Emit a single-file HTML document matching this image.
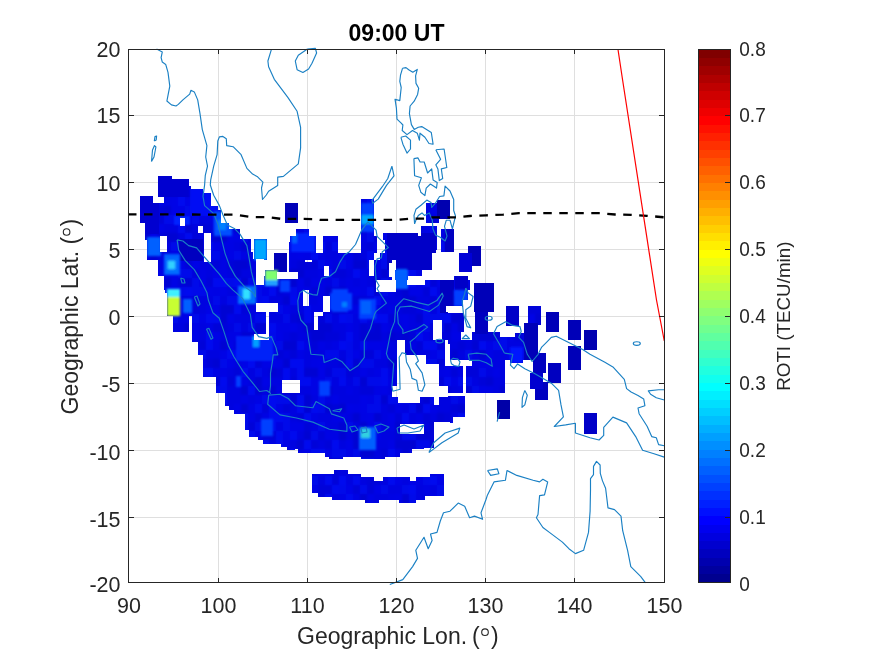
<!DOCTYPE html>
<html><head><meta charset="utf-8">
<style>
html,body{margin:0;padding:0;background:#fff;}
body{width:875px;height:656px;overflow:hidden;position:relative;}
svg{position:absolute;left:0;top:0;}
text{font-family:"Liberation Sans",sans-serif;fill:#262626;}
svg{will-change:transform;}
</style></head><body>
<svg width="875" height="656" viewBox="0 0 875 656">
<rect x="0" y="0" width="875" height="656" fill="#fff"/>

<g stroke="#dfdfdf" stroke-width="1" fill="none"><path d="M218.5 50V582M307.5 50V582M396.5 50V582M485.5 50V582M574.5 50V582M129 115.5H664M129 182.5H664M129 249.5H664M129 316.5H664M129 383.5H664M129 450.5H664M129 517.5H664"/></g>
<defs><mask id="dm" maskUnits="userSpaceOnUse" x="0" y="0" width="875" height="656"><g shape-rendering="crispEdges">
<rect x="158" y="176" width="14" height="4" fill="#fff"/>
<rect x="158" y="179" width="31" height="8" fill="#fff"/>
<rect x="158" y="186" width="33" height="4" fill="#fff"/>
<rect x="158" y="189" width="45" height="4" fill="#fff"/>
<rect x="158" y="193" width="53" height="4" fill="#fff"/>
<rect x="140" y="196" width="13" height="7" fill="#fff"/>
<rect x="164" y="196" width="47" height="7" fill="#fff"/>
<rect x="140" y="203" width="71" height="4" fill="#fff"/>
<rect x="140" y="206" width="78" height="5" fill="#fff"/>
<rect x="140" y="210" width="81" height="13" fill="#fff"/>
<rect x="145" y="223" width="84" height="7" fill="#fff"/>
<rect x="145" y="229" width="95" height="11" fill="#fff"/>
<rect x="147" y="239" width="104" height="13" fill="#fff"/>
<rect x="147" y="252" width="106" height="8" fill="#fff"/>
<rect x="158" y="259" width="98" height="17" fill="#fff"/>
<rect x="164" y="276" width="92" height="14" fill="#fff"/>
<rect x="264" y="276" width="31" height="14" fill="#fff"/>
<rect x="254" y="239" width="13" height="21" fill="#fff"/>
<rect x="274" y="253" width="13" height="19" fill="#fff"/>
<rect x="289" y="242" width="6" height="30" fill="#fff"/>
<rect x="285" y="203" width="10" height="20" fill="#fff"/>
<rect x="265" y="270" width="13" height="10" fill="#fff"/>
<rect x="290" y="203" width="8" height="20" fill="#fff"/>
<rect x="361" y="199" width="13" height="61" fill="#fff"/>
<rect x="421" y="226" width="16" height="24" fill="#fff"/>
<rect x="383" y="233" width="35" height="7" fill="#fff"/>
<rect x="426" y="203" width="13" height="20" fill="#fff"/>
<rect x="437" y="200" width="13" height="19" fill="#fff"/>
<rect x="296" y="229" width="13" height="7" fill="#fff"/>
<rect x="290" y="236" width="26" height="17" fill="#fff"/>
<rect x="323" y="236" width="15" height="17" fill="#fff"/>
<rect x="361" y="236" width="16" height="17" fill="#fff"/>
<rect x="385" y="236" width="51" height="17" fill="#fff"/>
<rect x="441" y="229" width="13" height="23" fill="#fff"/>
<rect x="290" y="253" width="84" height="7" fill="#fff"/>
<rect x="380" y="253" width="52" height="7" fill="#fff"/>
<rect x="290" y="260" width="79" height="16" fill="#fff"/>
<rect x="374" y="260" width="18" height="20" fill="#fff"/>
<rect x="396" y="260" width="36" height="10" fill="#fff"/>
<rect x="395" y="270" width="27" height="10" fill="#fff"/>
<rect x="290" y="276" width="86" height="14" fill="#fff"/>
<rect x="394" y="280" width="13" height="10" fill="#fff"/>
<rect x="425" y="280" width="25" height="10" fill="#fff"/>
<rect x="468" y="246" width="13" height="20" fill="#fff"/>
<rect x="459" y="253" width="13" height="19" fill="#fff"/>
<rect x="455" y="276" width="13" height="14" fill="#fff"/>
<rect x="445" y="280" width="25" height="10" fill="#fff"/>
<rect x="474" y="283" width="20" height="7" fill="#fff"/>
<rect x="165" y="285" width="130" height="8" fill="#fff"/>
<rect x="167" y="293" width="128" height="23" fill="#fff"/>
<rect x="173" y="316" width="16" height="16" fill="#fff"/>
<rect x="192" y="316" width="103" height="26" fill="#fff"/>
<rect x="198" y="342" width="97" height="13" fill="#fff"/>
<rect x="203" y="355" width="92" height="22" fill="#fff"/>
<rect x="216" y="377" width="79" height="16" fill="#fff"/>
<rect x="225" y="393" width="70" height="12" fill="#fff"/>
<rect x="290" y="285" width="155" height="120" fill="#fff"/>
<rect x="440" y="280" width="8" height="33" fill="#fff"/>
<rect x="448" y="287" width="6" height="20" fill="#fff"/>
<rect x="454" y="276" width="14" height="31" fill="#fff"/>
<rect x="468" y="280" width="2" height="7" fill="#fff"/>
<rect x="474" y="283" width="20" height="29" fill="#fff"/>
<rect x="475" y="312" width="13" height="22" fill="#fff"/>
<rect x="442" y="313" width="22" height="19" fill="#fff"/>
<rect x="440" y="332" width="21" height="13" fill="#fff"/>
<rect x="472" y="332" width="28" height="13" fill="#fff"/>
<rect x="448" y="340" width="90" height="20" fill="#fff"/>
<rect x="498" y="337" width="40" height="3" fill="#fff"/>
<rect x="515" y="333" width="9" height="4" fill="#fff"/>
<rect x="524" y="323" width="14" height="14" fill="#fff"/>
<rect x="510" y="347" width="13" height="16" fill="#fff"/>
<rect x="533" y="353" width="13" height="20" fill="#fff"/>
<rect x="530" y="373" width="13" height="16" fill="#fff"/>
<rect x="535" y="382" width="13" height="18" fill="#fff"/>
<rect x="548" y="363" width="13" height="20" fill="#fff"/>
<rect x="506" y="306" width="13" height="20" fill="#fff"/>
<rect x="528" y="306" width="13" height="19" fill="#fff"/>
<rect x="546" y="312" width="13" height="20" fill="#fff"/>
<rect x="568" y="320" width="13" height="20" fill="#fff"/>
<rect x="584" y="330" width="13" height="20" fill="#fff"/>
<rect x="568" y="346" width="13" height="24" fill="#fff"/>
<rect x="445" y="366" width="18" height="27" fill="#fff"/>
<rect x="466" y="360" width="39" height="33" fill="#fff"/>
<rect x="440" y="380" width="8" height="6" fill="#fff"/>
<rect x="448" y="396" width="15" height="9" fill="#fff"/>
<rect x="439" y="366" width="9" height="21" fill="#fff"/>
<rect x="439" y="397" width="9" height="8" fill="#fff"/>
<rect x="497" y="400" width="13" height="5" fill="#fff"/>
<rect x="225" y="400" width="70" height="6" fill="#fff"/>
<rect x="229" y="406" width="66" height="4" fill="#fff"/>
<rect x="234" y="410" width="61" height="4" fill="#fff"/>
<rect x="245" y="414" width="50" height="16" fill="#fff"/>
<rect x="249" y="430" width="46" height="7" fill="#fff"/>
<rect x="258" y="437" width="37" height="3" fill="#fff"/>
<rect x="263" y="440" width="32" height="4" fill="#fff"/>
<rect x="281" y="444" width="14" height="3" fill="#fff"/>
<rect x="287" y="447" width="8" height="3" fill="#fff"/>
<rect x="497" y="400" width="13" height="19" fill="#fff"/>
<rect x="420" y="396" width="14" height="52" fill="#fff"/>
<rect x="438" y="396" width="27" height="21" fill="#fff"/>
<rect x="434" y="403" width="19" height="20" fill="#fff"/>
<rect x="584" y="413" width="13" height="21" fill="#fff"/>
<rect x="290" y="400" width="8" height="49" fill="#fff"/>
<rect x="298" y="400" width="27" height="53" fill="#fff"/>
<rect x="325" y="400" width="4" height="57" fill="#fff"/>
<rect x="329" y="400" width="14" height="59" fill="#fff"/>
<rect x="343" y="400" width="18" height="57" fill="#fff"/>
<rect x="361" y="400" width="24" height="59" fill="#fff"/>
<rect x="385" y="400" width="15" height="57" fill="#fff"/>
<rect x="400" y="400" width="12" height="53" fill="#fff"/>
<rect x="412" y="400" width="12" height="49" fill="#fff"/>
<rect x="424" y="400" width="9" height="47" fill="#fff"/>
<rect x="433" y="400" width="17" height="22" fill="#fff"/>
<rect x="180" y="218" width="5" height="8" fill="#000"/>
<rect x="198" y="226" width="5" height="7" fill="#000"/>
<rect x="204" y="233" width="7" height="29" fill="#000"/>
<rect x="160" y="236" width="7" height="16" fill="#000"/>
<rect x="256" y="259" width="8" height="21" fill="#000"/>
<rect x="305" y="260" width="7" height="2" fill="#000"/>
<rect x="324" y="266" width="5" height="10" fill="#000"/>
<rect x="256" y="303" width="22" height="9" fill="#000"/>
<rect x="266" y="312" width="3" height="28" fill="#000"/>
<rect x="254" y="334" width="12" height="6" fill="#000"/>
<rect x="282" y="380" width="18" height="13" fill="#000"/>
<rect x="376" y="280" width="20" height="12" fill="#000"/>
<rect x="303" y="290" width="6" height="16" fill="#000"/>
<rect x="323" y="296" width="7" height="16" fill="#000"/>
<rect x="314" y="312" width="9" height="4" fill="#000"/>
<rect x="314" y="312" width="4" height="18" fill="#000"/>
<rect x="433" y="320" width="9" height="20" fill="#000"/>
<rect x="445" y="344" width="5" height="22" fill="#000"/>
<rect x="397" y="340" width="8" height="15" fill="#000"/>
<rect x="397" y="355" width="29" height="9" fill="#000"/>
<rect x="397" y="364" width="42" height="22" fill="#000"/>
<rect x="392" y="386" width="56" height="11" fill="#000"/>
<rect x="398" y="397" width="22" height="6" fill="#000"/>
<rect x="434" y="397" width="5" height="8" fill="#000"/>
<rect x="446" y="343" width="2" height="23" fill="#000"/>
<rect x="446" y="306" width="16" height="6" fill="#000"/>
<rect x="463" y="300" width="11" height="13" fill="#000"/>
<rect x="464" y="313" width="10" height="16" fill="#000"/>
<rect x="461" y="332" width="11" height="8" fill="#000"/>
<rect x="445" y="340" width="3" height="26" fill="#000"/>
<rect x="445" y="360" width="27" height="6" fill="#000"/>
<rect x="400" y="424" width="24" height="10" fill="#000"/>
<rect x="434" y="422" width="16" height="28" fill="#000"/>
<rect x="277" y="272" width="21" height="7" fill="#000"/>
<rect x="389" y="263" width="6" height="14" fill="#000"/>
<rect x="408" y="276" width="16" height="5" fill="#000"/>
<path d="M311.9,474 H333.9 V470.4 H347.6 V474 H361.3 V476.8 H374.1 V480.5 H383.3 V476.8 H409.8 V480.5 H416.2 V476.8 H429.9 V474 H443.6 V496 H425.3 V499.7 H416.2 V503.3 H398.8 V499.7 H378.7 V503.3 H365 V499.7 H332 V497 H318.3 V493.3 H311.9 Z" fill="#fff"/>
</g></mask><filter id="bl" x="-50%" y="-50%" width="200%" height="200%"><feGaussianBlur stdDeviation="1.3"/></filter></defs>
<g mask="url(#dm)">
<rect x="128" y="49" width="537" height="534" fill="#0008e0"/>
<g opacity="0.5" filter="url(#bl)">
<rect x="136" y="170" width="7" height="9" fill="#0010ff"/>
<rect x="143" y="170" width="7" height="9" fill="#0000e0"/>
<rect x="150" y="170" width="7" height="9" fill="#0000e0"/>
<rect x="157" y="170" width="7" height="9" fill="#0000c8"/>
<rect x="164" y="170" width="7" height="9" fill="#0000d4"/>
<rect x="171" y="170" width="7" height="9" fill="#0000d4"/>
<rect x="178" y="170" width="7" height="9" fill="#0010ff"/>
<rect x="185" y="170" width="7" height="9" fill="#0000c8"/>
<rect x="192" y="170" width="7" height="9" fill="#0000ec"/>
<rect x="199" y="170" width="7" height="9" fill="#0000c8"/>
<rect x="206" y="170" width="7" height="9" fill="#0000d4"/>
<rect x="213" y="170" width="7" height="9" fill="#0000e0"/>
<rect x="220" y="170" width="7" height="9" fill="#0000e0"/>
<rect x="227" y="170" width="7" height="9" fill="#0000d4"/>
<rect x="234" y="170" width="7" height="9" fill="#0000ec"/>
<rect x="241" y="170" width="7" height="9" fill="#0000d4"/>
<rect x="248" y="170" width="7" height="9" fill="#0000e0"/>
<rect x="255" y="170" width="7" height="9" fill="#0000c8"/>
<rect x="262" y="170" width="7" height="9" fill="#0000d4"/>
<rect x="269" y="170" width="7" height="9" fill="#0000ec"/>
<rect x="276" y="170" width="7" height="9" fill="#0000c8"/>
<rect x="283" y="170" width="7" height="9" fill="#0000e0"/>
<rect x="290" y="170" width="7" height="9" fill="#0000c8"/>
<rect x="297" y="170" width="7" height="9" fill="#0000ec"/>
<rect x="304" y="170" width="7" height="9" fill="#0000c8"/>
<rect x="311" y="170" width="7" height="9" fill="#0000e0"/>
<rect x="318" y="170" width="7" height="9" fill="#0008f4"/>
<rect x="325" y="170" width="7" height="9" fill="#0000e0"/>
<rect x="332" y="170" width="7" height="9" fill="#0000e0"/>
<rect x="339" y="170" width="7" height="9" fill="#0000d4"/>
<rect x="346" y="170" width="7" height="9" fill="#0008f4"/>
<rect x="353" y="170" width="7" height="9" fill="#0000e0"/>
<rect x="360" y="170" width="7" height="9" fill="#0000d4"/>
<rect x="367" y="170" width="7" height="9" fill="#0000ec"/>
<rect x="374" y="170" width="7" height="9" fill="#0010ff"/>
<rect x="381" y="170" width="7" height="9" fill="#0000d4"/>
<rect x="388" y="170" width="7" height="9" fill="#0000d4"/>
<rect x="395" y="170" width="7" height="9" fill="#0000c8"/>
<rect x="402" y="170" width="7" height="9" fill="#0000ec"/>
<rect x="409" y="170" width="7" height="9" fill="#0004e8"/>
<rect x="416" y="170" width="7" height="9" fill="#0000e0"/>
<rect x="423" y="170" width="7" height="9" fill="#0010ff"/>
<rect x="430" y="170" width="7" height="9" fill="#0004e8"/>
<rect x="437" y="170" width="7" height="9" fill="#0004e8"/>
<rect x="444" y="170" width="7" height="9" fill="#0010ff"/>
<rect x="451" y="170" width="7" height="9" fill="#0008f4"/>
<rect x="458" y="170" width="7" height="9" fill="#0000ec"/>
<rect x="465" y="170" width="7" height="9" fill="#0000e0"/>
<rect x="472" y="170" width="7" height="9" fill="#0000ec"/>
<rect x="479" y="170" width="7" height="9" fill="#0000d4"/>
<rect x="486" y="170" width="7" height="9" fill="#0008f4"/>
<rect x="493" y="170" width="7" height="9" fill="#0004e8"/>
<rect x="500" y="170" width="7" height="9" fill="#0010ff"/>
<rect x="507" y="170" width="7" height="9" fill="#0004e8"/>
<rect x="514" y="170" width="7" height="9" fill="#0008f4"/>
<rect x="521" y="170" width="7" height="9" fill="#0000d4"/>
<rect x="528" y="170" width="7" height="9" fill="#0000d4"/>
<rect x="535" y="170" width="7" height="9" fill="#0000e0"/>
<rect x="542" y="170" width="7" height="9" fill="#0000e0"/>
<rect x="549" y="170" width="7" height="9" fill="#0010ff"/>
<rect x="556" y="170" width="7" height="9" fill="#0000e0"/>
<rect x="563" y="170" width="7" height="9" fill="#0004e8"/>
<rect x="570" y="170" width="7" height="9" fill="#0000e0"/>
<rect x="577" y="170" width="7" height="9" fill="#0000c8"/>
<rect x="584" y="170" width="7" height="9" fill="#0000d4"/>
<rect x="591" y="170" width="7" height="9" fill="#0010ff"/>
<rect x="598" y="170" width="7" height="9" fill="#0010ff"/>
<rect x="136" y="179" width="7" height="9" fill="#0010ff"/>
<rect x="143" y="179" width="7" height="9" fill="#0004e8"/>
<rect x="150" y="179" width="7" height="9" fill="#0004e8"/>
<rect x="157" y="179" width="7" height="9" fill="#0000d4"/>
<rect x="164" y="179" width="7" height="9" fill="#0000d4"/>
<rect x="171" y="179" width="7" height="9" fill="#0008f4"/>
<rect x="178" y="179" width="7" height="9" fill="#0004e8"/>
<rect x="185" y="179" width="7" height="9" fill="#0000d4"/>
<rect x="192" y="179" width="7" height="9" fill="#0000c8"/>
<rect x="199" y="179" width="7" height="9" fill="#0008f4"/>
<rect x="206" y="179" width="7" height="9" fill="#0004e8"/>
<rect x="213" y="179" width="7" height="9" fill="#0008f4"/>
<rect x="220" y="179" width="7" height="9" fill="#0000e0"/>
<rect x="227" y="179" width="7" height="9" fill="#0010ff"/>
<rect x="234" y="179" width="7" height="9" fill="#0000c8"/>
<rect x="241" y="179" width="7" height="9" fill="#0004e8"/>
<rect x="248" y="179" width="7" height="9" fill="#0010ff"/>
<rect x="255" y="179" width="7" height="9" fill="#0000e0"/>
<rect x="262" y="179" width="7" height="9" fill="#0000d4"/>
<rect x="269" y="179" width="7" height="9" fill="#0004e8"/>
<rect x="276" y="179" width="7" height="9" fill="#0000c8"/>
<rect x="283" y="179" width="7" height="9" fill="#0000ec"/>
<rect x="290" y="179" width="7" height="9" fill="#0008f4"/>
<rect x="297" y="179" width="7" height="9" fill="#0000e0"/>
<rect x="304" y="179" width="7" height="9" fill="#0000ec"/>
<rect x="311" y="179" width="7" height="9" fill="#0000e0"/>
<rect x="318" y="179" width="7" height="9" fill="#0000e0"/>
<rect x="325" y="179" width="7" height="9" fill="#0004e8"/>
<rect x="332" y="179" width="7" height="9" fill="#0000d4"/>
<rect x="339" y="179" width="7" height="9" fill="#0000e0"/>
<rect x="346" y="179" width="7" height="9" fill="#0004e8"/>
<rect x="353" y="179" width="7" height="9" fill="#0000e0"/>
<rect x="360" y="179" width="7" height="9" fill="#0008f4"/>
<rect x="367" y="179" width="7" height="9" fill="#0000e0"/>
<rect x="374" y="179" width="7" height="9" fill="#0000e0"/>
<rect x="381" y="179" width="7" height="9" fill="#0008f4"/>
<rect x="388" y="179" width="7" height="9" fill="#0000e0"/>
<rect x="395" y="179" width="7" height="9" fill="#0010ff"/>
<rect x="402" y="179" width="7" height="9" fill="#0000e0"/>
<rect x="409" y="179" width="7" height="9" fill="#0000ec"/>
<rect x="416" y="179" width="7" height="9" fill="#0000e0"/>
<rect x="423" y="179" width="7" height="9" fill="#0000d4"/>
<rect x="430" y="179" width="7" height="9" fill="#0000e0"/>
<rect x="437" y="179" width="7" height="9" fill="#0000e0"/>
<rect x="444" y="179" width="7" height="9" fill="#0000ec"/>
<rect x="451" y="179" width="7" height="9" fill="#0000ec"/>
<rect x="458" y="179" width="7" height="9" fill="#0000c8"/>
<rect x="465" y="179" width="7" height="9" fill="#0004e8"/>
<rect x="472" y="179" width="7" height="9" fill="#0000e0"/>
<rect x="479" y="179" width="7" height="9" fill="#0008f4"/>
<rect x="486" y="179" width="7" height="9" fill="#0008f4"/>
<rect x="493" y="179" width="7" height="9" fill="#0000c8"/>
<rect x="500" y="179" width="7" height="9" fill="#0000e0"/>
<rect x="507" y="179" width="7" height="9" fill="#0000e0"/>
<rect x="514" y="179" width="7" height="9" fill="#0010ff"/>
<rect x="521" y="179" width="7" height="9" fill="#0010ff"/>
<rect x="528" y="179" width="7" height="9" fill="#0000e0"/>
<rect x="535" y="179" width="7" height="9" fill="#0000c8"/>
<rect x="542" y="179" width="7" height="9" fill="#0004e8"/>
<rect x="549" y="179" width="7" height="9" fill="#0000e0"/>
<rect x="556" y="179" width="7" height="9" fill="#0000e0"/>
<rect x="563" y="179" width="7" height="9" fill="#0000e0"/>
<rect x="570" y="179" width="7" height="9" fill="#0000e0"/>
<rect x="577" y="179" width="7" height="9" fill="#0000d4"/>
<rect x="584" y="179" width="7" height="9" fill="#0004e8"/>
<rect x="591" y="179" width="7" height="9" fill="#0000e0"/>
<rect x="598" y="179" width="7" height="9" fill="#0000c8"/>
<rect x="136" y="188" width="7" height="9" fill="#0000ec"/>
<rect x="143" y="188" width="7" height="9" fill="#0000d4"/>
<rect x="150" y="188" width="7" height="9" fill="#0000ec"/>
<rect x="157" y="188" width="7" height="9" fill="#0004e8"/>
<rect x="164" y="188" width="7" height="9" fill="#0000e0"/>
<rect x="171" y="188" width="7" height="9" fill="#0000d4"/>
<rect x="178" y="188" width="7" height="9" fill="#0010ff"/>
<rect x="185" y="188" width="7" height="9" fill="#0000c8"/>
<rect x="192" y="188" width="7" height="9" fill="#0000d4"/>
<rect x="199" y="188" width="7" height="9" fill="#0000c8"/>
<rect x="206" y="188" width="7" height="9" fill="#0000e0"/>
<rect x="213" y="188" width="7" height="9" fill="#0000d4"/>
<rect x="220" y="188" width="7" height="9" fill="#0010ff"/>
<rect x="227" y="188" width="7" height="9" fill="#0000c8"/>
<rect x="234" y="188" width="7" height="9" fill="#0000d4"/>
<rect x="241" y="188" width="7" height="9" fill="#0000ec"/>
<rect x="248" y="188" width="7" height="9" fill="#0000e0"/>
<rect x="255" y="188" width="7" height="9" fill="#0000e0"/>
<rect x="262" y="188" width="7" height="9" fill="#0008f4"/>
<rect x="269" y="188" width="7" height="9" fill="#0010ff"/>
<rect x="276" y="188" width="7" height="9" fill="#0010ff"/>
<rect x="283" y="188" width="7" height="9" fill="#0004e8"/>
<rect x="290" y="188" width="7" height="9" fill="#0000d4"/>
<rect x="297" y="188" width="7" height="9" fill="#0000d4"/>
<rect x="304" y="188" width="7" height="9" fill="#0004e8"/>
<rect x="311" y="188" width="7" height="9" fill="#0004e8"/>
<rect x="318" y="188" width="7" height="9" fill="#0004e8"/>
<rect x="325" y="188" width="7" height="9" fill="#0004e8"/>
<rect x="332" y="188" width="7" height="9" fill="#0008f4"/>
<rect x="339" y="188" width="7" height="9" fill="#0000d4"/>
<rect x="346" y="188" width="7" height="9" fill="#0000e0"/>
<rect x="353" y="188" width="7" height="9" fill="#0000d4"/>
<rect x="360" y="188" width="7" height="9" fill="#0010ff"/>
<rect x="367" y="188" width="7" height="9" fill="#0008f4"/>
<rect x="374" y="188" width="7" height="9" fill="#0004e8"/>
<rect x="381" y="188" width="7" height="9" fill="#0000e0"/>
<rect x="388" y="188" width="7" height="9" fill="#0000c8"/>
<rect x="395" y="188" width="7" height="9" fill="#0000ec"/>
<rect x="402" y="188" width="7" height="9" fill="#0010ff"/>
<rect x="409" y="188" width="7" height="9" fill="#0000e0"/>
<rect x="416" y="188" width="7" height="9" fill="#0000c8"/>
<rect x="423" y="188" width="7" height="9" fill="#0008f4"/>
<rect x="430" y="188" width="7" height="9" fill="#0000d4"/>
<rect x="437" y="188" width="7" height="9" fill="#0008f4"/>
<rect x="444" y="188" width="7" height="9" fill="#0010ff"/>
<rect x="451" y="188" width="7" height="9" fill="#0000e0"/>
<rect x="458" y="188" width="7" height="9" fill="#0010ff"/>
<rect x="465" y="188" width="7" height="9" fill="#0000ec"/>
<rect x="472" y="188" width="7" height="9" fill="#0010ff"/>
<rect x="479" y="188" width="7" height="9" fill="#0000ec"/>
<rect x="486" y="188" width="7" height="9" fill="#0000ec"/>
<rect x="493" y="188" width="7" height="9" fill="#0000ec"/>
<rect x="500" y="188" width="7" height="9" fill="#0000e0"/>
<rect x="507" y="188" width="7" height="9" fill="#0000ec"/>
<rect x="514" y="188" width="7" height="9" fill="#0000ec"/>
<rect x="521" y="188" width="7" height="9" fill="#0004e8"/>
<rect x="528" y="188" width="7" height="9" fill="#0010ff"/>
<rect x="535" y="188" width="7" height="9" fill="#0000c8"/>
<rect x="542" y="188" width="7" height="9" fill="#0000c8"/>
<rect x="549" y="188" width="7" height="9" fill="#0008f4"/>
<rect x="556" y="188" width="7" height="9" fill="#0004e8"/>
<rect x="563" y="188" width="7" height="9" fill="#0008f4"/>
<rect x="570" y="188" width="7" height="9" fill="#0000ec"/>
<rect x="577" y="188" width="7" height="9" fill="#0010ff"/>
<rect x="584" y="188" width="7" height="9" fill="#0004e8"/>
<rect x="591" y="188" width="7" height="9" fill="#0010ff"/>
<rect x="598" y="188" width="7" height="9" fill="#0010ff"/>
<rect x="136" y="197" width="7" height="9" fill="#0000d4"/>
<rect x="143" y="197" width="7" height="9" fill="#0000ec"/>
<rect x="150" y="197" width="7" height="9" fill="#0000d4"/>
<rect x="157" y="197" width="7" height="9" fill="#0000ec"/>
<rect x="164" y="197" width="7" height="9" fill="#0004e8"/>
<rect x="171" y="197" width="7" height="9" fill="#0000ec"/>
<rect x="178" y="197" width="7" height="9" fill="#0010ff"/>
<rect x="185" y="197" width="7" height="9" fill="#0000ec"/>
<rect x="192" y="197" width="7" height="9" fill="#0004e8"/>
<rect x="199" y="197" width="7" height="9" fill="#0000c8"/>
<rect x="206" y="197" width="7" height="9" fill="#0004e8"/>
<rect x="213" y="197" width="7" height="9" fill="#0010ff"/>
<rect x="220" y="197" width="7" height="9" fill="#0000d4"/>
<rect x="227" y="197" width="7" height="9" fill="#0000d4"/>
<rect x="234" y="197" width="7" height="9" fill="#0000e0"/>
<rect x="241" y="197" width="7" height="9" fill="#0000ec"/>
<rect x="248" y="197" width="7" height="9" fill="#0004e8"/>
<rect x="255" y="197" width="7" height="9" fill="#0000e0"/>
<rect x="262" y="197" width="7" height="9" fill="#0000e0"/>
<rect x="269" y="197" width="7" height="9" fill="#0010ff"/>
<rect x="276" y="197" width="7" height="9" fill="#0000d4"/>
<rect x="283" y="197" width="7" height="9" fill="#0000e0"/>
<rect x="290" y="197" width="7" height="9" fill="#0004e8"/>
<rect x="297" y="197" width="7" height="9" fill="#0000e0"/>
<rect x="304" y="197" width="7" height="9" fill="#0000d4"/>
<rect x="311" y="197" width="7" height="9" fill="#0000e0"/>
<rect x="318" y="197" width="7" height="9" fill="#0000e0"/>
<rect x="325" y="197" width="7" height="9" fill="#0000e0"/>
<rect x="332" y="197" width="7" height="9" fill="#0000c8"/>
<rect x="339" y="197" width="7" height="9" fill="#0000e0"/>
<rect x="346" y="197" width="7" height="9" fill="#0004e8"/>
<rect x="353" y="197" width="7" height="9" fill="#0000e0"/>
<rect x="360" y="197" width="7" height="9" fill="#0004e8"/>
<rect x="367" y="197" width="7" height="9" fill="#0010ff"/>
<rect x="374" y="197" width="7" height="9" fill="#0000e0"/>
<rect x="381" y="197" width="7" height="9" fill="#0000e0"/>
<rect x="388" y="197" width="7" height="9" fill="#0000c8"/>
<rect x="395" y="197" width="7" height="9" fill="#0000c8"/>
<rect x="402" y="197" width="7" height="9" fill="#0000d4"/>
<rect x="409" y="197" width="7" height="9" fill="#0000e0"/>
<rect x="416" y="197" width="7" height="9" fill="#0000e0"/>
<rect x="423" y="197" width="7" height="9" fill="#0000ec"/>
<rect x="430" y="197" width="7" height="9" fill="#0000ec"/>
<rect x="437" y="197" width="7" height="9" fill="#0000c8"/>
<rect x="444" y="197" width="7" height="9" fill="#0008f4"/>
<rect x="451" y="197" width="7" height="9" fill="#0000ec"/>
<rect x="458" y="197" width="7" height="9" fill="#0008f4"/>
<rect x="465" y="197" width="7" height="9" fill="#0000ec"/>
<rect x="472" y="197" width="7" height="9" fill="#0010ff"/>
<rect x="479" y="197" width="7" height="9" fill="#0008f4"/>
<rect x="486" y="197" width="7" height="9" fill="#0000e0"/>
<rect x="493" y="197" width="7" height="9" fill="#0000e0"/>
<rect x="500" y="197" width="7" height="9" fill="#0000c8"/>
<rect x="507" y="197" width="7" height="9" fill="#0010ff"/>
<rect x="514" y="197" width="7" height="9" fill="#0004e8"/>
<rect x="521" y="197" width="7" height="9" fill="#0000e0"/>
<rect x="528" y="197" width="7" height="9" fill="#0000e0"/>
<rect x="535" y="197" width="7" height="9" fill="#0000e0"/>
<rect x="542" y="197" width="7" height="9" fill="#0000c8"/>
<rect x="549" y="197" width="7" height="9" fill="#0004e8"/>
<rect x="556" y="197" width="7" height="9" fill="#0000e0"/>
<rect x="563" y="197" width="7" height="9" fill="#0000c8"/>
<rect x="570" y="197" width="7" height="9" fill="#0000e0"/>
<rect x="577" y="197" width="7" height="9" fill="#0000e0"/>
<rect x="584" y="197" width="7" height="9" fill="#0000e0"/>
<rect x="591" y="197" width="7" height="9" fill="#0004e8"/>
<rect x="598" y="197" width="7" height="9" fill="#0000d4"/>
<rect x="136" y="206" width="7" height="9" fill="#0000c8"/>
<rect x="143" y="206" width="7" height="9" fill="#0010ff"/>
<rect x="150" y="206" width="7" height="9" fill="#0004e8"/>
<rect x="157" y="206" width="7" height="9" fill="#0000d4"/>
<rect x="164" y="206" width="7" height="9" fill="#0000c8"/>
<rect x="171" y="206" width="7" height="9" fill="#0000ec"/>
<rect x="178" y="206" width="7" height="9" fill="#0000ec"/>
<rect x="185" y="206" width="7" height="9" fill="#0008f4"/>
<rect x="192" y="206" width="7" height="9" fill="#0000c8"/>
<rect x="199" y="206" width="7" height="9" fill="#0000d4"/>
<rect x="206" y="206" width="7" height="9" fill="#0004e8"/>
<rect x="213" y="206" width="7" height="9" fill="#0000c8"/>
<rect x="220" y="206" width="7" height="9" fill="#0000d4"/>
<rect x="227" y="206" width="7" height="9" fill="#0004e8"/>
<rect x="234" y="206" width="7" height="9" fill="#0010ff"/>
<rect x="241" y="206" width="7" height="9" fill="#0000ec"/>
<rect x="248" y="206" width="7" height="9" fill="#0008f4"/>
<rect x="255" y="206" width="7" height="9" fill="#0004e8"/>
<rect x="262" y="206" width="7" height="9" fill="#0004e8"/>
<rect x="269" y="206" width="7" height="9" fill="#0000ec"/>
<rect x="276" y="206" width="7" height="9" fill="#0008f4"/>
<rect x="283" y="206" width="7" height="9" fill="#0000ec"/>
<rect x="290" y="206" width="7" height="9" fill="#0004e8"/>
<rect x="297" y="206" width="7" height="9" fill="#0000e0"/>
<rect x="304" y="206" width="7" height="9" fill="#0000e0"/>
<rect x="311" y="206" width="7" height="9" fill="#0000d4"/>
<rect x="318" y="206" width="7" height="9" fill="#0000e0"/>
<rect x="325" y="206" width="7" height="9" fill="#0004e8"/>
<rect x="332" y="206" width="7" height="9" fill="#0010ff"/>
<rect x="339" y="206" width="7" height="9" fill="#0000d4"/>
<rect x="346" y="206" width="7" height="9" fill="#0000ec"/>
<rect x="353" y="206" width="7" height="9" fill="#0000e0"/>
<rect x="360" y="206" width="7" height="9" fill="#0000d4"/>
<rect x="367" y="206" width="7" height="9" fill="#0000ec"/>
<rect x="374" y="206" width="7" height="9" fill="#0008f4"/>
<rect x="381" y="206" width="7" height="9" fill="#0000d4"/>
<rect x="388" y="206" width="7" height="9" fill="#0000e0"/>
<rect x="395" y="206" width="7" height="9" fill="#0010ff"/>
<rect x="402" y="206" width="7" height="9" fill="#0000e0"/>
<rect x="409" y="206" width="7" height="9" fill="#0008f4"/>
<rect x="416" y="206" width="7" height="9" fill="#0000e0"/>
<rect x="423" y="206" width="7" height="9" fill="#0004e8"/>
<rect x="430" y="206" width="7" height="9" fill="#0000ec"/>
<rect x="437" y="206" width="7" height="9" fill="#0000d4"/>
<rect x="444" y="206" width="7" height="9" fill="#0000e0"/>
<rect x="451" y="206" width="7" height="9" fill="#0004e8"/>
<rect x="458" y="206" width="7" height="9" fill="#0000e0"/>
<rect x="465" y="206" width="7" height="9" fill="#0000ec"/>
<rect x="472" y="206" width="7" height="9" fill="#0000e0"/>
<rect x="479" y="206" width="7" height="9" fill="#0000e0"/>
<rect x="486" y="206" width="7" height="9" fill="#0000e0"/>
<rect x="493" y="206" width="7" height="9" fill="#0010ff"/>
<rect x="500" y="206" width="7" height="9" fill="#0000e0"/>
<rect x="507" y="206" width="7" height="9" fill="#0000ec"/>
<rect x="514" y="206" width="7" height="9" fill="#0010ff"/>
<rect x="521" y="206" width="7" height="9" fill="#0010ff"/>
<rect x="528" y="206" width="7" height="9" fill="#0000d4"/>
<rect x="535" y="206" width="7" height="9" fill="#0010ff"/>
<rect x="542" y="206" width="7" height="9" fill="#0000c8"/>
<rect x="549" y="206" width="7" height="9" fill="#0010ff"/>
<rect x="556" y="206" width="7" height="9" fill="#0004e8"/>
<rect x="563" y="206" width="7" height="9" fill="#0004e8"/>
<rect x="570" y="206" width="7" height="9" fill="#0000c8"/>
<rect x="577" y="206" width="7" height="9" fill="#0000e0"/>
<rect x="584" y="206" width="7" height="9" fill="#0010ff"/>
<rect x="591" y="206" width="7" height="9" fill="#0008f4"/>
<rect x="598" y="206" width="7" height="9" fill="#0000d4"/>
<rect x="136" y="215" width="7" height="9" fill="#0000d4"/>
<rect x="143" y="215" width="7" height="9" fill="#0000ec"/>
<rect x="150" y="215" width="7" height="9" fill="#0000d4"/>
<rect x="157" y="215" width="7" height="9" fill="#0000d4"/>
<rect x="164" y="215" width="7" height="9" fill="#0008f4"/>
<rect x="171" y="215" width="7" height="9" fill="#0008f4"/>
<rect x="178" y="215" width="7" height="9" fill="#0000c8"/>
<rect x="185" y="215" width="7" height="9" fill="#0000e0"/>
<rect x="192" y="215" width="7" height="9" fill="#0008f4"/>
<rect x="199" y="215" width="7" height="9" fill="#0000e0"/>
<rect x="206" y="215" width="7" height="9" fill="#0000e0"/>
<rect x="213" y="215" width="7" height="9" fill="#0008f4"/>
<rect x="220" y="215" width="7" height="9" fill="#0000e0"/>
<rect x="227" y="215" width="7" height="9" fill="#0000e0"/>
<rect x="234" y="215" width="7" height="9" fill="#0004e8"/>
<rect x="241" y="215" width="7" height="9" fill="#0010ff"/>
<rect x="248" y="215" width="7" height="9" fill="#0000d4"/>
<rect x="255" y="215" width="7" height="9" fill="#0008f4"/>
<rect x="262" y="215" width="7" height="9" fill="#0000c8"/>
<rect x="269" y="215" width="7" height="9" fill="#0000e0"/>
<rect x="276" y="215" width="7" height="9" fill="#0000e0"/>
<rect x="283" y="215" width="7" height="9" fill="#0000d4"/>
<rect x="290" y="215" width="7" height="9" fill="#0008f4"/>
<rect x="297" y="215" width="7" height="9" fill="#0000c8"/>
<rect x="304" y="215" width="7" height="9" fill="#0000d4"/>
<rect x="311" y="215" width="7" height="9" fill="#0008f4"/>
<rect x="318" y="215" width="7" height="9" fill="#0000d4"/>
<rect x="325" y="215" width="7" height="9" fill="#0000ec"/>
<rect x="332" y="215" width="7" height="9" fill="#0000d4"/>
<rect x="339" y="215" width="7" height="9" fill="#0008f4"/>
<rect x="346" y="215" width="7" height="9" fill="#0000d4"/>
<rect x="353" y="215" width="7" height="9" fill="#0004e8"/>
<rect x="360" y="215" width="7" height="9" fill="#0000c8"/>
<rect x="367" y="215" width="7" height="9" fill="#0010ff"/>
<rect x="374" y="215" width="7" height="9" fill="#0000e0"/>
<rect x="381" y="215" width="7" height="9" fill="#0008f4"/>
<rect x="388" y="215" width="7" height="9" fill="#0000e0"/>
<rect x="395" y="215" width="7" height="9" fill="#0000c8"/>
<rect x="402" y="215" width="7" height="9" fill="#0000ec"/>
<rect x="409" y="215" width="7" height="9" fill="#0000d4"/>
<rect x="416" y="215" width="7" height="9" fill="#0000e0"/>
<rect x="423" y="215" width="7" height="9" fill="#0008f4"/>
<rect x="430" y="215" width="7" height="9" fill="#0000c8"/>
<rect x="437" y="215" width="7" height="9" fill="#0000e0"/>
<rect x="444" y="215" width="7" height="9" fill="#0000ec"/>
<rect x="451" y="215" width="7" height="9" fill="#0008f4"/>
<rect x="458" y="215" width="7" height="9" fill="#0008f4"/>
<rect x="465" y="215" width="7" height="9" fill="#0000ec"/>
<rect x="472" y="215" width="7" height="9" fill="#0008f4"/>
<rect x="479" y="215" width="7" height="9" fill="#0004e8"/>
<rect x="486" y="215" width="7" height="9" fill="#0000e0"/>
<rect x="493" y="215" width="7" height="9" fill="#0008f4"/>
<rect x="500" y="215" width="7" height="9" fill="#0010ff"/>
<rect x="507" y="215" width="7" height="9" fill="#0000c8"/>
<rect x="514" y="215" width="7" height="9" fill="#0008f4"/>
<rect x="521" y="215" width="7" height="9" fill="#0000c8"/>
<rect x="528" y="215" width="7" height="9" fill="#0000c8"/>
<rect x="535" y="215" width="7" height="9" fill="#0000c8"/>
<rect x="542" y="215" width="7" height="9" fill="#0000ec"/>
<rect x="549" y="215" width="7" height="9" fill="#0004e8"/>
<rect x="556" y="215" width="7" height="9" fill="#0000ec"/>
<rect x="563" y="215" width="7" height="9" fill="#0004e8"/>
<rect x="570" y="215" width="7" height="9" fill="#0000d4"/>
<rect x="577" y="215" width="7" height="9" fill="#0000e0"/>
<rect x="584" y="215" width="7" height="9" fill="#0004e8"/>
<rect x="591" y="215" width="7" height="9" fill="#0000e0"/>
<rect x="598" y="215" width="7" height="9" fill="#0008f4"/>
<rect x="136" y="224" width="7" height="9" fill="#0000ec"/>
<rect x="143" y="224" width="7" height="9" fill="#0000ec"/>
<rect x="150" y="224" width="7" height="9" fill="#0010ff"/>
<rect x="157" y="224" width="7" height="9" fill="#0000ec"/>
<rect x="164" y="224" width="7" height="9" fill="#0000e0"/>
<rect x="171" y="224" width="7" height="9" fill="#0000e0"/>
<rect x="178" y="224" width="7" height="9" fill="#0010ff"/>
<rect x="185" y="224" width="7" height="9" fill="#0000c8"/>
<rect x="192" y="224" width="7" height="9" fill="#0000e0"/>
<rect x="199" y="224" width="7" height="9" fill="#0000c8"/>
<rect x="206" y="224" width="7" height="9" fill="#0000d4"/>
<rect x="213" y="224" width="7" height="9" fill="#0008f4"/>
<rect x="220" y="224" width="7" height="9" fill="#0000e0"/>
<rect x="227" y="224" width="7" height="9" fill="#0000e0"/>
<rect x="234" y="224" width="7" height="9" fill="#0000c8"/>
<rect x="241" y="224" width="7" height="9" fill="#0000d4"/>
<rect x="248" y="224" width="7" height="9" fill="#0000e0"/>
<rect x="255" y="224" width="7" height="9" fill="#0008f4"/>
<rect x="262" y="224" width="7" height="9" fill="#0000ec"/>
<rect x="269" y="224" width="7" height="9" fill="#0008f4"/>
<rect x="276" y="224" width="7" height="9" fill="#0000c8"/>
<rect x="283" y="224" width="7" height="9" fill="#0004e8"/>
<rect x="290" y="224" width="7" height="9" fill="#0000e0"/>
<rect x="297" y="224" width="7" height="9" fill="#0000e0"/>
<rect x="304" y="224" width="7" height="9" fill="#0008f4"/>
<rect x="311" y="224" width="7" height="9" fill="#0004e8"/>
<rect x="318" y="224" width="7" height="9" fill="#0000c8"/>
<rect x="325" y="224" width="7" height="9" fill="#0008f4"/>
<rect x="332" y="224" width="7" height="9" fill="#0010ff"/>
<rect x="339" y="224" width="7" height="9" fill="#0010ff"/>
<rect x="346" y="224" width="7" height="9" fill="#0010ff"/>
<rect x="353" y="224" width="7" height="9" fill="#0000ec"/>
<rect x="360" y="224" width="7" height="9" fill="#0000c8"/>
<rect x="367" y="224" width="7" height="9" fill="#0008f4"/>
<rect x="374" y="224" width="7" height="9" fill="#0000ec"/>
<rect x="381" y="224" width="7" height="9" fill="#0010ff"/>
<rect x="388" y="224" width="7" height="9" fill="#0000e0"/>
<rect x="395" y="224" width="7" height="9" fill="#0000c8"/>
<rect x="402" y="224" width="7" height="9" fill="#0010ff"/>
<rect x="409" y="224" width="7" height="9" fill="#0000e0"/>
<rect x="416" y="224" width="7" height="9" fill="#0000d4"/>
<rect x="423" y="224" width="7" height="9" fill="#0004e8"/>
<rect x="430" y="224" width="7" height="9" fill="#0008f4"/>
<rect x="437" y="224" width="7" height="9" fill="#0000ec"/>
<rect x="444" y="224" width="7" height="9" fill="#0000ec"/>
<rect x="451" y="224" width="7" height="9" fill="#0000c8"/>
<rect x="458" y="224" width="7" height="9" fill="#0000d4"/>
<rect x="465" y="224" width="7" height="9" fill="#0008f4"/>
<rect x="472" y="224" width="7" height="9" fill="#0000d4"/>
<rect x="479" y="224" width="7" height="9" fill="#0000e0"/>
<rect x="486" y="224" width="7" height="9" fill="#0000e0"/>
<rect x="493" y="224" width="7" height="9" fill="#0000c8"/>
<rect x="500" y="224" width="7" height="9" fill="#0000e0"/>
<rect x="507" y="224" width="7" height="9" fill="#0000c8"/>
<rect x="514" y="224" width="7" height="9" fill="#0008f4"/>
<rect x="521" y="224" width="7" height="9" fill="#0008f4"/>
<rect x="528" y="224" width="7" height="9" fill="#0000ec"/>
<rect x="535" y="224" width="7" height="9" fill="#0000d4"/>
<rect x="542" y="224" width="7" height="9" fill="#0000e0"/>
<rect x="549" y="224" width="7" height="9" fill="#0000e0"/>
<rect x="556" y="224" width="7" height="9" fill="#0010ff"/>
<rect x="563" y="224" width="7" height="9" fill="#0004e8"/>
<rect x="570" y="224" width="7" height="9" fill="#0000e0"/>
<rect x="577" y="224" width="7" height="9" fill="#0008f4"/>
<rect x="584" y="224" width="7" height="9" fill="#0000e0"/>
<rect x="591" y="224" width="7" height="9" fill="#0000c8"/>
<rect x="598" y="224" width="7" height="9" fill="#0000e0"/>
<rect x="136" y="233" width="7" height="9" fill="#0000e0"/>
<rect x="143" y="233" width="7" height="9" fill="#0000c8"/>
<rect x="150" y="233" width="7" height="9" fill="#0000ec"/>
<rect x="157" y="233" width="7" height="9" fill="#0000d4"/>
<rect x="164" y="233" width="7" height="9" fill="#0000c8"/>
<rect x="171" y="233" width="7" height="9" fill="#0000c8"/>
<rect x="178" y="233" width="7" height="9" fill="#0000e0"/>
<rect x="185" y="233" width="7" height="9" fill="#0010ff"/>
<rect x="192" y="233" width="7" height="9" fill="#0000d4"/>
<rect x="199" y="233" width="7" height="9" fill="#0000e0"/>
<rect x="206" y="233" width="7" height="9" fill="#0004e8"/>
<rect x="213" y="233" width="7" height="9" fill="#0000c8"/>
<rect x="220" y="233" width="7" height="9" fill="#0000c8"/>
<rect x="227" y="233" width="7" height="9" fill="#0000ec"/>
<rect x="234" y="233" width="7" height="9" fill="#0004e8"/>
<rect x="241" y="233" width="7" height="9" fill="#0008f4"/>
<rect x="248" y="233" width="7" height="9" fill="#0000c8"/>
<rect x="255" y="233" width="7" height="9" fill="#0004e8"/>
<rect x="262" y="233" width="7" height="9" fill="#0000d4"/>
<rect x="269" y="233" width="7" height="9" fill="#0000d4"/>
<rect x="276" y="233" width="7" height="9" fill="#0000d4"/>
<rect x="283" y="233" width="7" height="9" fill="#0004e8"/>
<rect x="290" y="233" width="7" height="9" fill="#0008f4"/>
<rect x="297" y="233" width="7" height="9" fill="#0000d4"/>
<rect x="304" y="233" width="7" height="9" fill="#0008f4"/>
<rect x="311" y="233" width="7" height="9" fill="#0000ec"/>
<rect x="318" y="233" width="7" height="9" fill="#0000ec"/>
<rect x="325" y="233" width="7" height="9" fill="#0000ec"/>
<rect x="332" y="233" width="7" height="9" fill="#0004e8"/>
<rect x="339" y="233" width="7" height="9" fill="#0004e8"/>
<rect x="346" y="233" width="7" height="9" fill="#0000e0"/>
<rect x="353" y="233" width="7" height="9" fill="#0000d4"/>
<rect x="360" y="233" width="7" height="9" fill="#0004e8"/>
<rect x="367" y="233" width="7" height="9" fill="#0008f4"/>
<rect x="374" y="233" width="7" height="9" fill="#0000c8"/>
<rect x="381" y="233" width="7" height="9" fill="#0000ec"/>
<rect x="388" y="233" width="7" height="9" fill="#0000d4"/>
<rect x="395" y="233" width="7" height="9" fill="#0000e0"/>
<rect x="402" y="233" width="7" height="9" fill="#0010ff"/>
<rect x="409" y="233" width="7" height="9" fill="#0008f4"/>
<rect x="416" y="233" width="7" height="9" fill="#0008f4"/>
<rect x="423" y="233" width="7" height="9" fill="#0000e0"/>
<rect x="430" y="233" width="7" height="9" fill="#0000c8"/>
<rect x="437" y="233" width="7" height="9" fill="#0004e8"/>
<rect x="444" y="233" width="7" height="9" fill="#0000c8"/>
<rect x="451" y="233" width="7" height="9" fill="#0004e8"/>
<rect x="458" y="233" width="7" height="9" fill="#0008f4"/>
<rect x="465" y="233" width="7" height="9" fill="#0000d4"/>
<rect x="472" y="233" width="7" height="9" fill="#0000ec"/>
<rect x="479" y="233" width="7" height="9" fill="#0004e8"/>
<rect x="486" y="233" width="7" height="9" fill="#0008f4"/>
<rect x="493" y="233" width="7" height="9" fill="#0008f4"/>
<rect x="500" y="233" width="7" height="9" fill="#0004e8"/>
<rect x="507" y="233" width="7" height="9" fill="#0004e8"/>
<rect x="514" y="233" width="7" height="9" fill="#0004e8"/>
<rect x="521" y="233" width="7" height="9" fill="#0000d4"/>
<rect x="528" y="233" width="7" height="9" fill="#0000ec"/>
<rect x="535" y="233" width="7" height="9" fill="#0008f4"/>
<rect x="542" y="233" width="7" height="9" fill="#0000d4"/>
<rect x="549" y="233" width="7" height="9" fill="#0004e8"/>
<rect x="556" y="233" width="7" height="9" fill="#0000c8"/>
<rect x="563" y="233" width="7" height="9" fill="#0008f4"/>
<rect x="570" y="233" width="7" height="9" fill="#0004e8"/>
<rect x="577" y="233" width="7" height="9" fill="#0000d4"/>
<rect x="584" y="233" width="7" height="9" fill="#0004e8"/>
<rect x="591" y="233" width="7" height="9" fill="#0008f4"/>
<rect x="598" y="233" width="7" height="9" fill="#0000e0"/>
<rect x="136" y="242" width="7" height="9" fill="#0000ec"/>
<rect x="143" y="242" width="7" height="9" fill="#0000ec"/>
<rect x="150" y="242" width="7" height="9" fill="#0000d4"/>
<rect x="157" y="242" width="7" height="9" fill="#0000d4"/>
<rect x="164" y="242" width="7" height="9" fill="#0000e0"/>
<rect x="171" y="242" width="7" height="9" fill="#0008f4"/>
<rect x="178" y="242" width="7" height="9" fill="#0010ff"/>
<rect x="185" y="242" width="7" height="9" fill="#0000e0"/>
<rect x="192" y="242" width="7" height="9" fill="#0008f4"/>
<rect x="199" y="242" width="7" height="9" fill="#0000d4"/>
<rect x="206" y="242" width="7" height="9" fill="#0010ff"/>
<rect x="213" y="242" width="7" height="9" fill="#0000ec"/>
<rect x="220" y="242" width="7" height="9" fill="#0004e8"/>
<rect x="227" y="242" width="7" height="9" fill="#0004e8"/>
<rect x="234" y="242" width="7" height="9" fill="#0000e0"/>
<rect x="241" y="242" width="7" height="9" fill="#0000c8"/>
<rect x="248" y="242" width="7" height="9" fill="#0000e0"/>
<rect x="255" y="242" width="7" height="9" fill="#0000c8"/>
<rect x="262" y="242" width="7" height="9" fill="#0004e8"/>
<rect x="269" y="242" width="7" height="9" fill="#0004e8"/>
<rect x="276" y="242" width="7" height="9" fill="#0000e0"/>
<rect x="283" y="242" width="7" height="9" fill="#0008f4"/>
<rect x="290" y="242" width="7" height="9" fill="#0000e0"/>
<rect x="297" y="242" width="7" height="9" fill="#0000e0"/>
<rect x="304" y="242" width="7" height="9" fill="#0010ff"/>
<rect x="311" y="242" width="7" height="9" fill="#0000e0"/>
<rect x="318" y="242" width="7" height="9" fill="#0010ff"/>
<rect x="325" y="242" width="7" height="9" fill="#0000d4"/>
<rect x="332" y="242" width="7" height="9" fill="#0010ff"/>
<rect x="339" y="242" width="7" height="9" fill="#0000c8"/>
<rect x="346" y="242" width="7" height="9" fill="#0010ff"/>
<rect x="353" y="242" width="7" height="9" fill="#0010ff"/>
<rect x="360" y="242" width="7" height="9" fill="#0000e0"/>
<rect x="367" y="242" width="7" height="9" fill="#0000d4"/>
<rect x="374" y="242" width="7" height="9" fill="#0000ec"/>
<rect x="381" y="242" width="7" height="9" fill="#0000c8"/>
<rect x="388" y="242" width="7" height="9" fill="#0008f4"/>
<rect x="395" y="242" width="7" height="9" fill="#0008f4"/>
<rect x="402" y="242" width="7" height="9" fill="#0010ff"/>
<rect x="409" y="242" width="7" height="9" fill="#0000d4"/>
<rect x="416" y="242" width="7" height="9" fill="#0000e0"/>
<rect x="423" y="242" width="7" height="9" fill="#0000e0"/>
<rect x="430" y="242" width="7" height="9" fill="#0000d4"/>
<rect x="437" y="242" width="7" height="9" fill="#0010ff"/>
<rect x="444" y="242" width="7" height="9" fill="#0000e0"/>
<rect x="451" y="242" width="7" height="9" fill="#0008f4"/>
<rect x="458" y="242" width="7" height="9" fill="#0000c8"/>
<rect x="465" y="242" width="7" height="9" fill="#0008f4"/>
<rect x="472" y="242" width="7" height="9" fill="#0000d4"/>
<rect x="479" y="242" width="7" height="9" fill="#0000c8"/>
<rect x="486" y="242" width="7" height="9" fill="#0008f4"/>
<rect x="493" y="242" width="7" height="9" fill="#0000e0"/>
<rect x="500" y="242" width="7" height="9" fill="#0000ec"/>
<rect x="507" y="242" width="7" height="9" fill="#0008f4"/>
<rect x="514" y="242" width="7" height="9" fill="#0000e0"/>
<rect x="521" y="242" width="7" height="9" fill="#0010ff"/>
<rect x="528" y="242" width="7" height="9" fill="#0000ec"/>
<rect x="535" y="242" width="7" height="9" fill="#0010ff"/>
<rect x="542" y="242" width="7" height="9" fill="#0000e0"/>
<rect x="549" y="242" width="7" height="9" fill="#0000c8"/>
<rect x="556" y="242" width="7" height="9" fill="#0000e0"/>
<rect x="563" y="242" width="7" height="9" fill="#0000ec"/>
<rect x="570" y="242" width="7" height="9" fill="#0000d4"/>
<rect x="577" y="242" width="7" height="9" fill="#0000c8"/>
<rect x="584" y="242" width="7" height="9" fill="#0000e0"/>
<rect x="591" y="242" width="7" height="9" fill="#0004e8"/>
<rect x="598" y="242" width="7" height="9" fill="#0000e0"/>
<rect x="136" y="251" width="7" height="9" fill="#0008f4"/>
<rect x="143" y="251" width="7" height="9" fill="#0004e8"/>
<rect x="150" y="251" width="7" height="9" fill="#0000c8"/>
<rect x="157" y="251" width="7" height="9" fill="#0000e0"/>
<rect x="164" y="251" width="7" height="9" fill="#0000e0"/>
<rect x="171" y="251" width="7" height="9" fill="#0004e8"/>
<rect x="178" y="251" width="7" height="9" fill="#0000e0"/>
<rect x="185" y="251" width="7" height="9" fill="#0010ff"/>
<rect x="192" y="251" width="7" height="9" fill="#0008f4"/>
<rect x="199" y="251" width="7" height="9" fill="#0008f4"/>
<rect x="206" y="251" width="7" height="9" fill="#0008f4"/>
<rect x="213" y="251" width="7" height="9" fill="#0008f4"/>
<rect x="220" y="251" width="7" height="9" fill="#0000e0"/>
<rect x="227" y="251" width="7" height="9" fill="#0000ec"/>
<rect x="234" y="251" width="7" height="9" fill="#0008f4"/>
<rect x="241" y="251" width="7" height="9" fill="#0004e8"/>
<rect x="248" y="251" width="7" height="9" fill="#0000e0"/>
<rect x="255" y="251" width="7" height="9" fill="#0000d4"/>
<rect x="262" y="251" width="7" height="9" fill="#0000e0"/>
<rect x="269" y="251" width="7" height="9" fill="#0000e0"/>
<rect x="276" y="251" width="7" height="9" fill="#0000d4"/>
<rect x="283" y="251" width="7" height="9" fill="#0000ec"/>
<rect x="290" y="251" width="7" height="9" fill="#0004e8"/>
<rect x="297" y="251" width="7" height="9" fill="#0000ec"/>
<rect x="304" y="251" width="7" height="9" fill="#0004e8"/>
<rect x="311" y="251" width="7" height="9" fill="#0010ff"/>
<rect x="318" y="251" width="7" height="9" fill="#0004e8"/>
<rect x="325" y="251" width="7" height="9" fill="#0000e0"/>
<rect x="332" y="251" width="7" height="9" fill="#0000e0"/>
<rect x="339" y="251" width="7" height="9" fill="#0000ec"/>
<rect x="346" y="251" width="7" height="9" fill="#0000ec"/>
<rect x="353" y="251" width="7" height="9" fill="#0000d4"/>
<rect x="360" y="251" width="7" height="9" fill="#0000e0"/>
<rect x="367" y="251" width="7" height="9" fill="#0010ff"/>
<rect x="374" y="251" width="7" height="9" fill="#0000d4"/>
<rect x="381" y="251" width="7" height="9" fill="#0010ff"/>
<rect x="388" y="251" width="7" height="9" fill="#0000ec"/>
<rect x="395" y="251" width="7" height="9" fill="#0010ff"/>
<rect x="402" y="251" width="7" height="9" fill="#0008f4"/>
<rect x="409" y="251" width="7" height="9" fill="#0000ec"/>
<rect x="416" y="251" width="7" height="9" fill="#0000c8"/>
<rect x="423" y="251" width="7" height="9" fill="#0000e0"/>
<rect x="430" y="251" width="7" height="9" fill="#0000e0"/>
<rect x="437" y="251" width="7" height="9" fill="#0000e0"/>
<rect x="444" y="251" width="7" height="9" fill="#0000ec"/>
<rect x="451" y="251" width="7" height="9" fill="#0000e0"/>
<rect x="458" y="251" width="7" height="9" fill="#0008f4"/>
<rect x="465" y="251" width="7" height="9" fill="#0010ff"/>
<rect x="472" y="251" width="7" height="9" fill="#0000c8"/>
<rect x="479" y="251" width="7" height="9" fill="#0004e8"/>
<rect x="486" y="251" width="7" height="9" fill="#0008f4"/>
<rect x="493" y="251" width="7" height="9" fill="#0010ff"/>
<rect x="500" y="251" width="7" height="9" fill="#0000e0"/>
<rect x="507" y="251" width="7" height="9" fill="#0000ec"/>
<rect x="514" y="251" width="7" height="9" fill="#0000d4"/>
<rect x="521" y="251" width="7" height="9" fill="#0008f4"/>
<rect x="528" y="251" width="7" height="9" fill="#0000ec"/>
<rect x="535" y="251" width="7" height="9" fill="#0000e0"/>
<rect x="542" y="251" width="7" height="9" fill="#0000e0"/>
<rect x="549" y="251" width="7" height="9" fill="#0004e8"/>
<rect x="556" y="251" width="7" height="9" fill="#0000e0"/>
<rect x="563" y="251" width="7" height="9" fill="#0008f4"/>
<rect x="570" y="251" width="7" height="9" fill="#0000c8"/>
<rect x="577" y="251" width="7" height="9" fill="#0000e0"/>
<rect x="584" y="251" width="7" height="9" fill="#0000c8"/>
<rect x="591" y="251" width="7" height="9" fill="#0000e0"/>
<rect x="598" y="251" width="7" height="9" fill="#0004e8"/>
<rect x="136" y="260" width="7" height="9" fill="#0004e8"/>
<rect x="143" y="260" width="7" height="9" fill="#0000c8"/>
<rect x="150" y="260" width="7" height="9" fill="#0000d4"/>
<rect x="157" y="260" width="7" height="9" fill="#0000e0"/>
<rect x="164" y="260" width="7" height="9" fill="#0004e8"/>
<rect x="171" y="260" width="7" height="9" fill="#0004e8"/>
<rect x="178" y="260" width="7" height="9" fill="#0000ec"/>
<rect x="185" y="260" width="7" height="9" fill="#0000d4"/>
<rect x="192" y="260" width="7" height="9" fill="#0000ec"/>
<rect x="199" y="260" width="7" height="9" fill="#0000e0"/>
<rect x="206" y="260" width="7" height="9" fill="#0000e0"/>
<rect x="213" y="260" width="7" height="9" fill="#0000d4"/>
<rect x="220" y="260" width="7" height="9" fill="#0004e8"/>
<rect x="227" y="260" width="7" height="9" fill="#0000d4"/>
<rect x="234" y="260" width="7" height="9" fill="#0000c8"/>
<rect x="241" y="260" width="7" height="9" fill="#0000c8"/>
<rect x="248" y="260" width="7" height="9" fill="#0000e0"/>
<rect x="255" y="260" width="7" height="9" fill="#0000ec"/>
<rect x="262" y="260" width="7" height="9" fill="#0000c8"/>
<rect x="269" y="260" width="7" height="9" fill="#0008f4"/>
<rect x="276" y="260" width="7" height="9" fill="#0000e0"/>
<rect x="283" y="260" width="7" height="9" fill="#0008f4"/>
<rect x="290" y="260" width="7" height="9" fill="#0000e0"/>
<rect x="297" y="260" width="7" height="9" fill="#0000d4"/>
<rect x="304" y="260" width="7" height="9" fill="#0000d4"/>
<rect x="311" y="260" width="7" height="9" fill="#0000d4"/>
<rect x="318" y="260" width="7" height="9" fill="#0008f4"/>
<rect x="325" y="260" width="7" height="9" fill="#0000ec"/>
<rect x="332" y="260" width="7" height="9" fill="#0000e0"/>
<rect x="339" y="260" width="7" height="9" fill="#0008f4"/>
<rect x="346" y="260" width="7" height="9" fill="#0000ec"/>
<rect x="353" y="260" width="7" height="9" fill="#0000c8"/>
<rect x="360" y="260" width="7" height="9" fill="#0000c8"/>
<rect x="367" y="260" width="7" height="9" fill="#0008f4"/>
<rect x="374" y="260" width="7" height="9" fill="#0004e8"/>
<rect x="381" y="260" width="7" height="9" fill="#0008f4"/>
<rect x="388" y="260" width="7" height="9" fill="#0010ff"/>
<rect x="395" y="260" width="7" height="9" fill="#0000ec"/>
<rect x="402" y="260" width="7" height="9" fill="#0004e8"/>
<rect x="409" y="260" width="7" height="9" fill="#0000ec"/>
<rect x="416" y="260" width="7" height="9" fill="#0000ec"/>
<rect x="423" y="260" width="7" height="9" fill="#0000c8"/>
<rect x="430" y="260" width="7" height="9" fill="#0000e0"/>
<rect x="437" y="260" width="7" height="9" fill="#0008f4"/>
<rect x="444" y="260" width="7" height="9" fill="#0000c8"/>
<rect x="451" y="260" width="7" height="9" fill="#0000c8"/>
<rect x="458" y="260" width="7" height="9" fill="#0000ec"/>
<rect x="465" y="260" width="7" height="9" fill="#0004e8"/>
<rect x="472" y="260" width="7" height="9" fill="#0000e0"/>
<rect x="479" y="260" width="7" height="9" fill="#0000d4"/>
<rect x="486" y="260" width="7" height="9" fill="#0008f4"/>
<rect x="493" y="260" width="7" height="9" fill="#0000ec"/>
<rect x="500" y="260" width="7" height="9" fill="#0000e0"/>
<rect x="507" y="260" width="7" height="9" fill="#0010ff"/>
<rect x="514" y="260" width="7" height="9" fill="#0000ec"/>
<rect x="521" y="260" width="7" height="9" fill="#0004e8"/>
<rect x="528" y="260" width="7" height="9" fill="#0000c8"/>
<rect x="535" y="260" width="7" height="9" fill="#0010ff"/>
<rect x="542" y="260" width="7" height="9" fill="#0000e0"/>
<rect x="549" y="260" width="7" height="9" fill="#0010ff"/>
<rect x="556" y="260" width="7" height="9" fill="#0000e0"/>
<rect x="563" y="260" width="7" height="9" fill="#0000ec"/>
<rect x="570" y="260" width="7" height="9" fill="#0000c8"/>
<rect x="577" y="260" width="7" height="9" fill="#0008f4"/>
<rect x="584" y="260" width="7" height="9" fill="#0000d4"/>
<rect x="591" y="260" width="7" height="9" fill="#0000ec"/>
<rect x="598" y="260" width="7" height="9" fill="#0004e8"/>
<rect x="136" y="269" width="7" height="9" fill="#0000ec"/>
<rect x="143" y="269" width="7" height="9" fill="#0008f4"/>
<rect x="150" y="269" width="7" height="9" fill="#0000ec"/>
<rect x="157" y="269" width="7" height="9" fill="#0000ec"/>
<rect x="164" y="269" width="7" height="9" fill="#0004e8"/>
<rect x="171" y="269" width="7" height="9" fill="#0000ec"/>
<rect x="178" y="269" width="7" height="9" fill="#0008f4"/>
<rect x="185" y="269" width="7" height="9" fill="#0008f4"/>
<rect x="192" y="269" width="7" height="9" fill="#0000d4"/>
<rect x="199" y="269" width="7" height="9" fill="#0004e8"/>
<rect x="206" y="269" width="7" height="9" fill="#0000e0"/>
<rect x="213" y="269" width="7" height="9" fill="#0000ec"/>
<rect x="220" y="269" width="7" height="9" fill="#0004e8"/>
<rect x="227" y="269" width="7" height="9" fill="#0000e0"/>
<rect x="234" y="269" width="7" height="9" fill="#0000c8"/>
<rect x="241" y="269" width="7" height="9" fill="#0000e0"/>
<rect x="248" y="269" width="7" height="9" fill="#0000e0"/>
<rect x="255" y="269" width="7" height="9" fill="#0000c8"/>
<rect x="262" y="269" width="7" height="9" fill="#0000ec"/>
<rect x="269" y="269" width="7" height="9" fill="#0000c8"/>
<rect x="276" y="269" width="7" height="9" fill="#0000e0"/>
<rect x="283" y="269" width="7" height="9" fill="#0000e0"/>
<rect x="290" y="269" width="7" height="9" fill="#0000c8"/>
<rect x="297" y="269" width="7" height="9" fill="#0000c8"/>
<rect x="304" y="269" width="7" height="9" fill="#0000e0"/>
<rect x="311" y="269" width="7" height="9" fill="#0000e0"/>
<rect x="318" y="269" width="7" height="9" fill="#0004e8"/>
<rect x="325" y="269" width="7" height="9" fill="#0010ff"/>
<rect x="332" y="269" width="7" height="9" fill="#0000d4"/>
<rect x="339" y="269" width="7" height="9" fill="#0000d4"/>
<rect x="346" y="269" width="7" height="9" fill="#0000e0"/>
<rect x="353" y="269" width="7" height="9" fill="#0010ff"/>
<rect x="360" y="269" width="7" height="9" fill="#0000ec"/>
<rect x="367" y="269" width="7" height="9" fill="#0000e0"/>
<rect x="374" y="269" width="7" height="9" fill="#0004e8"/>
<rect x="381" y="269" width="7" height="9" fill="#0000c8"/>
<rect x="388" y="269" width="7" height="9" fill="#0008f4"/>
<rect x="395" y="269" width="7" height="9" fill="#0000e0"/>
<rect x="402" y="269" width="7" height="9" fill="#0010ff"/>
<rect x="409" y="269" width="7" height="9" fill="#0010ff"/>
<rect x="416" y="269" width="7" height="9" fill="#0004e8"/>
<rect x="423" y="269" width="7" height="9" fill="#0000e0"/>
<rect x="430" y="269" width="7" height="9" fill="#0000d4"/>
<rect x="437" y="269" width="7" height="9" fill="#0000c8"/>
<rect x="444" y="269" width="7" height="9" fill="#0000d4"/>
<rect x="451" y="269" width="7" height="9" fill="#0008f4"/>
<rect x="458" y="269" width="7" height="9" fill="#0000d4"/>
<rect x="465" y="269" width="7" height="9" fill="#0010ff"/>
<rect x="472" y="269" width="7" height="9" fill="#0000e0"/>
<rect x="479" y="269" width="7" height="9" fill="#0000d4"/>
<rect x="486" y="269" width="7" height="9" fill="#0000ec"/>
<rect x="493" y="269" width="7" height="9" fill="#0000e0"/>
<rect x="500" y="269" width="7" height="9" fill="#0010ff"/>
<rect x="507" y="269" width="7" height="9" fill="#0008f4"/>
<rect x="514" y="269" width="7" height="9" fill="#0000e0"/>
<rect x="521" y="269" width="7" height="9" fill="#0000d4"/>
<rect x="528" y="269" width="7" height="9" fill="#0000c8"/>
<rect x="535" y="269" width="7" height="9" fill="#0004e8"/>
<rect x="542" y="269" width="7" height="9" fill="#0000ec"/>
<rect x="549" y="269" width="7" height="9" fill="#0010ff"/>
<rect x="556" y="269" width="7" height="9" fill="#0004e8"/>
<rect x="563" y="269" width="7" height="9" fill="#0000ec"/>
<rect x="570" y="269" width="7" height="9" fill="#0010ff"/>
<rect x="577" y="269" width="7" height="9" fill="#0010ff"/>
<rect x="584" y="269" width="7" height="9" fill="#0004e8"/>
<rect x="591" y="269" width="7" height="9" fill="#0000c8"/>
<rect x="598" y="269" width="7" height="9" fill="#0000e0"/>
<rect x="136" y="278" width="7" height="9" fill="#0000ec"/>
<rect x="143" y="278" width="7" height="9" fill="#0000e0"/>
<rect x="150" y="278" width="7" height="9" fill="#0000c8"/>
<rect x="157" y="278" width="7" height="9" fill="#0000e0"/>
<rect x="164" y="278" width="7" height="9" fill="#0000c8"/>
<rect x="171" y="278" width="7" height="9" fill="#0004e8"/>
<rect x="178" y="278" width="7" height="9" fill="#0000d4"/>
<rect x="185" y="278" width="7" height="9" fill="#0000c8"/>
<rect x="192" y="278" width="7" height="9" fill="#0008f4"/>
<rect x="199" y="278" width="7" height="9" fill="#0000ec"/>
<rect x="206" y="278" width="7" height="9" fill="#0000d4"/>
<rect x="213" y="278" width="7" height="9" fill="#0010ff"/>
<rect x="220" y="278" width="7" height="9" fill="#0010ff"/>
<rect x="227" y="278" width="7" height="9" fill="#0008f4"/>
<rect x="234" y="278" width="7" height="9" fill="#0010ff"/>
<rect x="241" y="278" width="7" height="9" fill="#0000c8"/>
<rect x="248" y="278" width="7" height="9" fill="#0008f4"/>
<rect x="255" y="278" width="7" height="9" fill="#0010ff"/>
<rect x="262" y="278" width="7" height="9" fill="#0008f4"/>
<rect x="269" y="278" width="7" height="9" fill="#0008f4"/>
<rect x="276" y="278" width="7" height="9" fill="#0000c8"/>
<rect x="283" y="278" width="7" height="9" fill="#0000d4"/>
<rect x="290" y="278" width="7" height="9" fill="#0000c8"/>
<rect x="297" y="278" width="7" height="9" fill="#0000ec"/>
<rect x="304" y="278" width="7" height="9" fill="#0000d4"/>
<rect x="311" y="278" width="7" height="9" fill="#0004e8"/>
<rect x="318" y="278" width="7" height="9" fill="#0004e8"/>
<rect x="325" y="278" width="7" height="9" fill="#0000e0"/>
<rect x="332" y="278" width="7" height="9" fill="#0008f4"/>
<rect x="339" y="278" width="7" height="9" fill="#0000e0"/>
<rect x="346" y="278" width="7" height="9" fill="#0004e8"/>
<rect x="353" y="278" width="7" height="9" fill="#0000e0"/>
<rect x="360" y="278" width="7" height="9" fill="#0004e8"/>
<rect x="367" y="278" width="7" height="9" fill="#0000e0"/>
<rect x="374" y="278" width="7" height="9" fill="#0000c8"/>
<rect x="381" y="278" width="7" height="9" fill="#0008f4"/>
<rect x="388" y="278" width="7" height="9" fill="#0000e0"/>
<rect x="395" y="278" width="7" height="9" fill="#0000ec"/>
<rect x="402" y="278" width="7" height="9" fill="#0010ff"/>
<rect x="409" y="278" width="7" height="9" fill="#0010ff"/>
<rect x="416" y="278" width="7" height="9" fill="#0004e8"/>
<rect x="423" y="278" width="7" height="9" fill="#0010ff"/>
<rect x="430" y="278" width="7" height="9" fill="#0000d4"/>
<rect x="437" y="278" width="7" height="9" fill="#0000ec"/>
<rect x="444" y="278" width="7" height="9" fill="#0000e0"/>
<rect x="451" y="278" width="7" height="9" fill="#0000e0"/>
<rect x="458" y="278" width="7" height="9" fill="#0000ec"/>
<rect x="465" y="278" width="7" height="9" fill="#0000e0"/>
<rect x="472" y="278" width="7" height="9" fill="#0000d4"/>
<rect x="479" y="278" width="7" height="9" fill="#0000c8"/>
<rect x="486" y="278" width="7" height="9" fill="#0004e8"/>
<rect x="493" y="278" width="7" height="9" fill="#0010ff"/>
<rect x="500" y="278" width="7" height="9" fill="#0000e0"/>
<rect x="507" y="278" width="7" height="9" fill="#0000e0"/>
<rect x="514" y="278" width="7" height="9" fill="#0000d4"/>
<rect x="521" y="278" width="7" height="9" fill="#0000d4"/>
<rect x="528" y="278" width="7" height="9" fill="#0008f4"/>
<rect x="535" y="278" width="7" height="9" fill="#0000d4"/>
<rect x="542" y="278" width="7" height="9" fill="#0000ec"/>
<rect x="549" y="278" width="7" height="9" fill="#0000d4"/>
<rect x="556" y="278" width="7" height="9" fill="#0000e0"/>
<rect x="563" y="278" width="7" height="9" fill="#0004e8"/>
<rect x="570" y="278" width="7" height="9" fill="#0004e8"/>
<rect x="577" y="278" width="7" height="9" fill="#0000e0"/>
<rect x="584" y="278" width="7" height="9" fill="#0000ec"/>
<rect x="591" y="278" width="7" height="9" fill="#0000e0"/>
<rect x="598" y="278" width="7" height="9" fill="#0000e0"/>
<rect x="136" y="287" width="7" height="9" fill="#0004e8"/>
<rect x="143" y="287" width="7" height="9" fill="#0000ec"/>
<rect x="150" y="287" width="7" height="9" fill="#0000d4"/>
<rect x="157" y="287" width="7" height="9" fill="#0008f4"/>
<rect x="164" y="287" width="7" height="9" fill="#0008f4"/>
<rect x="171" y="287" width="7" height="9" fill="#0008f4"/>
<rect x="178" y="287" width="7" height="9" fill="#0008f4"/>
<rect x="185" y="287" width="7" height="9" fill="#0010ff"/>
<rect x="192" y="287" width="7" height="9" fill="#0008f4"/>
<rect x="199" y="287" width="7" height="9" fill="#0008f4"/>
<rect x="206" y="287" width="7" height="9" fill="#0000ec"/>
<rect x="213" y="287" width="7" height="9" fill="#0004e8"/>
<rect x="220" y="287" width="7" height="9" fill="#0000ec"/>
<rect x="227" y="287" width="7" height="9" fill="#0000e0"/>
<rect x="234" y="287" width="7" height="9" fill="#0000ec"/>
<rect x="241" y="287" width="7" height="9" fill="#0000ec"/>
<rect x="248" y="287" width="7" height="9" fill="#0000e0"/>
<rect x="255" y="287" width="7" height="9" fill="#0008f4"/>
<rect x="262" y="287" width="7" height="9" fill="#0000ec"/>
<rect x="269" y="287" width="7" height="9" fill="#0010ff"/>
<rect x="276" y="287" width="7" height="9" fill="#0000d4"/>
<rect x="283" y="287" width="7" height="9" fill="#0000e0"/>
<rect x="290" y="287" width="7" height="9" fill="#0008f4"/>
<rect x="297" y="287" width="7" height="9" fill="#0000ec"/>
<rect x="304" y="287" width="7" height="9" fill="#0000ec"/>
<rect x="311" y="287" width="7" height="9" fill="#0000d4"/>
<rect x="318" y="287" width="7" height="9" fill="#0004e8"/>
<rect x="325" y="287" width="7" height="9" fill="#0000c8"/>
<rect x="332" y="287" width="7" height="9" fill="#0000d4"/>
<rect x="339" y="287" width="7" height="9" fill="#0000c8"/>
<rect x="346" y="287" width="7" height="9" fill="#0004e8"/>
<rect x="353" y="287" width="7" height="9" fill="#0000ec"/>
<rect x="360" y="287" width="7" height="9" fill="#0004e8"/>
<rect x="367" y="287" width="7" height="9" fill="#0010ff"/>
<rect x="374" y="287" width="7" height="9" fill="#0000c8"/>
<rect x="381" y="287" width="7" height="9" fill="#0008f4"/>
<rect x="388" y="287" width="7" height="9" fill="#0000ec"/>
<rect x="395" y="287" width="7" height="9" fill="#0000d4"/>
<rect x="402" y="287" width="7" height="9" fill="#0000c8"/>
<rect x="409" y="287" width="7" height="9" fill="#0000ec"/>
<rect x="416" y="287" width="7" height="9" fill="#0000ec"/>
<rect x="423" y="287" width="7" height="9" fill="#0000d4"/>
<rect x="430" y="287" width="7" height="9" fill="#0010ff"/>
<rect x="437" y="287" width="7" height="9" fill="#0000e0"/>
<rect x="444" y="287" width="7" height="9" fill="#0004e8"/>
<rect x="451" y="287" width="7" height="9" fill="#0008f4"/>
<rect x="458" y="287" width="7" height="9" fill="#0000c8"/>
<rect x="465" y="287" width="7" height="9" fill="#0000d4"/>
<rect x="472" y="287" width="7" height="9" fill="#0010ff"/>
<rect x="479" y="287" width="7" height="9" fill="#0000ec"/>
<rect x="486" y="287" width="7" height="9" fill="#0000c8"/>
<rect x="493" y="287" width="7" height="9" fill="#0010ff"/>
<rect x="500" y="287" width="7" height="9" fill="#0010ff"/>
<rect x="507" y="287" width="7" height="9" fill="#0000e0"/>
<rect x="514" y="287" width="7" height="9" fill="#0000c8"/>
<rect x="521" y="287" width="7" height="9" fill="#0000ec"/>
<rect x="528" y="287" width="7" height="9" fill="#0008f4"/>
<rect x="535" y="287" width="7" height="9" fill="#0000c8"/>
<rect x="542" y="287" width="7" height="9" fill="#0000ec"/>
<rect x="549" y="287" width="7" height="9" fill="#0000c8"/>
<rect x="556" y="287" width="7" height="9" fill="#0010ff"/>
<rect x="563" y="287" width="7" height="9" fill="#0000e0"/>
<rect x="570" y="287" width="7" height="9" fill="#0010ff"/>
<rect x="577" y="287" width="7" height="9" fill="#0000e0"/>
<rect x="584" y="287" width="7" height="9" fill="#0008f4"/>
<rect x="591" y="287" width="7" height="9" fill="#0000d4"/>
<rect x="598" y="287" width="7" height="9" fill="#0000ec"/>
<rect x="136" y="296" width="7" height="9" fill="#0000c8"/>
<rect x="143" y="296" width="7" height="9" fill="#0004e8"/>
<rect x="150" y="296" width="7" height="9" fill="#0004e8"/>
<rect x="157" y="296" width="7" height="9" fill="#0000d4"/>
<rect x="164" y="296" width="7" height="9" fill="#0000e0"/>
<rect x="171" y="296" width="7" height="9" fill="#0000d4"/>
<rect x="178" y="296" width="7" height="9" fill="#0000e0"/>
<rect x="185" y="296" width="7" height="9" fill="#0000e0"/>
<rect x="192" y="296" width="7" height="9" fill="#0000d4"/>
<rect x="199" y="296" width="7" height="9" fill="#0000e0"/>
<rect x="206" y="296" width="7" height="9" fill="#0000e0"/>
<rect x="213" y="296" width="7" height="9" fill="#0008f4"/>
<rect x="220" y="296" width="7" height="9" fill="#0000e0"/>
<rect x="227" y="296" width="7" height="9" fill="#0008f4"/>
<rect x="234" y="296" width="7" height="9" fill="#0008f4"/>
<rect x="241" y="296" width="7" height="9" fill="#0000e0"/>
<rect x="248" y="296" width="7" height="9" fill="#0000c8"/>
<rect x="255" y="296" width="7" height="9" fill="#0008f4"/>
<rect x="262" y="296" width="7" height="9" fill="#0010ff"/>
<rect x="269" y="296" width="7" height="9" fill="#0000e0"/>
<rect x="276" y="296" width="7" height="9" fill="#0000e0"/>
<rect x="283" y="296" width="7" height="9" fill="#0000c8"/>
<rect x="290" y="296" width="7" height="9" fill="#0010ff"/>
<rect x="297" y="296" width="7" height="9" fill="#0000ec"/>
<rect x="304" y="296" width="7" height="9" fill="#0000e0"/>
<rect x="311" y="296" width="7" height="9" fill="#0000e0"/>
<rect x="318" y="296" width="7" height="9" fill="#0000ec"/>
<rect x="325" y="296" width="7" height="9" fill="#0000c8"/>
<rect x="332" y="296" width="7" height="9" fill="#0000e0"/>
<rect x="339" y="296" width="7" height="9" fill="#0000e0"/>
<rect x="346" y="296" width="7" height="9" fill="#0000e0"/>
<rect x="353" y="296" width="7" height="9" fill="#0000d4"/>
<rect x="360" y="296" width="7" height="9" fill="#0000d4"/>
<rect x="367" y="296" width="7" height="9" fill="#0000e0"/>
<rect x="374" y="296" width="7" height="9" fill="#0010ff"/>
<rect x="381" y="296" width="7" height="9" fill="#0004e8"/>
<rect x="388" y="296" width="7" height="9" fill="#0000e0"/>
<rect x="395" y="296" width="7" height="9" fill="#0000e0"/>
<rect x="402" y="296" width="7" height="9" fill="#0000c8"/>
<rect x="409" y="296" width="7" height="9" fill="#0000c8"/>
<rect x="416" y="296" width="7" height="9" fill="#0000e0"/>
<rect x="423" y="296" width="7" height="9" fill="#0000e0"/>
<rect x="430" y="296" width="7" height="9" fill="#0000d4"/>
<rect x="437" y="296" width="7" height="9" fill="#0010ff"/>
<rect x="444" y="296" width="7" height="9" fill="#0000e0"/>
<rect x="451" y="296" width="7" height="9" fill="#0000e0"/>
<rect x="458" y="296" width="7" height="9" fill="#0010ff"/>
<rect x="465" y="296" width="7" height="9" fill="#0008f4"/>
<rect x="472" y="296" width="7" height="9" fill="#0000e0"/>
<rect x="479" y="296" width="7" height="9" fill="#0000e0"/>
<rect x="486" y="296" width="7" height="9" fill="#0000d4"/>
<rect x="493" y="296" width="7" height="9" fill="#0000d4"/>
<rect x="500" y="296" width="7" height="9" fill="#0000e0"/>
<rect x="507" y="296" width="7" height="9" fill="#0004e8"/>
<rect x="514" y="296" width="7" height="9" fill="#0000ec"/>
<rect x="521" y="296" width="7" height="9" fill="#0008f4"/>
<rect x="528" y="296" width="7" height="9" fill="#0000e0"/>
<rect x="535" y="296" width="7" height="9" fill="#0000c8"/>
<rect x="542" y="296" width="7" height="9" fill="#0004e8"/>
<rect x="549" y="296" width="7" height="9" fill="#0010ff"/>
<rect x="556" y="296" width="7" height="9" fill="#0000c8"/>
<rect x="563" y="296" width="7" height="9" fill="#0000e0"/>
<rect x="570" y="296" width="7" height="9" fill="#0000d4"/>
<rect x="577" y="296" width="7" height="9" fill="#0000e0"/>
<rect x="584" y="296" width="7" height="9" fill="#0000ec"/>
<rect x="591" y="296" width="7" height="9" fill="#0000e0"/>
<rect x="598" y="296" width="7" height="9" fill="#0000ec"/>
<rect x="136" y="305" width="7" height="9" fill="#0004e8"/>
<rect x="143" y="305" width="7" height="9" fill="#0000e0"/>
<rect x="150" y="305" width="7" height="9" fill="#0000ec"/>
<rect x="157" y="305" width="7" height="9" fill="#0000c8"/>
<rect x="164" y="305" width="7" height="9" fill="#0000e0"/>
<rect x="171" y="305" width="7" height="9" fill="#0000e0"/>
<rect x="178" y="305" width="7" height="9" fill="#0000e0"/>
<rect x="185" y="305" width="7" height="9" fill="#0010ff"/>
<rect x="192" y="305" width="7" height="9" fill="#0000d4"/>
<rect x="199" y="305" width="7" height="9" fill="#0000e0"/>
<rect x="206" y="305" width="7" height="9" fill="#0000ec"/>
<rect x="213" y="305" width="7" height="9" fill="#0000ec"/>
<rect x="220" y="305" width="7" height="9" fill="#0000c8"/>
<rect x="227" y="305" width="7" height="9" fill="#0000c8"/>
<rect x="234" y="305" width="7" height="9" fill="#0010ff"/>
<rect x="241" y="305" width="7" height="9" fill="#0000d4"/>
<rect x="248" y="305" width="7" height="9" fill="#0000e0"/>
<rect x="255" y="305" width="7" height="9" fill="#0004e8"/>
<rect x="262" y="305" width="7" height="9" fill="#0008f4"/>
<rect x="269" y="305" width="7" height="9" fill="#0000e0"/>
<rect x="276" y="305" width="7" height="9" fill="#0008f4"/>
<rect x="283" y="305" width="7" height="9" fill="#0000ec"/>
<rect x="290" y="305" width="7" height="9" fill="#0000e0"/>
<rect x="297" y="305" width="7" height="9" fill="#0000e0"/>
<rect x="304" y="305" width="7" height="9" fill="#0010ff"/>
<rect x="311" y="305" width="7" height="9" fill="#0004e8"/>
<rect x="318" y="305" width="7" height="9" fill="#0004e8"/>
<rect x="325" y="305" width="7" height="9" fill="#0000e0"/>
<rect x="332" y="305" width="7" height="9" fill="#0000c8"/>
<rect x="339" y="305" width="7" height="9" fill="#0000c8"/>
<rect x="346" y="305" width="7" height="9" fill="#0004e8"/>
<rect x="353" y="305" width="7" height="9" fill="#0004e8"/>
<rect x="360" y="305" width="7" height="9" fill="#0000ec"/>
<rect x="367" y="305" width="7" height="9" fill="#0004e8"/>
<rect x="374" y="305" width="7" height="9" fill="#0004e8"/>
<rect x="381" y="305" width="7" height="9" fill="#0000e0"/>
<rect x="388" y="305" width="7" height="9" fill="#0004e8"/>
<rect x="395" y="305" width="7" height="9" fill="#0000e0"/>
<rect x="402" y="305" width="7" height="9" fill="#0000d4"/>
<rect x="409" y="305" width="7" height="9" fill="#0000d4"/>
<rect x="416" y="305" width="7" height="9" fill="#0000e0"/>
<rect x="423" y="305" width="7" height="9" fill="#0010ff"/>
<rect x="430" y="305" width="7" height="9" fill="#0000e0"/>
<rect x="437" y="305" width="7" height="9" fill="#0010ff"/>
<rect x="444" y="305" width="7" height="9" fill="#0000d4"/>
<rect x="451" y="305" width="7" height="9" fill="#0004e8"/>
<rect x="458" y="305" width="7" height="9" fill="#0000c8"/>
<rect x="465" y="305" width="7" height="9" fill="#0000c8"/>
<rect x="472" y="305" width="7" height="9" fill="#0000e0"/>
<rect x="479" y="305" width="7" height="9" fill="#0000d4"/>
<rect x="486" y="305" width="7" height="9" fill="#0010ff"/>
<rect x="493" y="305" width="7" height="9" fill="#0000d4"/>
<rect x="500" y="305" width="7" height="9" fill="#0000c8"/>
<rect x="507" y="305" width="7" height="9" fill="#0000e0"/>
<rect x="514" y="305" width="7" height="9" fill="#0000e0"/>
<rect x="521" y="305" width="7" height="9" fill="#0000c8"/>
<rect x="528" y="305" width="7" height="9" fill="#0000d4"/>
<rect x="535" y="305" width="7" height="9" fill="#0000d4"/>
<rect x="542" y="305" width="7" height="9" fill="#0000ec"/>
<rect x="549" y="305" width="7" height="9" fill="#0000e0"/>
<rect x="556" y="305" width="7" height="9" fill="#0004e8"/>
<rect x="563" y="305" width="7" height="9" fill="#0008f4"/>
<rect x="570" y="305" width="7" height="9" fill="#0000e0"/>
<rect x="577" y="305" width="7" height="9" fill="#0000ec"/>
<rect x="584" y="305" width="7" height="9" fill="#0000d4"/>
<rect x="591" y="305" width="7" height="9" fill="#0010ff"/>
<rect x="598" y="305" width="7" height="9" fill="#0008f4"/>
<rect x="136" y="314" width="7" height="9" fill="#0000e0"/>
<rect x="143" y="314" width="7" height="9" fill="#0010ff"/>
<rect x="150" y="314" width="7" height="9" fill="#0008f4"/>
<rect x="157" y="314" width="7" height="9" fill="#0004e8"/>
<rect x="164" y="314" width="7" height="9" fill="#0000e0"/>
<rect x="171" y="314" width="7" height="9" fill="#0008f4"/>
<rect x="178" y="314" width="7" height="9" fill="#0004e8"/>
<rect x="185" y="314" width="7" height="9" fill="#0000ec"/>
<rect x="192" y="314" width="7" height="9" fill="#0008f4"/>
<rect x="199" y="314" width="7" height="9" fill="#0000ec"/>
<rect x="206" y="314" width="7" height="9" fill="#0010ff"/>
<rect x="213" y="314" width="7" height="9" fill="#0010ff"/>
<rect x="220" y="314" width="7" height="9" fill="#0000c8"/>
<rect x="227" y="314" width="7" height="9" fill="#0000ec"/>
<rect x="234" y="314" width="7" height="9" fill="#0000e0"/>
<rect x="241" y="314" width="7" height="9" fill="#0000e0"/>
<rect x="248" y="314" width="7" height="9" fill="#0000e0"/>
<rect x="255" y="314" width="7" height="9" fill="#0008f4"/>
<rect x="262" y="314" width="7" height="9" fill="#0010ff"/>
<rect x="269" y="314" width="7" height="9" fill="#0000e0"/>
<rect x="276" y="314" width="7" height="9" fill="#0000e0"/>
<rect x="283" y="314" width="7" height="9" fill="#0008f4"/>
<rect x="290" y="314" width="7" height="9" fill="#0000d4"/>
<rect x="297" y="314" width="7" height="9" fill="#0000c8"/>
<rect x="304" y="314" width="7" height="9" fill="#0010ff"/>
<rect x="311" y="314" width="7" height="9" fill="#0004e8"/>
<rect x="318" y="314" width="7" height="9" fill="#0000d4"/>
<rect x="325" y="314" width="7" height="9" fill="#0008f4"/>
<rect x="332" y="314" width="7" height="9" fill="#0000e0"/>
<rect x="339" y="314" width="7" height="9" fill="#0010ff"/>
<rect x="346" y="314" width="7" height="9" fill="#0008f4"/>
<rect x="353" y="314" width="7" height="9" fill="#0000e0"/>
<rect x="360" y="314" width="7" height="9" fill="#0010ff"/>
<rect x="367" y="314" width="7" height="9" fill="#0000e0"/>
<rect x="374" y="314" width="7" height="9" fill="#0010ff"/>
<rect x="381" y="314" width="7" height="9" fill="#0010ff"/>
<rect x="388" y="314" width="7" height="9" fill="#0000d4"/>
<rect x="395" y="314" width="7" height="9" fill="#0004e8"/>
<rect x="402" y="314" width="7" height="9" fill="#0000ec"/>
<rect x="409" y="314" width="7" height="9" fill="#0000e0"/>
<rect x="416" y="314" width="7" height="9" fill="#0000c8"/>
<rect x="423" y="314" width="7" height="9" fill="#0008f4"/>
<rect x="430" y="314" width="7" height="9" fill="#0008f4"/>
<rect x="437" y="314" width="7" height="9" fill="#0008f4"/>
<rect x="444" y="314" width="7" height="9" fill="#0010ff"/>
<rect x="451" y="314" width="7" height="9" fill="#0000c8"/>
<rect x="458" y="314" width="7" height="9" fill="#0000c8"/>
<rect x="465" y="314" width="7" height="9" fill="#0000ec"/>
<rect x="472" y="314" width="7" height="9" fill="#0000e0"/>
<rect x="479" y="314" width="7" height="9" fill="#0008f4"/>
<rect x="486" y="314" width="7" height="9" fill="#0000e0"/>
<rect x="493" y="314" width="7" height="9" fill="#0000e0"/>
<rect x="500" y="314" width="7" height="9" fill="#0010ff"/>
<rect x="507" y="314" width="7" height="9" fill="#0000c8"/>
<rect x="514" y="314" width="7" height="9" fill="#0000e0"/>
<rect x="521" y="314" width="7" height="9" fill="#0004e8"/>
<rect x="528" y="314" width="7" height="9" fill="#0000ec"/>
<rect x="535" y="314" width="7" height="9" fill="#0000c8"/>
<rect x="542" y="314" width="7" height="9" fill="#0000c8"/>
<rect x="549" y="314" width="7" height="9" fill="#0000c8"/>
<rect x="556" y="314" width="7" height="9" fill="#0000c8"/>
<rect x="563" y="314" width="7" height="9" fill="#0010ff"/>
<rect x="570" y="314" width="7" height="9" fill="#0008f4"/>
<rect x="577" y="314" width="7" height="9" fill="#0000d4"/>
<rect x="584" y="314" width="7" height="9" fill="#0010ff"/>
<rect x="591" y="314" width="7" height="9" fill="#0000ec"/>
<rect x="598" y="314" width="7" height="9" fill="#0000e0"/>
<rect x="136" y="323" width="7" height="9" fill="#0008f4"/>
<rect x="143" y="323" width="7" height="9" fill="#0000e0"/>
<rect x="150" y="323" width="7" height="9" fill="#0000ec"/>
<rect x="157" y="323" width="7" height="9" fill="#0010ff"/>
<rect x="164" y="323" width="7" height="9" fill="#0004e8"/>
<rect x="171" y="323" width="7" height="9" fill="#0000e0"/>
<rect x="178" y="323" width="7" height="9" fill="#0000e0"/>
<rect x="185" y="323" width="7" height="9" fill="#0000c8"/>
<rect x="192" y="323" width="7" height="9" fill="#0000ec"/>
<rect x="199" y="323" width="7" height="9" fill="#0000e0"/>
<rect x="206" y="323" width="7" height="9" fill="#0004e8"/>
<rect x="213" y="323" width="7" height="9" fill="#0000d4"/>
<rect x="220" y="323" width="7" height="9" fill="#0000d4"/>
<rect x="227" y="323" width="7" height="9" fill="#0000e0"/>
<rect x="234" y="323" width="7" height="9" fill="#0008f4"/>
<rect x="241" y="323" width="7" height="9" fill="#0000e0"/>
<rect x="248" y="323" width="7" height="9" fill="#0008f4"/>
<rect x="255" y="323" width="7" height="9" fill="#0000c8"/>
<rect x="262" y="323" width="7" height="9" fill="#0000c8"/>
<rect x="269" y="323" width="7" height="9" fill="#0010ff"/>
<rect x="276" y="323" width="7" height="9" fill="#0004e8"/>
<rect x="283" y="323" width="7" height="9" fill="#0004e8"/>
<rect x="290" y="323" width="7" height="9" fill="#0000ec"/>
<rect x="297" y="323" width="7" height="9" fill="#0000e0"/>
<rect x="304" y="323" width="7" height="9" fill="#0000c8"/>
<rect x="311" y="323" width="7" height="9" fill="#0000c8"/>
<rect x="318" y="323" width="7" height="9" fill="#0000c8"/>
<rect x="325" y="323" width="7" height="9" fill="#0000c8"/>
<rect x="332" y="323" width="7" height="9" fill="#0000e0"/>
<rect x="339" y="323" width="7" height="9" fill="#0000e0"/>
<rect x="346" y="323" width="7" height="9" fill="#0000ec"/>
<rect x="353" y="323" width="7" height="9" fill="#0000e0"/>
<rect x="360" y="323" width="7" height="9" fill="#0000c8"/>
<rect x="367" y="323" width="7" height="9" fill="#0000d4"/>
<rect x="374" y="323" width="7" height="9" fill="#0000c8"/>
<rect x="381" y="323" width="7" height="9" fill="#0000ec"/>
<rect x="388" y="323" width="7" height="9" fill="#0000e0"/>
<rect x="395" y="323" width="7" height="9" fill="#0000e0"/>
<rect x="402" y="323" width="7" height="9" fill="#0000ec"/>
<rect x="409" y="323" width="7" height="9" fill="#0000e0"/>
<rect x="416" y="323" width="7" height="9" fill="#0000e0"/>
<rect x="423" y="323" width="7" height="9" fill="#0008f4"/>
<rect x="430" y="323" width="7" height="9" fill="#0000d4"/>
<rect x="437" y="323" width="7" height="9" fill="#0008f4"/>
<rect x="444" y="323" width="7" height="9" fill="#0000c8"/>
<rect x="451" y="323" width="7" height="9" fill="#0004e8"/>
<rect x="458" y="323" width="7" height="9" fill="#0000c8"/>
<rect x="465" y="323" width="7" height="9" fill="#0000e0"/>
<rect x="472" y="323" width="7" height="9" fill="#0000e0"/>
<rect x="479" y="323" width="7" height="9" fill="#0004e8"/>
<rect x="486" y="323" width="7" height="9" fill="#0000d4"/>
<rect x="493" y="323" width="7" height="9" fill="#0004e8"/>
<rect x="500" y="323" width="7" height="9" fill="#0000e0"/>
<rect x="507" y="323" width="7" height="9" fill="#0000ec"/>
<rect x="514" y="323" width="7" height="9" fill="#0000d4"/>
<rect x="521" y="323" width="7" height="9" fill="#0008f4"/>
<rect x="528" y="323" width="7" height="9" fill="#0000ec"/>
<rect x="535" y="323" width="7" height="9" fill="#0000c8"/>
<rect x="542" y="323" width="7" height="9" fill="#0000d4"/>
<rect x="549" y="323" width="7" height="9" fill="#0010ff"/>
<rect x="556" y="323" width="7" height="9" fill="#0008f4"/>
<rect x="563" y="323" width="7" height="9" fill="#0000c8"/>
<rect x="570" y="323" width="7" height="9" fill="#0008f4"/>
<rect x="577" y="323" width="7" height="9" fill="#0000e0"/>
<rect x="584" y="323" width="7" height="9" fill="#0008f4"/>
<rect x="591" y="323" width="7" height="9" fill="#0008f4"/>
<rect x="598" y="323" width="7" height="9" fill="#0000ec"/>
<rect x="136" y="332" width="7" height="9" fill="#0000d4"/>
<rect x="143" y="332" width="7" height="9" fill="#0000c8"/>
<rect x="150" y="332" width="7" height="9" fill="#0000e0"/>
<rect x="157" y="332" width="7" height="9" fill="#0008f4"/>
<rect x="164" y="332" width="7" height="9" fill="#0000ec"/>
<rect x="171" y="332" width="7" height="9" fill="#0000ec"/>
<rect x="178" y="332" width="7" height="9" fill="#0000e0"/>
<rect x="185" y="332" width="7" height="9" fill="#0010ff"/>
<rect x="192" y="332" width="7" height="9" fill="#0000ec"/>
<rect x="199" y="332" width="7" height="9" fill="#0000e0"/>
<rect x="206" y="332" width="7" height="9" fill="#0010ff"/>
<rect x="213" y="332" width="7" height="9" fill="#0000ec"/>
<rect x="220" y="332" width="7" height="9" fill="#0000e0"/>
<rect x="227" y="332" width="7" height="9" fill="#0004e8"/>
<rect x="234" y="332" width="7" height="9" fill="#0004e8"/>
<rect x="241" y="332" width="7" height="9" fill="#0000c8"/>
<rect x="248" y="332" width="7" height="9" fill="#0000c8"/>
<rect x="255" y="332" width="7" height="9" fill="#0000e0"/>
<rect x="262" y="332" width="7" height="9" fill="#0000ec"/>
<rect x="269" y="332" width="7" height="9" fill="#0008f4"/>
<rect x="276" y="332" width="7" height="9" fill="#0000ec"/>
<rect x="283" y="332" width="7" height="9" fill="#0000e0"/>
<rect x="290" y="332" width="7" height="9" fill="#0000d4"/>
<rect x="297" y="332" width="7" height="9" fill="#0000e0"/>
<rect x="304" y="332" width="7" height="9" fill="#0000e0"/>
<rect x="311" y="332" width="7" height="9" fill="#0000c8"/>
<rect x="318" y="332" width="7" height="9" fill="#0000c8"/>
<rect x="325" y="332" width="7" height="9" fill="#0000d4"/>
<rect x="332" y="332" width="7" height="9" fill="#0000d4"/>
<rect x="339" y="332" width="7" height="9" fill="#0000e0"/>
<rect x="346" y="332" width="7" height="9" fill="#0010ff"/>
<rect x="353" y="332" width="7" height="9" fill="#0000e0"/>
<rect x="360" y="332" width="7" height="9" fill="#0000c8"/>
<rect x="367" y="332" width="7" height="9" fill="#0000c8"/>
<rect x="374" y="332" width="7" height="9" fill="#0000c8"/>
<rect x="381" y="332" width="7" height="9" fill="#0000e0"/>
<rect x="388" y="332" width="7" height="9" fill="#0000c8"/>
<rect x="395" y="332" width="7" height="9" fill="#0000d4"/>
<rect x="402" y="332" width="7" height="9" fill="#0000c8"/>
<rect x="409" y="332" width="7" height="9" fill="#0000d4"/>
<rect x="416" y="332" width="7" height="9" fill="#0010ff"/>
<rect x="423" y="332" width="7" height="9" fill="#0000ec"/>
<rect x="430" y="332" width="7" height="9" fill="#0000d4"/>
<rect x="437" y="332" width="7" height="9" fill="#0000e0"/>
<rect x="444" y="332" width="7" height="9" fill="#0000d4"/>
<rect x="451" y="332" width="7" height="9" fill="#0000ec"/>
<rect x="458" y="332" width="7" height="9" fill="#0000ec"/>
<rect x="465" y="332" width="7" height="9" fill="#0000ec"/>
<rect x="472" y="332" width="7" height="9" fill="#0000d4"/>
<rect x="479" y="332" width="7" height="9" fill="#0000c8"/>
<rect x="486" y="332" width="7" height="9" fill="#0000c8"/>
<rect x="493" y="332" width="7" height="9" fill="#0000d4"/>
<rect x="500" y="332" width="7" height="9" fill="#0008f4"/>
<rect x="507" y="332" width="7" height="9" fill="#0004e8"/>
<rect x="514" y="332" width="7" height="9" fill="#0000d4"/>
<rect x="521" y="332" width="7" height="9" fill="#0000e0"/>
<rect x="528" y="332" width="7" height="9" fill="#0000d4"/>
<rect x="535" y="332" width="7" height="9" fill="#0000ec"/>
<rect x="542" y="332" width="7" height="9" fill="#0008f4"/>
<rect x="549" y="332" width="7" height="9" fill="#0010ff"/>
<rect x="556" y="332" width="7" height="9" fill="#0010ff"/>
<rect x="563" y="332" width="7" height="9" fill="#0000e0"/>
<rect x="570" y="332" width="7" height="9" fill="#0008f4"/>
<rect x="577" y="332" width="7" height="9" fill="#0000c8"/>
<rect x="584" y="332" width="7" height="9" fill="#0010ff"/>
<rect x="591" y="332" width="7" height="9" fill="#0008f4"/>
<rect x="598" y="332" width="7" height="9" fill="#0008f4"/>
<rect x="136" y="341" width="7" height="9" fill="#0000c8"/>
<rect x="143" y="341" width="7" height="9" fill="#0010ff"/>
<rect x="150" y="341" width="7" height="9" fill="#0010ff"/>
<rect x="157" y="341" width="7" height="9" fill="#0004e8"/>
<rect x="164" y="341" width="7" height="9" fill="#0008f4"/>
<rect x="171" y="341" width="7" height="9" fill="#0000c8"/>
<rect x="178" y="341" width="7" height="9" fill="#0000e0"/>
<rect x="185" y="341" width="7" height="9" fill="#0000c8"/>
<rect x="192" y="341" width="7" height="9" fill="#0000e0"/>
<rect x="199" y="341" width="7" height="9" fill="#0000d4"/>
<rect x="206" y="341" width="7" height="9" fill="#0010ff"/>
<rect x="213" y="341" width="7" height="9" fill="#0004e8"/>
<rect x="220" y="341" width="7" height="9" fill="#0000c8"/>
<rect x="227" y="341" width="7" height="9" fill="#0000ec"/>
<rect x="234" y="341" width="7" height="9" fill="#0000d4"/>
<rect x="241" y="341" width="7" height="9" fill="#0008f4"/>
<rect x="248" y="341" width="7" height="9" fill="#0000e0"/>
<rect x="255" y="341" width="7" height="9" fill="#0000e0"/>
<rect x="262" y="341" width="7" height="9" fill="#0000c8"/>
<rect x="269" y="341" width="7" height="9" fill="#0000ec"/>
<rect x="276" y="341" width="7" height="9" fill="#0008f4"/>
<rect x="283" y="341" width="7" height="9" fill="#0000c8"/>
<rect x="290" y="341" width="7" height="9" fill="#0000c8"/>
<rect x="297" y="341" width="7" height="9" fill="#0010ff"/>
<rect x="304" y="341" width="7" height="9" fill="#0004e8"/>
<rect x="311" y="341" width="7" height="9" fill="#0000d4"/>
<rect x="318" y="341" width="7" height="9" fill="#0004e8"/>
<rect x="325" y="341" width="7" height="9" fill="#0000e0"/>
<rect x="332" y="341" width="7" height="9" fill="#0004e8"/>
<rect x="339" y="341" width="7" height="9" fill="#0010ff"/>
<rect x="346" y="341" width="7" height="9" fill="#0008f4"/>
<rect x="353" y="341" width="7" height="9" fill="#0000e0"/>
<rect x="360" y="341" width="7" height="9" fill="#0008f4"/>
<rect x="367" y="341" width="7" height="9" fill="#0000ec"/>
<rect x="374" y="341" width="7" height="9" fill="#0000ec"/>
<rect x="381" y="341" width="7" height="9" fill="#0004e8"/>
<rect x="388" y="341" width="7" height="9" fill="#0000e0"/>
<rect x="395" y="341" width="7" height="9" fill="#0000d4"/>
<rect x="402" y="341" width="7" height="9" fill="#0000d4"/>
<rect x="409" y="341" width="7" height="9" fill="#0004e8"/>
<rect x="416" y="341" width="7" height="9" fill="#0000d4"/>
<rect x="423" y="341" width="7" height="9" fill="#0010ff"/>
<rect x="430" y="341" width="7" height="9" fill="#0010ff"/>
<rect x="437" y="341" width="7" height="9" fill="#0000d4"/>
<rect x="444" y="341" width="7" height="9" fill="#0000e0"/>
<rect x="451" y="341" width="7" height="9" fill="#0000e0"/>
<rect x="458" y="341" width="7" height="9" fill="#0000d4"/>
<rect x="465" y="341" width="7" height="9" fill="#0000e0"/>
<rect x="472" y="341" width="7" height="9" fill="#0000c8"/>
<rect x="479" y="341" width="7" height="9" fill="#0010ff"/>
<rect x="486" y="341" width="7" height="9" fill="#0000ec"/>
<rect x="493" y="341" width="7" height="9" fill="#0008f4"/>
<rect x="500" y="341" width="7" height="9" fill="#0008f4"/>
<rect x="507" y="341" width="7" height="9" fill="#0000e0"/>
<rect x="514" y="341" width="7" height="9" fill="#0000e0"/>
<rect x="521" y="341" width="7" height="9" fill="#0000e0"/>
<rect x="528" y="341" width="7" height="9" fill="#0000ec"/>
<rect x="535" y="341" width="7" height="9" fill="#0004e8"/>
<rect x="542" y="341" width="7" height="9" fill="#0000e0"/>
<rect x="549" y="341" width="7" height="9" fill="#0000c8"/>
<rect x="556" y="341" width="7" height="9" fill="#0010ff"/>
<rect x="563" y="341" width="7" height="9" fill="#0010ff"/>
<rect x="570" y="341" width="7" height="9" fill="#0000e0"/>
<rect x="577" y="341" width="7" height="9" fill="#0004e8"/>
<rect x="584" y="341" width="7" height="9" fill="#0010ff"/>
<rect x="591" y="341" width="7" height="9" fill="#0000e0"/>
<rect x="598" y="341" width="7" height="9" fill="#0004e8"/>
<rect x="136" y="350" width="7" height="9" fill="#0004e8"/>
<rect x="143" y="350" width="7" height="9" fill="#0008f4"/>
<rect x="150" y="350" width="7" height="9" fill="#0000ec"/>
<rect x="157" y="350" width="7" height="9" fill="#0000e0"/>
<rect x="164" y="350" width="7" height="9" fill="#0010ff"/>
<rect x="171" y="350" width="7" height="9" fill="#0004e8"/>
<rect x="178" y="350" width="7" height="9" fill="#0000ec"/>
<rect x="185" y="350" width="7" height="9" fill="#0000ec"/>
<rect x="192" y="350" width="7" height="9" fill="#0008f4"/>
<rect x="199" y="350" width="7" height="9" fill="#0008f4"/>
<rect x="206" y="350" width="7" height="9" fill="#0000e0"/>
<rect x="213" y="350" width="7" height="9" fill="#0000e0"/>
<rect x="220" y="350" width="7" height="9" fill="#0000ec"/>
<rect x="227" y="350" width="7" height="9" fill="#0010ff"/>
<rect x="234" y="350" width="7" height="9" fill="#0010ff"/>
<rect x="241" y="350" width="7" height="9" fill="#0000e0"/>
<rect x="248" y="350" width="7" height="9" fill="#0000ec"/>
<rect x="255" y="350" width="7" height="9" fill="#0010ff"/>
<rect x="262" y="350" width="7" height="9" fill="#0000ec"/>
<rect x="269" y="350" width="7" height="9" fill="#0008f4"/>
<rect x="276" y="350" width="7" height="9" fill="#0000d4"/>
<rect x="283" y="350" width="7" height="9" fill="#0000e0"/>
<rect x="290" y="350" width="7" height="9" fill="#0000d4"/>
<rect x="297" y="350" width="7" height="9" fill="#0000ec"/>
<rect x="304" y="350" width="7" height="9" fill="#0000e0"/>
<rect x="311" y="350" width="7" height="9" fill="#0000e0"/>
<rect x="318" y="350" width="7" height="9" fill="#0000e0"/>
<rect x="325" y="350" width="7" height="9" fill="#0008f4"/>
<rect x="332" y="350" width="7" height="9" fill="#0008f4"/>
<rect x="339" y="350" width="7" height="9" fill="#0000e0"/>
<rect x="346" y="350" width="7" height="9" fill="#0008f4"/>
<rect x="353" y="350" width="7" height="9" fill="#0000ec"/>
<rect x="360" y="350" width="7" height="9" fill="#0000d4"/>
<rect x="367" y="350" width="7" height="9" fill="#0000d4"/>
<rect x="374" y="350" width="7" height="9" fill="#0008f4"/>
<rect x="381" y="350" width="7" height="9" fill="#0000ec"/>
<rect x="388" y="350" width="7" height="9" fill="#0000e0"/>
<rect x="395" y="350" width="7" height="9" fill="#0004e8"/>
<rect x="402" y="350" width="7" height="9" fill="#0000c8"/>
<rect x="409" y="350" width="7" height="9" fill="#0000c8"/>
<rect x="416" y="350" width="7" height="9" fill="#0000e0"/>
<rect x="423" y="350" width="7" height="9" fill="#0000e0"/>
<rect x="430" y="350" width="7" height="9" fill="#0000ec"/>
<rect x="437" y="350" width="7" height="9" fill="#0008f4"/>
<rect x="444" y="350" width="7" height="9" fill="#0004e8"/>
<rect x="451" y="350" width="7" height="9" fill="#0000c8"/>
<rect x="458" y="350" width="7" height="9" fill="#0000e0"/>
<rect x="465" y="350" width="7" height="9" fill="#0008f4"/>
<rect x="472" y="350" width="7" height="9" fill="#0000e0"/>
<rect x="479" y="350" width="7" height="9" fill="#0000c8"/>
<rect x="486" y="350" width="7" height="9" fill="#0000ec"/>
<rect x="493" y="350" width="7" height="9" fill="#0000e0"/>
<rect x="500" y="350" width="7" height="9" fill="#0000e0"/>
<rect x="507" y="350" width="7" height="9" fill="#0000ec"/>
<rect x="514" y="350" width="7" height="9" fill="#0000ec"/>
<rect x="521" y="350" width="7" height="9" fill="#0000e0"/>
<rect x="528" y="350" width="7" height="9" fill="#0000d4"/>
<rect x="535" y="350" width="7" height="9" fill="#0004e8"/>
<rect x="542" y="350" width="7" height="9" fill="#0000e0"/>
<rect x="549" y="350" width="7" height="9" fill="#0010ff"/>
<rect x="556" y="350" width="7" height="9" fill="#0008f4"/>
<rect x="563" y="350" width="7" height="9" fill="#0000d4"/>
<rect x="570" y="350" width="7" height="9" fill="#0000e0"/>
<rect x="577" y="350" width="7" height="9" fill="#0000ec"/>
<rect x="584" y="350" width="7" height="9" fill="#0000e0"/>
<rect x="591" y="350" width="7" height="9" fill="#0000e0"/>
<rect x="598" y="350" width="7" height="9" fill="#0008f4"/>
<rect x="136" y="359" width="7" height="9" fill="#0000e0"/>
<rect x="143" y="359" width="7" height="9" fill="#0004e8"/>
<rect x="150" y="359" width="7" height="9" fill="#0004e8"/>
<rect x="157" y="359" width="7" height="9" fill="#0000c8"/>
<rect x="164" y="359" width="7" height="9" fill="#0000e0"/>
<rect x="171" y="359" width="7" height="9" fill="#0000e0"/>
<rect x="178" y="359" width="7" height="9" fill="#0010ff"/>
<rect x="185" y="359" width="7" height="9" fill="#0000c8"/>
<rect x="192" y="359" width="7" height="9" fill="#0000e0"/>
<rect x="199" y="359" width="7" height="9" fill="#0004e8"/>
<rect x="206" y="359" width="7" height="9" fill="#0000d4"/>
<rect x="213" y="359" width="7" height="9" fill="#0000c8"/>
<rect x="220" y="359" width="7" height="9" fill="#0008f4"/>
<rect x="227" y="359" width="7" height="9" fill="#0000ec"/>
<rect x="234" y="359" width="7" height="9" fill="#0000e0"/>
<rect x="241" y="359" width="7" height="9" fill="#0000ec"/>
<rect x="248" y="359" width="7" height="9" fill="#0010ff"/>
<rect x="255" y="359" width="7" height="9" fill="#0000d4"/>
<rect x="262" y="359" width="7" height="9" fill="#0004e8"/>
<rect x="269" y="359" width="7" height="9" fill="#0000ec"/>
<rect x="276" y="359" width="7" height="9" fill="#0004e8"/>
<rect x="283" y="359" width="7" height="9" fill="#0000c8"/>
<rect x="290" y="359" width="7" height="9" fill="#0010ff"/>
<rect x="297" y="359" width="7" height="9" fill="#0010ff"/>
<rect x="304" y="359" width="7" height="9" fill="#0000e0"/>
<rect x="311" y="359" width="7" height="9" fill="#0004e8"/>
<rect x="318" y="359" width="7" height="9" fill="#0000ec"/>
<rect x="325" y="359" width="7" height="9" fill="#0000e0"/>
<rect x="332" y="359" width="7" height="9" fill="#0000e0"/>
<rect x="339" y="359" width="7" height="9" fill="#0000d4"/>
<rect x="346" y="359" width="7" height="9" fill="#0010ff"/>
<rect x="353" y="359" width="7" height="9" fill="#0000c8"/>
<rect x="360" y="359" width="7" height="9" fill="#0008f4"/>
<rect x="367" y="359" width="7" height="9" fill="#0008f4"/>
<rect x="374" y="359" width="7" height="9" fill="#0000e0"/>
<rect x="381" y="359" width="7" height="9" fill="#0000e0"/>
<rect x="388" y="359" width="7" height="9" fill="#0000c8"/>
<rect x="395" y="359" width="7" height="9" fill="#0000c8"/>
<rect x="402" y="359" width="7" height="9" fill="#0000d4"/>
<rect x="409" y="359" width="7" height="9" fill="#0000e0"/>
<rect x="416" y="359" width="7" height="9" fill="#0000e0"/>
<rect x="423" y="359" width="7" height="9" fill="#0010ff"/>
<rect x="430" y="359" width="7" height="9" fill="#0008f4"/>
<rect x="437" y="359" width="7" height="9" fill="#0000d4"/>
<rect x="444" y="359" width="7" height="9" fill="#0000ec"/>
<rect x="451" y="359" width="7" height="9" fill="#0008f4"/>
<rect x="458" y="359" width="7" height="9" fill="#0000e0"/>
<rect x="465" y="359" width="7" height="9" fill="#0000ec"/>
<rect x="472" y="359" width="7" height="9" fill="#0000e0"/>
<rect x="479" y="359" width="7" height="9" fill="#0004e8"/>
<rect x="486" y="359" width="7" height="9" fill="#0000ec"/>
<rect x="493" y="359" width="7" height="9" fill="#0000e0"/>
<rect x="500" y="359" width="7" height="9" fill="#0000e0"/>
<rect x="507" y="359" width="7" height="9" fill="#0000d4"/>
<rect x="514" y="359" width="7" height="9" fill="#0000ec"/>
<rect x="521" y="359" width="7" height="9" fill="#0004e8"/>
<rect x="528" y="359" width="7" height="9" fill="#0000ec"/>
<rect x="535" y="359" width="7" height="9" fill="#0000e0"/>
<rect x="542" y="359" width="7" height="9" fill="#0010ff"/>
<rect x="549" y="359" width="7" height="9" fill="#0000e0"/>
<rect x="556" y="359" width="7" height="9" fill="#0004e8"/>
<rect x="563" y="359" width="7" height="9" fill="#0008f4"/>
<rect x="570" y="359" width="7" height="9" fill="#0000e0"/>
<rect x="577" y="359" width="7" height="9" fill="#0004e8"/>
<rect x="584" y="359" width="7" height="9" fill="#0010ff"/>
<rect x="591" y="359" width="7" height="9" fill="#0000ec"/>
<rect x="598" y="359" width="7" height="9" fill="#0008f4"/>
<rect x="136" y="368" width="7" height="9" fill="#0000e0"/>
<rect x="143" y="368" width="7" height="9" fill="#0008f4"/>
<rect x="150" y="368" width="7" height="9" fill="#0000e0"/>
<rect x="157" y="368" width="7" height="9" fill="#0000e0"/>
<rect x="164" y="368" width="7" height="9" fill="#0004e8"/>
<rect x="171" y="368" width="7" height="9" fill="#0000c8"/>
<rect x="178" y="368" width="7" height="9" fill="#0008f4"/>
<rect x="185" y="368" width="7" height="9" fill="#0010ff"/>
<rect x="192" y="368" width="7" height="9" fill="#0000ec"/>
<rect x="199" y="368" width="7" height="9" fill="#0008f4"/>
<rect x="206" y="368" width="7" height="9" fill="#0010ff"/>
<rect x="213" y="368" width="7" height="9" fill="#0004e8"/>
<rect x="220" y="368" width="7" height="9" fill="#0004e8"/>
<rect x="227" y="368" width="7" height="9" fill="#0000e0"/>
<rect x="234" y="368" width="7" height="9" fill="#0000d4"/>
<rect x="241" y="368" width="7" height="9" fill="#0010ff"/>
<rect x="248" y="368" width="7" height="9" fill="#0000e0"/>
<rect x="255" y="368" width="7" height="9" fill="#0008f4"/>
<rect x="262" y="368" width="7" height="9" fill="#0000e0"/>
<rect x="269" y="368" width="7" height="9" fill="#0000c8"/>
<rect x="276" y="368" width="7" height="9" fill="#0000d4"/>
<rect x="283" y="368" width="7" height="9" fill="#0010ff"/>
<rect x="290" y="368" width="7" height="9" fill="#0000e0"/>
<rect x="297" y="368" width="7" height="9" fill="#0010ff"/>
<rect x="304" y="368" width="7" height="9" fill="#0000c8"/>
<rect x="311" y="368" width="7" height="9" fill="#0000c8"/>
<rect x="318" y="368" width="7" height="9" fill="#0000ec"/>
<rect x="325" y="368" width="7" height="9" fill="#0000d4"/>
<rect x="332" y="368" width="7" height="9" fill="#0008f4"/>
<rect x="339" y="368" width="7" height="9" fill="#0008f4"/>
<rect x="346" y="368" width="7" height="9" fill="#0000d4"/>
<rect x="353" y="368" width="7" height="9" fill="#0000e0"/>
<rect x="360" y="368" width="7" height="9" fill="#0000ec"/>
<rect x="367" y="368" width="7" height="9" fill="#0000e0"/>
<rect x="374" y="368" width="7" height="9" fill="#0004e8"/>
<rect x="381" y="368" width="7" height="9" fill="#0010ff"/>
<rect x="388" y="368" width="7" height="9" fill="#0000e0"/>
<rect x="395" y="368" width="7" height="9" fill="#0000ec"/>
<rect x="402" y="368" width="7" height="9" fill="#0000e0"/>
<rect x="409" y="368" width="7" height="9" fill="#0000e0"/>
<rect x="416" y="368" width="7" height="9" fill="#0000d4"/>
<rect x="423" y="368" width="7" height="9" fill="#0008f4"/>
<rect x="430" y="368" width="7" height="9" fill="#0000ec"/>
<rect x="437" y="368" width="7" height="9" fill="#0004e8"/>
<rect x="444" y="368" width="7" height="9" fill="#0000ec"/>
<rect x="451" y="368" width="7" height="9" fill="#0000d4"/>
<rect x="458" y="368" width="7" height="9" fill="#0004e8"/>
<rect x="465" y="368" width="7" height="9" fill="#0000d4"/>
<rect x="472" y="368" width="7" height="9" fill="#0000d4"/>
<rect x="479" y="368" width="7" height="9" fill="#0008f4"/>
<rect x="486" y="368" width="7" height="9" fill="#0000e0"/>
<rect x="493" y="368" width="7" height="9" fill="#0000ec"/>
<rect x="500" y="368" width="7" height="9" fill="#0000e0"/>
<rect x="507" y="368" width="7" height="9" fill="#0004e8"/>
<rect x="514" y="368" width="7" height="9" fill="#0004e8"/>
<rect x="521" y="368" width="7" height="9" fill="#0000c8"/>
<rect x="528" y="368" width="7" height="9" fill="#0004e8"/>
<rect x="535" y="368" width="7" height="9" fill="#0004e8"/>
<rect x="542" y="368" width="7" height="9" fill="#0000e0"/>
<rect x="549" y="368" width="7" height="9" fill="#0004e8"/>
<rect x="556" y="368" width="7" height="9" fill="#0000ec"/>
<rect x="563" y="368" width="7" height="9" fill="#0004e8"/>
<rect x="570" y="368" width="7" height="9" fill="#0000e0"/>
<rect x="577" y="368" width="7" height="9" fill="#0000c8"/>
<rect x="584" y="368" width="7" height="9" fill="#0000e0"/>
<rect x="591" y="368" width="7" height="9" fill="#0010ff"/>
<rect x="598" y="368" width="7" height="9" fill="#0004e8"/>
<rect x="136" y="377" width="7" height="9" fill="#0004e8"/>
<rect x="143" y="377" width="7" height="9" fill="#0008f4"/>
<rect x="150" y="377" width="7" height="9" fill="#0004e8"/>
<rect x="157" y="377" width="7" height="9" fill="#0010ff"/>
<rect x="164" y="377" width="7" height="9" fill="#0000e0"/>
<rect x="171" y="377" width="7" height="9" fill="#0000e0"/>
<rect x="178" y="377" width="7" height="9" fill="#0000d4"/>
<rect x="185" y="377" width="7" height="9" fill="#0000e0"/>
<rect x="192" y="377" width="7" height="9" fill="#0010ff"/>
<rect x="199" y="377" width="7" height="9" fill="#0000c8"/>
<rect x="206" y="377" width="7" height="9" fill="#0000c8"/>
<rect x="213" y="377" width="7" height="9" fill="#0000c8"/>
<rect x="220" y="377" width="7" height="9" fill="#0010ff"/>
<rect x="227" y="377" width="7" height="9" fill="#0000d4"/>
<rect x="234" y="377" width="7" height="9" fill="#0004e8"/>
<rect x="241" y="377" width="7" height="9" fill="#0004e8"/>
<rect x="248" y="377" width="7" height="9" fill="#0000e0"/>
<rect x="255" y="377" width="7" height="9" fill="#0000c8"/>
<rect x="262" y="377" width="7" height="9" fill="#0000ec"/>
<rect x="269" y="377" width="7" height="9" fill="#0000e0"/>
<rect x="276" y="377" width="7" height="9" fill="#0000e0"/>
<rect x="283" y="377" width="7" height="9" fill="#0010ff"/>
<rect x="290" y="377" width="7" height="9" fill="#0000d4"/>
<rect x="297" y="377" width="7" height="9" fill="#0010ff"/>
<rect x="304" y="377" width="7" height="9" fill="#0010ff"/>
<rect x="311" y="377" width="7" height="9" fill="#0004e8"/>
<rect x="318" y="377" width="7" height="9" fill="#0000ec"/>
<rect x="325" y="377" width="7" height="9" fill="#0008f4"/>
<rect x="332" y="377" width="7" height="9" fill="#0000e0"/>
<rect x="339" y="377" width="7" height="9" fill="#0010ff"/>
<rect x="346" y="377" width="7" height="9" fill="#0000e0"/>
<rect x="353" y="377" width="7" height="9" fill="#0008f4"/>
<rect x="360" y="377" width="7" height="9" fill="#0000c8"/>
<rect x="367" y="377" width="7" height="9" fill="#0008f4"/>
<rect x="374" y="377" width="7" height="9" fill="#0008f4"/>
<rect x="381" y="377" width="7" height="9" fill="#0010ff"/>
<rect x="388" y="377" width="7" height="9" fill="#0004e8"/>
<rect x="395" y="377" width="7" height="9" fill="#0000e0"/>
<rect x="402" y="377" width="7" height="9" fill="#0010ff"/>
<rect x="409" y="377" width="7" height="9" fill="#0008f4"/>
<rect x="416" y="377" width="7" height="9" fill="#0010ff"/>
<rect x="423" y="377" width="7" height="9" fill="#0000ec"/>
<rect x="430" y="377" width="7" height="9" fill="#0004e8"/>
<rect x="437" y="377" width="7" height="9" fill="#0000d4"/>
<rect x="444" y="377" width="7" height="9" fill="#0010ff"/>
<rect x="451" y="377" width="7" height="9" fill="#0000ec"/>
<rect x="458" y="377" width="7" height="9" fill="#0010ff"/>
<rect x="465" y="377" width="7" height="9" fill="#0008f4"/>
<rect x="472" y="377" width="7" height="9" fill="#0000e0"/>
<rect x="479" y="377" width="7" height="9" fill="#0000d4"/>
<rect x="486" y="377" width="7" height="9" fill="#0000c8"/>
<rect x="493" y="377" width="7" height="9" fill="#0000e0"/>
<rect x="500" y="377" width="7" height="9" fill="#0000e0"/>
<rect x="507" y="377" width="7" height="9" fill="#0000c8"/>
<rect x="514" y="377" width="7" height="9" fill="#0000e0"/>
<rect x="521" y="377" width="7" height="9" fill="#0008f4"/>
<rect x="528" y="377" width="7" height="9" fill="#0000d4"/>
<rect x="535" y="377" width="7" height="9" fill="#0000c8"/>
<rect x="542" y="377" width="7" height="9" fill="#0000c8"/>
<rect x="549" y="377" width="7" height="9" fill="#0000ec"/>
<rect x="556" y="377" width="7" height="9" fill="#0004e8"/>
<rect x="563" y="377" width="7" height="9" fill="#0000c8"/>
<rect x="570" y="377" width="7" height="9" fill="#0000e0"/>
<rect x="577" y="377" width="7" height="9" fill="#0000e0"/>
<rect x="584" y="377" width="7" height="9" fill="#0000d4"/>
<rect x="591" y="377" width="7" height="9" fill="#0000ec"/>
<rect x="598" y="377" width="7" height="9" fill="#0000c8"/>
<rect x="136" y="386" width="7" height="9" fill="#0004e8"/>
<rect x="143" y="386" width="7" height="9" fill="#0000e0"/>
<rect x="150" y="386" width="7" height="9" fill="#0000d4"/>
<rect x="157" y="386" width="7" height="9" fill="#0000e0"/>
<rect x="164" y="386" width="7" height="9" fill="#0000c8"/>
<rect x="171" y="386" width="7" height="9" fill="#0000e0"/>
<rect x="178" y="386" width="7" height="9" fill="#0000d4"/>
<rect x="185" y="386" width="7" height="9" fill="#0000c8"/>
<rect x="192" y="386" width="7" height="9" fill="#0010ff"/>
<rect x="199" y="386" width="7" height="9" fill="#0000e0"/>
<rect x="206" y="386" width="7" height="9" fill="#0008f4"/>
<rect x="213" y="386" width="7" height="9" fill="#0008f4"/>
<rect x="220" y="386" width="7" height="9" fill="#0008f4"/>
<rect x="227" y="386" width="7" height="9" fill="#0000e0"/>
<rect x="234" y="386" width="7" height="9" fill="#0000e0"/>
<rect x="241" y="386" width="7" height="9" fill="#0000c8"/>
<rect x="248" y="386" width="7" height="9" fill="#0010ff"/>
<rect x="255" y="386" width="7" height="9" fill="#0000c8"/>
<rect x="262" y="386" width="7" height="9" fill="#0000e0"/>
<rect x="269" y="386" width="7" height="9" fill="#0000c8"/>
<rect x="276" y="386" width="7" height="9" fill="#0004e8"/>
<rect x="283" y="386" width="7" height="9" fill="#0000c8"/>
<rect x="290" y="386" width="7" height="9" fill="#0000d4"/>
<rect x="297" y="386" width="7" height="9" fill="#0000e0"/>
<rect x="304" y="386" width="7" height="9" fill="#0000e0"/>
<rect x="311" y="386" width="7" height="9" fill="#0004e8"/>
<rect x="318" y="386" width="7" height="9" fill="#0000d4"/>
<rect x="325" y="386" width="7" height="9" fill="#0000c8"/>
<rect x="332" y="386" width="7" height="9" fill="#0000e0"/>
<rect x="339" y="386" width="7" height="9" fill="#0000e0"/>
<rect x="346" y="386" width="7" height="9" fill="#0004e8"/>
<rect x="353" y="386" width="7" height="9" fill="#0000e0"/>
<rect x="360" y="386" width="7" height="9" fill="#0000d4"/>
<rect x="367" y="386" width="7" height="9" fill="#0000d4"/>
<rect x="374" y="386" width="7" height="9" fill="#0004e8"/>
<rect x="381" y="386" width="7" height="9" fill="#0000ec"/>
<rect x="388" y="386" width="7" height="9" fill="#0000e0"/>
<rect x="395" y="386" width="7" height="9" fill="#0000c8"/>
<rect x="402" y="386" width="7" height="9" fill="#0000e0"/>
<rect x="409" y="386" width="7" height="9" fill="#0000c8"/>
<rect x="416" y="386" width="7" height="9" fill="#0000c8"/>
<rect x="423" y="386" width="7" height="9" fill="#0000d4"/>
<rect x="430" y="386" width="7" height="9" fill="#0000d4"/>
<rect x="437" y="386" width="7" height="9" fill="#0000ec"/>
<rect x="444" y="386" width="7" height="9" fill="#0000d4"/>
<rect x="451" y="386" width="7" height="9" fill="#0000e0"/>
<rect x="458" y="386" width="7" height="9" fill="#0004e8"/>
<rect x="465" y="386" width="7" height="9" fill="#0000c8"/>
<rect x="472" y="386" width="7" height="9" fill="#0008f4"/>
<rect x="479" y="386" width="7" height="9" fill="#0000ec"/>
<rect x="486" y="386" width="7" height="9" fill="#0004e8"/>
<rect x="493" y="386" width="7" height="9" fill="#0000e0"/>
<rect x="500" y="386" width="7" height="9" fill="#0000c8"/>
<rect x="507" y="386" width="7" height="9" fill="#0010ff"/>
<rect x="514" y="386" width="7" height="9" fill="#0000e0"/>
<rect x="521" y="386" width="7" height="9" fill="#0000d4"/>
<rect x="528" y="386" width="7" height="9" fill="#0008f4"/>
<rect x="535" y="386" width="7" height="9" fill="#0004e8"/>
<rect x="542" y="386" width="7" height="9" fill="#0004e8"/>
<rect x="549" y="386" width="7" height="9" fill="#0008f4"/>
<rect x="556" y="386" width="7" height="9" fill="#0000c8"/>
<rect x="563" y="386" width="7" height="9" fill="#0000c8"/>
<rect x="570" y="386" width="7" height="9" fill="#0000c8"/>
<rect x="577" y="386" width="7" height="9" fill="#0000c8"/>
<rect x="584" y="386" width="7" height="9" fill="#0000c8"/>
<rect x="591" y="386" width="7" height="9" fill="#0000d4"/>
<rect x="598" y="386" width="7" height="9" fill="#0000e0"/>
<rect x="136" y="395" width="7" height="9" fill="#0008f4"/>
<rect x="143" y="395" width="7" height="9" fill="#0008f4"/>
<rect x="150" y="395" width="7" height="9" fill="#0000e0"/>
<rect x="157" y="395" width="7" height="9" fill="#0004e8"/>
<rect x="164" y="395" width="7" height="9" fill="#0000c8"/>
<rect x="171" y="395" width="7" height="9" fill="#0010ff"/>
<rect x="178" y="395" width="7" height="9" fill="#0010ff"/>
<rect x="185" y="395" width="7" height="9" fill="#0004e8"/>
<rect x="192" y="395" width="7" height="9" fill="#0004e8"/>
<rect x="199" y="395" width="7" height="9" fill="#0000e0"/>
<rect x="206" y="395" width="7" height="9" fill="#0000e0"/>
<rect x="213" y="395" width="7" height="9" fill="#0000d4"/>
<rect x="220" y="395" width="7" height="9" fill="#0010ff"/>
<rect x="227" y="395" width="7" height="9" fill="#0000e0"/>
<rect x="234" y="395" width="7" height="9" fill="#0000e0"/>
<rect x="241" y="395" width="7" height="9" fill="#0004e8"/>
<rect x="248" y="395" width="7" height="9" fill="#0000e0"/>
<rect x="255" y="395" width="7" height="9" fill="#0004e8"/>
<rect x="262" y="395" width="7" height="9" fill="#0008f4"/>
<rect x="269" y="395" width="7" height="9" fill="#0010ff"/>
<rect x="276" y="395" width="7" height="9" fill="#0008f4"/>
<rect x="283" y="395" width="7" height="9" fill="#0008f4"/>
<rect x="290" y="395" width="7" height="9" fill="#0000c8"/>
<rect x="297" y="395" width="7" height="9" fill="#0010ff"/>
<rect x="304" y="395" width="7" height="9" fill="#0000c8"/>
<rect x="311" y="395" width="7" height="9" fill="#0000e0"/>
<rect x="318" y="395" width="7" height="9" fill="#0008f4"/>
<rect x="325" y="395" width="7" height="9" fill="#0000e0"/>
<rect x="332" y="395" width="7" height="9" fill="#0000ec"/>
<rect x="339" y="395" width="7" height="9" fill="#0000e0"/>
<rect x="346" y="395" width="7" height="9" fill="#0000e0"/>
<rect x="353" y="395" width="7" height="9" fill="#0000e0"/>
<rect x="360" y="395" width="7" height="9" fill="#0000ec"/>
<rect x="367" y="395" width="7" height="9" fill="#0004e8"/>
<rect x="374" y="395" width="7" height="9" fill="#0008f4"/>
<rect x="381" y="395" width="7" height="9" fill="#0000c8"/>
<rect x="388" y="395" width="7" height="9" fill="#0010ff"/>
<rect x="395" y="395" width="7" height="9" fill="#0008f4"/>
<rect x="402" y="395" width="7" height="9" fill="#0008f4"/>
<rect x="409" y="395" width="7" height="9" fill="#0000e0"/>
<rect x="416" y="395" width="7" height="9" fill="#0000e0"/>
<rect x="423" y="395" width="7" height="9" fill="#0000c8"/>
<rect x="430" y="395" width="7" height="9" fill="#0008f4"/>
<rect x="437" y="395" width="7" height="9" fill="#0000e0"/>
<rect x="444" y="395" width="7" height="9" fill="#0000e0"/>
<rect x="451" y="395" width="7" height="9" fill="#0008f4"/>
<rect x="458" y="395" width="7" height="9" fill="#0004e8"/>
<rect x="465" y="395" width="7" height="9" fill="#0010ff"/>
<rect x="472" y="395" width="7" height="9" fill="#0000d4"/>
<rect x="479" y="395" width="7" height="9" fill="#0004e8"/>
<rect x="486" y="395" width="7" height="9" fill="#0000e0"/>
<rect x="493" y="395" width="7" height="9" fill="#0000ec"/>
<rect x="500" y="395" width="7" height="9" fill="#0000ec"/>
<rect x="507" y="395" width="7" height="9" fill="#0008f4"/>
<rect x="514" y="395" width="7" height="9" fill="#0000c8"/>
<rect x="521" y="395" width="7" height="9" fill="#0000e0"/>
<rect x="528" y="395" width="7" height="9" fill="#0004e8"/>
<rect x="535" y="395" width="7" height="9" fill="#0000ec"/>
<rect x="542" y="395" width="7" height="9" fill="#0008f4"/>
<rect x="549" y="395" width="7" height="9" fill="#0000c8"/>
<rect x="556" y="395" width="7" height="9" fill="#0000e0"/>
<rect x="563" y="395" width="7" height="9" fill="#0004e8"/>
<rect x="570" y="395" width="7" height="9" fill="#0000d4"/>
<rect x="577" y="395" width="7" height="9" fill="#0010ff"/>
<rect x="584" y="395" width="7" height="9" fill="#0000d4"/>
<rect x="591" y="395" width="7" height="9" fill="#0000ec"/>
<rect x="598" y="395" width="7" height="9" fill="#0000e0"/>
<rect x="136" y="404" width="7" height="9" fill="#0008f4"/>
<rect x="143" y="404" width="7" height="9" fill="#0010ff"/>
<rect x="150" y="404" width="7" height="9" fill="#0004e8"/>
<rect x="157" y="404" width="7" height="9" fill="#0000ec"/>
<rect x="164" y="404" width="7" height="9" fill="#0000ec"/>
<rect x="171" y="404" width="7" height="9" fill="#0000ec"/>
<rect x="178" y="404" width="7" height="9" fill="#0000ec"/>
<rect x="185" y="404" width="7" height="9" fill="#0000d4"/>
<rect x="192" y="404" width="7" height="9" fill="#0000e0"/>
<rect x="199" y="404" width="7" height="9" fill="#0008f4"/>
<rect x="206" y="404" width="7" height="9" fill="#0010ff"/>
<rect x="213" y="404" width="7" height="9" fill="#0010ff"/>
<rect x="220" y="404" width="7" height="9" fill="#0000e0"/>
<rect x="227" y="404" width="7" height="9" fill="#0000e0"/>
<rect x="234" y="404" width="7" height="9" fill="#0000ec"/>
<rect x="241" y="404" width="7" height="9" fill="#0000c8"/>
<rect x="248" y="404" width="7" height="9" fill="#0004e8"/>
<rect x="255" y="404" width="7" height="9" fill="#0010ff"/>
<rect x="262" y="404" width="7" height="9" fill="#0000d4"/>
<rect x="269" y="404" width="7" height="9" fill="#0010ff"/>
<rect x="276" y="404" width="7" height="9" fill="#0004e8"/>
<rect x="283" y="404" width="7" height="9" fill="#0000d4"/>
<rect x="290" y="404" width="7" height="9" fill="#0000e0"/>
<rect x="297" y="404" width="7" height="9" fill="#0010ff"/>
<rect x="304" y="404" width="7" height="9" fill="#0000c8"/>
<rect x="311" y="404" width="7" height="9" fill="#0010ff"/>
<rect x="318" y="404" width="7" height="9" fill="#0008f4"/>
<rect x="325" y="404" width="7" height="9" fill="#0000c8"/>
<rect x="332" y="404" width="7" height="9" fill="#0000d4"/>
<rect x="339" y="404" width="7" height="9" fill="#0000c8"/>
<rect x="346" y="404" width="7" height="9" fill="#0000ec"/>
<rect x="353" y="404" width="7" height="9" fill="#0004e8"/>
<rect x="360" y="404" width="7" height="9" fill="#0000ec"/>
<rect x="367" y="404" width="7" height="9" fill="#0008f4"/>
<rect x="374" y="404" width="7" height="9" fill="#0008f4"/>
<rect x="381" y="404" width="7" height="9" fill="#0000e0"/>
<rect x="388" y="404" width="7" height="9" fill="#0000d4"/>
<rect x="395" y="404" width="7" height="9" fill="#0004e8"/>
<rect x="402" y="404" width="7" height="9" fill="#0000e0"/>
<rect x="409" y="404" width="7" height="9" fill="#0008f4"/>
<rect x="416" y="404" width="7" height="9" fill="#0000c8"/>
<rect x="423" y="404" width="7" height="9" fill="#0010ff"/>
<rect x="430" y="404" width="7" height="9" fill="#0000ec"/>
<rect x="437" y="404" width="7" height="9" fill="#0000e0"/>
<rect x="444" y="404" width="7" height="9" fill="#0000e0"/>
<rect x="451" y="404" width="7" height="9" fill="#0000d4"/>
<rect x="458" y="404" width="7" height="9" fill="#0000c8"/>
<rect x="465" y="404" width="7" height="9" fill="#0000c8"/>
<rect x="472" y="404" width="7" height="9" fill="#0000c8"/>
<rect x="479" y="404" width="7" height="9" fill="#0010ff"/>
<rect x="486" y="404" width="7" height="9" fill="#0004e8"/>
<rect x="493" y="404" width="7" height="9" fill="#0004e8"/>
<rect x="500" y="404" width="7" height="9" fill="#0000d4"/>
<rect x="507" y="404" width="7" height="9" fill="#0000e0"/>
<rect x="514" y="404" width="7" height="9" fill="#0000d4"/>
<rect x="521" y="404" width="7" height="9" fill="#0000d4"/>
<rect x="528" y="404" width="7" height="9" fill="#0008f4"/>
<rect x="535" y="404" width="7" height="9" fill="#0010ff"/>
<rect x="542" y="404" width="7" height="9" fill="#0000ec"/>
<rect x="549" y="404" width="7" height="9" fill="#0000d4"/>
<rect x="556" y="404" width="7" height="9" fill="#0000e0"/>
<rect x="563" y="404" width="7" height="9" fill="#0000e0"/>
<rect x="570" y="404" width="7" height="9" fill="#0004e8"/>
<rect x="577" y="404" width="7" height="9" fill="#0000e0"/>
<rect x="584" y="404" width="7" height="9" fill="#0010ff"/>
<rect x="591" y="404" width="7" height="9" fill="#0000ec"/>
<rect x="598" y="404" width="7" height="9" fill="#0000ec"/>
<rect x="136" y="413" width="7" height="9" fill="#0000e0"/>
<rect x="143" y="413" width="7" height="9" fill="#0000c8"/>
<rect x="150" y="413" width="7" height="9" fill="#0008f4"/>
<rect x="157" y="413" width="7" height="9" fill="#0010ff"/>
<rect x="164" y="413" width="7" height="9" fill="#0000c8"/>
<rect x="171" y="413" width="7" height="9" fill="#0000c8"/>
<rect x="178" y="413" width="7" height="9" fill="#0000c8"/>
<rect x="185" y="413" width="7" height="9" fill="#0008f4"/>
<rect x="192" y="413" width="7" height="9" fill="#0004e8"/>
<rect x="199" y="413" width="7" height="9" fill="#0000c8"/>
<rect x="206" y="413" width="7" height="9" fill="#0000d4"/>
<rect x="213" y="413" width="7" height="9" fill="#0000e0"/>
<rect x="220" y="413" width="7" height="9" fill="#0010ff"/>
<rect x="227" y="413" width="7" height="9" fill="#0000c8"/>
<rect x="234" y="413" width="7" height="9" fill="#0000ec"/>
<rect x="241" y="413" width="7" height="9" fill="#0008f4"/>
<rect x="248" y="413" width="7" height="9" fill="#0004e8"/>
<rect x="255" y="413" width="7" height="9" fill="#0000d4"/>
<rect x="262" y="413" width="7" height="9" fill="#0004e8"/>
<rect x="269" y="413" width="7" height="9" fill="#0010ff"/>
<rect x="276" y="413" width="7" height="9" fill="#0010ff"/>
<rect x="283" y="413" width="7" height="9" fill="#0008f4"/>
<rect x="290" y="413" width="7" height="9" fill="#0000e0"/>
<rect x="297" y="413" width="7" height="9" fill="#0000d4"/>
<rect x="304" y="413" width="7" height="9" fill="#0010ff"/>
<rect x="311" y="413" width="7" height="9" fill="#0004e8"/>
<rect x="318" y="413" width="7" height="9" fill="#0000e0"/>
<rect x="325" y="413" width="7" height="9" fill="#0000e0"/>
<rect x="332" y="413" width="7" height="9" fill="#0004e8"/>
<rect x="339" y="413" width="7" height="9" fill="#0000ec"/>
<rect x="346" y="413" width="7" height="9" fill="#0000e0"/>
<rect x="353" y="413" width="7" height="9" fill="#0000c8"/>
<rect x="360" y="413" width="7" height="9" fill="#0004e8"/>
<rect x="367" y="413" width="7" height="9" fill="#0000ec"/>
<rect x="374" y="413" width="7" height="9" fill="#0000c8"/>
<rect x="381" y="413" width="7" height="9" fill="#0000e0"/>
<rect x="388" y="413" width="7" height="9" fill="#0000ec"/>
<rect x="395" y="413" width="7" height="9" fill="#0000d4"/>
<rect x="402" y="413" width="7" height="9" fill="#0010ff"/>
<rect x="409" y="413" width="7" height="9" fill="#0000e0"/>
<rect x="416" y="413" width="7" height="9" fill="#0004e8"/>
<rect x="423" y="413" width="7" height="9" fill="#0000d4"/>
<rect x="430" y="413" width="7" height="9" fill="#0000e0"/>
<rect x="437" y="413" width="7" height="9" fill="#0000c8"/>
<rect x="444" y="413" width="7" height="9" fill="#0000d4"/>
<rect x="451" y="413" width="7" height="9" fill="#0004e8"/>
<rect x="458" y="413" width="7" height="9" fill="#0010ff"/>
<rect x="465" y="413" width="7" height="9" fill="#0010ff"/>
<rect x="472" y="413" width="7" height="9" fill="#0000ec"/>
<rect x="479" y="413" width="7" height="9" fill="#0004e8"/>
<rect x="486" y="413" width="7" height="9" fill="#0000d4"/>
<rect x="493" y="413" width="7" height="9" fill="#0010ff"/>
<rect x="500" y="413" width="7" height="9" fill="#0000e0"/>
<rect x="507" y="413" width="7" height="9" fill="#0010ff"/>
<rect x="514" y="413" width="7" height="9" fill="#0000ec"/>
<rect x="521" y="413" width="7" height="9" fill="#0000c8"/>
<rect x="528" y="413" width="7" height="9" fill="#0000e0"/>
<rect x="535" y="413" width="7" height="9" fill="#0004e8"/>
<rect x="542" y="413" width="7" height="9" fill="#0000e0"/>
<rect x="549" y="413" width="7" height="9" fill="#0004e8"/>
<rect x="556" y="413" width="7" height="9" fill="#0000e0"/>
<rect x="563" y="413" width="7" height="9" fill="#0008f4"/>
<rect x="570" y="413" width="7" height="9" fill="#0000e0"/>
<rect x="577" y="413" width="7" height="9" fill="#0000e0"/>
<rect x="584" y="413" width="7" height="9" fill="#0000ec"/>
<rect x="591" y="413" width="7" height="9" fill="#0000e0"/>
<rect x="598" y="413" width="7" height="9" fill="#0000c8"/>
<rect x="136" y="422" width="7" height="9" fill="#0008f4"/>
<rect x="143" y="422" width="7" height="9" fill="#0008f4"/>
<rect x="150" y="422" width="7" height="9" fill="#0010ff"/>
<rect x="157" y="422" width="7" height="9" fill="#0000e0"/>
<rect x="164" y="422" width="7" height="9" fill="#0008f4"/>
<rect x="171" y="422" width="7" height="9" fill="#0004e8"/>
<rect x="178" y="422" width="7" height="9" fill="#0000d4"/>
<rect x="185" y="422" width="7" height="9" fill="#0010ff"/>
<rect x="192" y="422" width="7" height="9" fill="#0004e8"/>
<rect x="199" y="422" width="7" height="9" fill="#0004e8"/>
<rect x="206" y="422" width="7" height="9" fill="#0000d4"/>
<rect x="213" y="422" width="7" height="9" fill="#0000e0"/>
<rect x="220" y="422" width="7" height="9" fill="#0000c8"/>
<rect x="227" y="422" width="7" height="9" fill="#0000ec"/>
<rect x="234" y="422" width="7" height="9" fill="#0004e8"/>
<rect x="241" y="422" width="7" height="9" fill="#0008f4"/>
<rect x="248" y="422" width="7" height="9" fill="#0000d4"/>
<rect x="255" y="422" width="7" height="9" fill="#0008f4"/>
<rect x="262" y="422" width="7" height="9" fill="#0000ec"/>
<rect x="269" y="422" width="7" height="9" fill="#0010ff"/>
<rect x="276" y="422" width="7" height="9" fill="#0000e0"/>
<rect x="283" y="422" width="7" height="9" fill="#0008f4"/>
<rect x="290" y="422" width="7" height="9" fill="#0000ec"/>
<rect x="297" y="422" width="7" height="9" fill="#0000ec"/>
<rect x="304" y="422" width="7" height="9" fill="#0000d4"/>
<rect x="311" y="422" width="7" height="9" fill="#0000e0"/>
<rect x="318" y="422" width="7" height="9" fill="#0008f4"/>
<rect x="325" y="422" width="7" height="9" fill="#0000e0"/>
<rect x="332" y="422" width="7" height="9" fill="#0000e0"/>
<rect x="339" y="422" width="7" height="9" fill="#0000c8"/>
<rect x="346" y="422" width="7" height="9" fill="#0008f4"/>
<rect x="353" y="422" width="7" height="9" fill="#0000e0"/>
<rect x="360" y="422" width="7" height="9" fill="#0000c8"/>
<rect x="367" y="422" width="7" height="9" fill="#0004e8"/>
<rect x="374" y="422" width="7" height="9" fill="#0010ff"/>
<rect x="381" y="422" width="7" height="9" fill="#0000e0"/>
<rect x="388" y="422" width="7" height="9" fill="#0004e8"/>
<rect x="395" y="422" width="7" height="9" fill="#0000c8"/>
<rect x="402" y="422" width="7" height="9" fill="#0008f4"/>
<rect x="409" y="422" width="7" height="9" fill="#0000e0"/>
<rect x="416" y="422" width="7" height="9" fill="#0010ff"/>
<rect x="423" y="422" width="7" height="9" fill="#0000e0"/>
<rect x="430" y="422" width="7" height="9" fill="#0000c8"/>
<rect x="437" y="422" width="7" height="9" fill="#0000e0"/>
<rect x="444" y="422" width="7" height="9" fill="#0000ec"/>
<rect x="451" y="422" width="7" height="9" fill="#0008f4"/>
<rect x="458" y="422" width="7" height="9" fill="#0000e0"/>
<rect x="465" y="422" width="7" height="9" fill="#0000e0"/>
<rect x="472" y="422" width="7" height="9" fill="#0000e0"/>
<rect x="479" y="422" width="7" height="9" fill="#0000ec"/>
<rect x="486" y="422" width="7" height="9" fill="#0000e0"/>
<rect x="493" y="422" width="7" height="9" fill="#0000ec"/>
<rect x="500" y="422" width="7" height="9" fill="#0000d4"/>
<rect x="507" y="422" width="7" height="9" fill="#0000d4"/>
<rect x="514" y="422" width="7" height="9" fill="#0004e8"/>
<rect x="521" y="422" width="7" height="9" fill="#0008f4"/>
<rect x="528" y="422" width="7" height="9" fill="#0000e0"/>
<rect x="535" y="422" width="7" height="9" fill="#0000ec"/>
<rect x="542" y="422" width="7" height="9" fill="#0000e0"/>
<rect x="549" y="422" width="7" height="9" fill="#0000ec"/>
<rect x="556" y="422" width="7" height="9" fill="#0008f4"/>
<rect x="563" y="422" width="7" height="9" fill="#0000ec"/>
<rect x="570" y="422" width="7" height="9" fill="#0000c8"/>
<rect x="577" y="422" width="7" height="9" fill="#0000d4"/>
<rect x="584" y="422" width="7" height="9" fill="#0000e0"/>
<rect x="591" y="422" width="7" height="9" fill="#0000c8"/>
<rect x="598" y="422" width="7" height="9" fill="#0010ff"/>
<rect x="136" y="431" width="7" height="9" fill="#0010ff"/>
<rect x="143" y="431" width="7" height="9" fill="#0008f4"/>
<rect x="150" y="431" width="7" height="9" fill="#0004e8"/>
<rect x="157" y="431" width="7" height="9" fill="#0000d4"/>
<rect x="164" y="431" width="7" height="9" fill="#0000c8"/>
<rect x="171" y="431" width="7" height="9" fill="#0000e0"/>
<rect x="178" y="431" width="7" height="9" fill="#0004e8"/>
<rect x="185" y="431" width="7" height="9" fill="#0000e0"/>
<rect x="192" y="431" width="7" height="9" fill="#0008f4"/>
<rect x="199" y="431" width="7" height="9" fill="#0000ec"/>
<rect x="206" y="431" width="7" height="9" fill="#0000e0"/>
<rect x="213" y="431" width="7" height="9" fill="#0010ff"/>
<rect x="220" y="431" width="7" height="9" fill="#0000c8"/>
<rect x="227" y="431" width="7" height="9" fill="#0000e0"/>
<rect x="234" y="431" width="7" height="9" fill="#0010ff"/>
<rect x="241" y="431" width="7" height="9" fill="#0000c8"/>
<rect x="248" y="431" width="7" height="9" fill="#0010ff"/>
<rect x="255" y="431" width="7" height="9" fill="#0004e8"/>
<rect x="262" y="431" width="7" height="9" fill="#0000d4"/>
<rect x="269" y="431" width="7" height="9" fill="#0000d4"/>
<rect x="276" y="431" width="7" height="9" fill="#0010ff"/>
<rect x="283" y="431" width="7" height="9" fill="#0000ec"/>
<rect x="290" y="431" width="7" height="9" fill="#0010ff"/>
<rect x="297" y="431" width="7" height="9" fill="#0000e0"/>
<rect x="304" y="431" width="7" height="9" fill="#0000c8"/>
<rect x="311" y="431" width="7" height="9" fill="#0008f4"/>
<rect x="318" y="431" width="7" height="9" fill="#0000d4"/>
<rect x="325" y="431" width="7" height="9" fill="#0004e8"/>
<rect x="332" y="431" width="7" height="9" fill="#0004e8"/>
<rect x="339" y="431" width="7" height="9" fill="#0000c8"/>
<rect x="346" y="431" width="7" height="9" fill="#0000e0"/>
<rect x="353" y="431" width="7" height="9" fill="#0000c8"/>
<rect x="360" y="431" width="7" height="9" fill="#0000ec"/>
<rect x="367" y="431" width="7" height="9" fill="#0000d4"/>
<rect x="374" y="431" width="7" height="9" fill="#0000ec"/>
<rect x="381" y="431" width="7" height="9" fill="#0000e0"/>
<rect x="388" y="431" width="7" height="9" fill="#0000e0"/>
<rect x="395" y="431" width="7" height="9" fill="#0000d4"/>
<rect x="402" y="431" width="7" height="9" fill="#0008f4"/>
<rect x="409" y="431" width="7" height="9" fill="#0008f4"/>
<rect x="416" y="431" width="7" height="9" fill="#0000c8"/>
<rect x="423" y="431" width="7" height="9" fill="#0000c8"/>
<rect x="430" y="431" width="7" height="9" fill="#0000d4"/>
<rect x="437" y="431" width="7" height="9" fill="#0000ec"/>
<rect x="444" y="431" width="7" height="9" fill="#0008f4"/>
<rect x="451" y="431" width="7" height="9" fill="#0000c8"/>
<rect x="458" y="431" width="7" height="9" fill="#0004e8"/>
<rect x="465" y="431" width="7" height="9" fill="#0000ec"/>
<rect x="472" y="431" width="7" height="9" fill="#0004e8"/>
<rect x="479" y="431" width="7" height="9" fill="#0000d4"/>
<rect x="486" y="431" width="7" height="9" fill="#0010ff"/>
<rect x="493" y="431" width="7" height="9" fill="#0000d4"/>
<rect x="500" y="431" width="7" height="9" fill="#0000e0"/>
<rect x="507" y="431" width="7" height="9" fill="#0000c8"/>
<rect x="514" y="431" width="7" height="9" fill="#0008f4"/>
<rect x="521" y="431" width="7" height="9" fill="#0000d4"/>
<rect x="528" y="431" width="7" height="9" fill="#0004e8"/>
<rect x="535" y="431" width="7" height="9" fill="#0004e8"/>
<rect x="542" y="431" width="7" height="9" fill="#0008f4"/>
<rect x="549" y="431" width="7" height="9" fill="#0000d4"/>
<rect x="556" y="431" width="7" height="9" fill="#0000d4"/>
<rect x="563" y="431" width="7" height="9" fill="#0000d4"/>
<rect x="570" y="431" width="7" height="9" fill="#0000e0"/>
<rect x="577" y="431" width="7" height="9" fill="#0000e0"/>
<rect x="584" y="431" width="7" height="9" fill="#0000ec"/>
<rect x="591" y="431" width="7" height="9" fill="#0000ec"/>
<rect x="598" y="431" width="7" height="9" fill="#0000e0"/>
<rect x="136" y="440" width="7" height="9" fill="#0004e8"/>
<rect x="143" y="440" width="7" height="9" fill="#0000e0"/>
<rect x="150" y="440" width="7" height="9" fill="#0000e0"/>
<rect x="157" y="440" width="7" height="9" fill="#0000c8"/>
<rect x="164" y="440" width="7" height="9" fill="#0000e0"/>
<rect x="171" y="440" width="7" height="9" fill="#0000e0"/>
<rect x="178" y="440" width="7" height="9" fill="#0000c8"/>
<rect x="185" y="440" width="7" height="9" fill="#0000e0"/>
<rect x="192" y="440" width="7" height="9" fill="#0000c8"/>
<rect x="199" y="440" width="7" height="9" fill="#0010ff"/>
<rect x="206" y="440" width="7" height="9" fill="#0010ff"/>
<rect x="213" y="440" width="7" height="9" fill="#0000e0"/>
<rect x="220" y="440" width="7" height="9" fill="#0000ec"/>
<rect x="227" y="440" width="7" height="9" fill="#0010ff"/>
<rect x="234" y="440" width="7" height="9" fill="#0000e0"/>
<rect x="241" y="440" width="7" height="9" fill="#0010ff"/>
<rect x="248" y="440" width="7" height="9" fill="#0000e0"/>
<rect x="255" y="440" width="7" height="9" fill="#0000c8"/>
<rect x="262" y="440" width="7" height="9" fill="#0010ff"/>
<rect x="269" y="440" width="7" height="9" fill="#0000e0"/>
<rect x="276" y="440" width="7" height="9" fill="#0010ff"/>
<rect x="283" y="440" width="7" height="9" fill="#0000ec"/>
<rect x="290" y="440" width="7" height="9" fill="#0000e0"/>
<rect x="297" y="440" width="7" height="9" fill="#0000c8"/>
<rect x="304" y="440" width="7" height="9" fill="#0010ff"/>
<rect x="311" y="440" width="7" height="9" fill="#0000d4"/>
<rect x="318" y="440" width="7" height="9" fill="#0000e0"/>
<rect x="325" y="440" width="7" height="9" fill="#0000d4"/>
<rect x="332" y="440" width="7" height="9" fill="#0010ff"/>
<rect x="339" y="440" width="7" height="9" fill="#0000e0"/>
<rect x="346" y="440" width="7" height="9" fill="#0000ec"/>
<rect x="353" y="440" width="7" height="9" fill="#0000c8"/>
<rect x="360" y="440" width="7" height="9" fill="#0000ec"/>
<rect x="367" y="440" width="7" height="9" fill="#0000e0"/>
<rect x="374" y="440" width="7" height="9" fill="#0000e0"/>
<rect x="381" y="440" width="7" height="9" fill="#0000e0"/>
<rect x="388" y="440" width="7" height="9" fill="#0004e8"/>
<rect x="395" y="440" width="7" height="9" fill="#0000c8"/>
<rect x="402" y="440" width="7" height="9" fill="#0000c8"/>
<rect x="409" y="440" width="7" height="9" fill="#0000c8"/>
<rect x="416" y="440" width="7" height="9" fill="#0008f4"/>
<rect x="423" y="440" width="7" height="9" fill="#0008f4"/>
<rect x="430" y="440" width="7" height="9" fill="#0000c8"/>
<rect x="437" y="440" width="7" height="9" fill="#0000d4"/>
<rect x="444" y="440" width="7" height="9" fill="#0008f4"/>
<rect x="451" y="440" width="7" height="9" fill="#0000d4"/>
<rect x="458" y="440" width="7" height="9" fill="#0000c8"/>
<rect x="465" y="440" width="7" height="9" fill="#0000e0"/>
<rect x="472" y="440" width="7" height="9" fill="#0000ec"/>
<rect x="479" y="440" width="7" height="9" fill="#0000c8"/>
<rect x="486" y="440" width="7" height="9" fill="#0008f4"/>
<rect x="493" y="440" width="7" height="9" fill="#0000d4"/>
<rect x="500" y="440" width="7" height="9" fill="#0008f4"/>
<rect x="507" y="440" width="7" height="9" fill="#0010ff"/>
<rect x="514" y="440" width="7" height="9" fill="#0000e0"/>
<rect x="521" y="440" width="7" height="9" fill="#0000d4"/>
<rect x="528" y="440" width="7" height="9" fill="#0000c8"/>
<rect x="535" y="440" width="7" height="9" fill="#0008f4"/>
<rect x="542" y="440" width="7" height="9" fill="#0000d4"/>
<rect x="549" y="440" width="7" height="9" fill="#0004e8"/>
<rect x="556" y="440" width="7" height="9" fill="#0000e0"/>
<rect x="563" y="440" width="7" height="9" fill="#0004e8"/>
<rect x="570" y="440" width="7" height="9" fill="#0000d4"/>
<rect x="577" y="440" width="7" height="9" fill="#0000e0"/>
<rect x="584" y="440" width="7" height="9" fill="#0008f4"/>
<rect x="591" y="440" width="7" height="9" fill="#0000e0"/>
<rect x="598" y="440" width="7" height="9" fill="#0008f4"/>
<rect x="136" y="449" width="7" height="9" fill="#0008f4"/>
<rect x="143" y="449" width="7" height="9" fill="#0000ec"/>
<rect x="150" y="449" width="7" height="9" fill="#0000d4"/>
<rect x="157" y="449" width="7" height="9" fill="#0008f4"/>
<rect x="164" y="449" width="7" height="9" fill="#0004e8"/>
<rect x="171" y="449" width="7" height="9" fill="#0000ec"/>
<rect x="178" y="449" width="7" height="9" fill="#0000e0"/>
<rect x="185" y="449" width="7" height="9" fill="#0000ec"/>
<rect x="192" y="449" width="7" height="9" fill="#0010ff"/>
<rect x="199" y="449" width="7" height="9" fill="#0004e8"/>
<rect x="206" y="449" width="7" height="9" fill="#0008f4"/>
<rect x="213" y="449" width="7" height="9" fill="#0004e8"/>
<rect x="220" y="449" width="7" height="9" fill="#0004e8"/>
<rect x="227" y="449" width="7" height="9" fill="#0008f4"/>
<rect x="234" y="449" width="7" height="9" fill="#0000c8"/>
<rect x="241" y="449" width="7" height="9" fill="#0000ec"/>
<rect x="248" y="449" width="7" height="9" fill="#0010ff"/>
<rect x="255" y="449" width="7" height="9" fill="#0000ec"/>
<rect x="262" y="449" width="7" height="9" fill="#0000ec"/>
<rect x="269" y="449" width="7" height="9" fill="#0000e0"/>
<rect x="276" y="449" width="7" height="9" fill="#0000e0"/>
<rect x="283" y="449" width="7" height="9" fill="#0000c8"/>
<rect x="290" y="449" width="7" height="9" fill="#0010ff"/>
<rect x="297" y="449" width="7" height="9" fill="#0000e0"/>
<rect x="304" y="449" width="7" height="9" fill="#0000ec"/>
<rect x="311" y="449" width="7" height="9" fill="#0010ff"/>
<rect x="318" y="449" width="7" height="9" fill="#0010ff"/>
<rect x="325" y="449" width="7" height="9" fill="#0004e8"/>
<rect x="332" y="449" width="7" height="9" fill="#0008f4"/>
<rect x="339" y="449" width="7" height="9" fill="#0008f4"/>
<rect x="346" y="449" width="7" height="9" fill="#0000ec"/>
<rect x="353" y="449" width="7" height="9" fill="#0008f4"/>
<rect x="360" y="449" width="7" height="9" fill="#0000c8"/>
<rect x="367" y="449" width="7" height="9" fill="#0000c8"/>
<rect x="374" y="449" width="7" height="9" fill="#0000e0"/>
<rect x="381" y="449" width="7" height="9" fill="#0000d4"/>
<rect x="388" y="449" width="7" height="9" fill="#0010ff"/>
<rect x="395" y="449" width="7" height="9" fill="#0004e8"/>
<rect x="402" y="449" width="7" height="9" fill="#0000c8"/>
<rect x="409" y="449" width="7" height="9" fill="#0000e0"/>
<rect x="416" y="449" width="7" height="9" fill="#0004e8"/>
<rect x="423" y="449" width="7" height="9" fill="#0010ff"/>
<rect x="430" y="449" width="7" height="9" fill="#0000d4"/>
<rect x="437" y="449" width="7" height="9" fill="#0000ec"/>
<rect x="444" y="449" width="7" height="9" fill="#0000e0"/>
<rect x="451" y="449" width="7" height="9" fill="#0000e0"/>
<rect x="458" y="449" width="7" height="9" fill="#0010ff"/>
<rect x="465" y="449" width="7" height="9" fill="#0010ff"/>
<rect x="472" y="449" width="7" height="9" fill="#0000e0"/>
<rect x="479" y="449" width="7" height="9" fill="#0000ec"/>
<rect x="486" y="449" width="7" height="9" fill="#0008f4"/>
<rect x="493" y="449" width="7" height="9" fill="#0000d4"/>
<rect x="500" y="449" width="7" height="9" fill="#0004e8"/>
<rect x="507" y="449" width="7" height="9" fill="#0008f4"/>
<rect x="514" y="449" width="7" height="9" fill="#0000e0"/>
<rect x="521" y="449" width="7" height="9" fill="#0000e0"/>
<rect x="528" y="449" width="7" height="9" fill="#0000d4"/>
<rect x="535" y="449" width="7" height="9" fill="#0000c8"/>
<rect x="542" y="449" width="7" height="9" fill="#0000e0"/>
<rect x="549" y="449" width="7" height="9" fill="#0000d4"/>
<rect x="556" y="449" width="7" height="9" fill="#0004e8"/>
<rect x="563" y="449" width="7" height="9" fill="#0000e0"/>
<rect x="570" y="449" width="7" height="9" fill="#0000e0"/>
<rect x="577" y="449" width="7" height="9" fill="#0000e0"/>
<rect x="584" y="449" width="7" height="9" fill="#0008f4"/>
<rect x="591" y="449" width="7" height="9" fill="#0000d4"/>
<rect x="598" y="449" width="7" height="9" fill="#0000e0"/>
<rect x="136" y="458" width="7" height="9" fill="#0004e8"/>
<rect x="143" y="458" width="7" height="9" fill="#0004e8"/>
<rect x="150" y="458" width="7" height="9" fill="#0008f4"/>
<rect x="157" y="458" width="7" height="9" fill="#0010ff"/>
<rect x="164" y="458" width="7" height="9" fill="#0008f4"/>
<rect x="171" y="458" width="7" height="9" fill="#0010ff"/>
<rect x="178" y="458" width="7" height="9" fill="#0000e0"/>
<rect x="185" y="458" width="7" height="9" fill="#0000e0"/>
<rect x="192" y="458" width="7" height="9" fill="#0010ff"/>
<rect x="199" y="458" width="7" height="9" fill="#0000c8"/>
<rect x="206" y="458" width="7" height="9" fill="#0004e8"/>
<rect x="213" y="458" width="7" height="9" fill="#0000e0"/>
<rect x="220" y="458" width="7" height="9" fill="#0004e8"/>
<rect x="227" y="458" width="7" height="9" fill="#0008f4"/>
<rect x="234" y="458" width="7" height="9" fill="#0000e0"/>
<rect x="241" y="458" width="7" height="9" fill="#0008f4"/>
<rect x="248" y="458" width="7" height="9" fill="#0000e0"/>
<rect x="255" y="458" width="7" height="9" fill="#0000e0"/>
<rect x="262" y="458" width="7" height="9" fill="#0000e0"/>
<rect x="269" y="458" width="7" height="9" fill="#0000ec"/>
<rect x="276" y="458" width="7" height="9" fill="#0000d4"/>
<rect x="283" y="458" width="7" height="9" fill="#0010ff"/>
<rect x="290" y="458" width="7" height="9" fill="#0010ff"/>
<rect x="297" y="458" width="7" height="9" fill="#0000ec"/>
<rect x="304" y="458" width="7" height="9" fill="#0010ff"/>
<rect x="311" y="458" width="7" height="9" fill="#0000ec"/>
<rect x="318" y="458" width="7" height="9" fill="#0000e0"/>
<rect x="325" y="458" width="7" height="9" fill="#0000c8"/>
<rect x="332" y="458" width="7" height="9" fill="#0000c8"/>
<rect x="339" y="458" width="7" height="9" fill="#0000c8"/>
<rect x="346" y="458" width="7" height="9" fill="#0008f4"/>
<rect x="353" y="458" width="7" height="9" fill="#0004e8"/>
<rect x="360" y="458" width="7" height="9" fill="#0008f4"/>
<rect x="367" y="458" width="7" height="9" fill="#0008f4"/>
<rect x="374" y="458" width="7" height="9" fill="#0000e0"/>
<rect x="381" y="458" width="7" height="9" fill="#0000e0"/>
<rect x="388" y="458" width="7" height="9" fill="#0000e0"/>
<rect x="395" y="458" width="7" height="9" fill="#0004e8"/>
<rect x="402" y="458" width="7" height="9" fill="#0010ff"/>
<rect x="409" y="458" width="7" height="9" fill="#0000c8"/>
<rect x="416" y="458" width="7" height="9" fill="#0010ff"/>
<rect x="423" y="458" width="7" height="9" fill="#0004e8"/>
<rect x="430" y="458" width="7" height="9" fill="#0000c8"/>
<rect x="437" y="458" width="7" height="9" fill="#0000d4"/>
<rect x="444" y="458" width="7" height="9" fill="#0000ec"/>
<rect x="451" y="458" width="7" height="9" fill="#0000d4"/>
<rect x="458" y="458" width="7" height="9" fill="#0000e0"/>
<rect x="465" y="458" width="7" height="9" fill="#0010ff"/>
<rect x="472" y="458" width="7" height="9" fill="#0000e0"/>
<rect x="479" y="458" width="7" height="9" fill="#0000e0"/>
<rect x="486" y="458" width="7" height="9" fill="#0000ec"/>
<rect x="493" y="458" width="7" height="9" fill="#0000e0"/>
<rect x="500" y="458" width="7" height="9" fill="#0004e8"/>
<rect x="507" y="458" width="7" height="9" fill="#0000e0"/>
<rect x="514" y="458" width="7" height="9" fill="#0004e8"/>
<rect x="521" y="458" width="7" height="9" fill="#0010ff"/>
<rect x="528" y="458" width="7" height="9" fill="#0000d4"/>
<rect x="535" y="458" width="7" height="9" fill="#0000e0"/>
<rect x="542" y="458" width="7" height="9" fill="#0010ff"/>
<rect x="549" y="458" width="7" height="9" fill="#0010ff"/>
<rect x="556" y="458" width="7" height="9" fill="#0010ff"/>
<rect x="563" y="458" width="7" height="9" fill="#0000d4"/>
<rect x="570" y="458" width="7" height="9" fill="#0008f4"/>
<rect x="577" y="458" width="7" height="9" fill="#0000e0"/>
<rect x="584" y="458" width="7" height="9" fill="#0000d4"/>
<rect x="591" y="458" width="7" height="9" fill="#0008f4"/>
<rect x="598" y="458" width="7" height="9" fill="#0010ff"/>
<rect x="136" y="467" width="7" height="9" fill="#0000e0"/>
<rect x="143" y="467" width="7" height="9" fill="#0000e0"/>
<rect x="150" y="467" width="7" height="9" fill="#0008f4"/>
<rect x="157" y="467" width="7" height="9" fill="#0000ec"/>
<rect x="164" y="467" width="7" height="9" fill="#0000ec"/>
<rect x="171" y="467" width="7" height="9" fill="#0000e0"/>
<rect x="178" y="467" width="7" height="9" fill="#0000e0"/>
<rect x="185" y="467" width="7" height="9" fill="#0000c8"/>
<rect x="192" y="467" width="7" height="9" fill="#0000d4"/>
<rect x="199" y="467" width="7" height="9" fill="#0010ff"/>
<rect x="206" y="467" width="7" height="9" fill="#0000c8"/>
<rect x="213" y="467" width="7" height="9" fill="#0000e0"/>
<rect x="220" y="467" width="7" height="9" fill="#0000c8"/>
<rect x="227" y="467" width="7" height="9" fill="#0000c8"/>
<rect x="234" y="467" width="7" height="9" fill="#0008f4"/>
<rect x="241" y="467" width="7" height="9" fill="#0000c8"/>
<rect x="248" y="467" width="7" height="9" fill="#0008f4"/>
<rect x="255" y="467" width="7" height="9" fill="#0000e0"/>
<rect x="262" y="467" width="7" height="9" fill="#0000d4"/>
<rect x="269" y="467" width="7" height="9" fill="#0000c8"/>
<rect x="276" y="467" width="7" height="9" fill="#0000c8"/>
<rect x="283" y="467" width="7" height="9" fill="#0000ec"/>
<rect x="290" y="467" width="7" height="9" fill="#0000e0"/>
<rect x="297" y="467" width="7" height="9" fill="#0004e8"/>
<rect x="304" y="467" width="7" height="9" fill="#0008f4"/>
<rect x="311" y="467" width="7" height="9" fill="#0000e0"/>
<rect x="318" y="467" width="7" height="9" fill="#0000ec"/>
<rect x="325" y="467" width="7" height="9" fill="#0000e0"/>
<rect x="332" y="467" width="7" height="9" fill="#0000d4"/>
<rect x="339" y="467" width="7" height="9" fill="#0000e0"/>
<rect x="346" y="467" width="7" height="9" fill="#0000e0"/>
<rect x="353" y="467" width="7" height="9" fill="#0000d4"/>
<rect x="360" y="467" width="7" height="9" fill="#0000c8"/>
<rect x="367" y="467" width="7" height="9" fill="#0000d4"/>
<rect x="374" y="467" width="7" height="9" fill="#0000d4"/>
<rect x="381" y="467" width="7" height="9" fill="#0000e0"/>
<rect x="388" y="467" width="7" height="9" fill="#0004e8"/>
<rect x="395" y="467" width="7" height="9" fill="#0004e8"/>
<rect x="402" y="467" width="7" height="9" fill="#0000e0"/>
<rect x="409" y="467" width="7" height="9" fill="#0000c8"/>
<rect x="416" y="467" width="7" height="9" fill="#0000c8"/>
<rect x="423" y="467" width="7" height="9" fill="#0010ff"/>
<rect x="430" y="467" width="7" height="9" fill="#0000e0"/>
<rect x="437" y="467" width="7" height="9" fill="#0000ec"/>
<rect x="444" y="467" width="7" height="9" fill="#0010ff"/>
<rect x="451" y="467" width="7" height="9" fill="#0008f4"/>
<rect x="458" y="467" width="7" height="9" fill="#0000e0"/>
<rect x="465" y="467" width="7" height="9" fill="#0000c8"/>
<rect x="472" y="467" width="7" height="9" fill="#0008f4"/>
<rect x="479" y="467" width="7" height="9" fill="#0000d4"/>
<rect x="486" y="467" width="7" height="9" fill="#0000d4"/>
<rect x="493" y="467" width="7" height="9" fill="#0010ff"/>
<rect x="500" y="467" width="7" height="9" fill="#0000ec"/>
<rect x="507" y="467" width="7" height="9" fill="#0004e8"/>
<rect x="514" y="467" width="7" height="9" fill="#0000e0"/>
<rect x="521" y="467" width="7" height="9" fill="#0000c8"/>
<rect x="528" y="467" width="7" height="9" fill="#0000c8"/>
<rect x="535" y="467" width="7" height="9" fill="#0000ec"/>
<rect x="542" y="467" width="7" height="9" fill="#0000e0"/>
<rect x="549" y="467" width="7" height="9" fill="#0000c8"/>
<rect x="556" y="467" width="7" height="9" fill="#0004e8"/>
<rect x="563" y="467" width="7" height="9" fill="#0000c8"/>
<rect x="570" y="467" width="7" height="9" fill="#0000ec"/>
<rect x="577" y="467" width="7" height="9" fill="#0000ec"/>
<rect x="584" y="467" width="7" height="9" fill="#0000ec"/>
<rect x="591" y="467" width="7" height="9" fill="#0000c8"/>
<rect x="598" y="467" width="7" height="9" fill="#0000e0"/>
<rect x="136" y="476" width="7" height="9" fill="#0000e0"/>
<rect x="143" y="476" width="7" height="9" fill="#0010ff"/>
<rect x="150" y="476" width="7" height="9" fill="#0000c8"/>
<rect x="157" y="476" width="7" height="9" fill="#0004e8"/>
<rect x="164" y="476" width="7" height="9" fill="#0008f4"/>
<rect x="171" y="476" width="7" height="9" fill="#0000e0"/>
<rect x="178" y="476" width="7" height="9" fill="#0008f4"/>
<rect x="185" y="476" width="7" height="9" fill="#0004e8"/>
<rect x="192" y="476" width="7" height="9" fill="#0000d4"/>
<rect x="199" y="476" width="7" height="9" fill="#0000ec"/>
<rect x="206" y="476" width="7" height="9" fill="#0000e0"/>
<rect x="213" y="476" width="7" height="9" fill="#0000ec"/>
<rect x="220" y="476" width="7" height="9" fill="#0000e0"/>
<rect x="227" y="476" width="7" height="9" fill="#0008f4"/>
<rect x="234" y="476" width="7" height="9" fill="#0000e0"/>
<rect x="241" y="476" width="7" height="9" fill="#0004e8"/>
<rect x="248" y="476" width="7" height="9" fill="#0000c8"/>
<rect x="255" y="476" width="7" height="9" fill="#0000ec"/>
<rect x="262" y="476" width="7" height="9" fill="#0000d4"/>
<rect x="269" y="476" width="7" height="9" fill="#0000e0"/>
<rect x="276" y="476" width="7" height="9" fill="#0000e0"/>
<rect x="283" y="476" width="7" height="9" fill="#0010ff"/>
<rect x="290" y="476" width="7" height="9" fill="#0000e0"/>
<rect x="297" y="476" width="7" height="9" fill="#0000e0"/>
<rect x="304" y="476" width="7" height="9" fill="#0000c8"/>
<rect x="311" y="476" width="7" height="9" fill="#0008f4"/>
<rect x="318" y="476" width="7" height="9" fill="#0000e0"/>
<rect x="325" y="476" width="7" height="9" fill="#0010ff"/>
<rect x="332" y="476" width="7" height="9" fill="#0000d4"/>
<rect x="339" y="476" width="7" height="9" fill="#0010ff"/>
<rect x="346" y="476" width="7" height="9" fill="#0000e0"/>
<rect x="353" y="476" width="7" height="9" fill="#0010ff"/>
<rect x="360" y="476" width="7" height="9" fill="#0000e0"/>
<rect x="367" y="476" width="7" height="9" fill="#0000d4"/>
<rect x="374" y="476" width="7" height="9" fill="#0000d4"/>
<rect x="381" y="476" width="7" height="9" fill="#0000e0"/>
<rect x="388" y="476" width="7" height="9" fill="#0010ff"/>
<rect x="395" y="476" width="7" height="9" fill="#0000ec"/>
<rect x="402" y="476" width="7" height="9" fill="#0000e0"/>
<rect x="409" y="476" width="7" height="9" fill="#0000ec"/>
<rect x="416" y="476" width="7" height="9" fill="#0004e8"/>
<rect x="423" y="476" width="7" height="9" fill="#0008f4"/>
<rect x="430" y="476" width="7" height="9" fill="#0010ff"/>
<rect x="437" y="476" width="7" height="9" fill="#0000ec"/>
<rect x="444" y="476" width="7" height="9" fill="#0000e0"/>
<rect x="451" y="476" width="7" height="9" fill="#0000c8"/>
<rect x="458" y="476" width="7" height="9" fill="#0008f4"/>
<rect x="465" y="476" width="7" height="9" fill="#0000c8"/>
<rect x="472" y="476" width="7" height="9" fill="#0010ff"/>
<rect x="479" y="476" width="7" height="9" fill="#0000e0"/>
<rect x="486" y="476" width="7" height="9" fill="#0000ec"/>
<rect x="493" y="476" width="7" height="9" fill="#0000e0"/>
<rect x="500" y="476" width="7" height="9" fill="#0000d4"/>
<rect x="507" y="476" width="7" height="9" fill="#0000ec"/>
<rect x="514" y="476" width="7" height="9" fill="#0008f4"/>
<rect x="521" y="476" width="7" height="9" fill="#0000e0"/>
<rect x="528" y="476" width="7" height="9" fill="#0004e8"/>
<rect x="535" y="476" width="7" height="9" fill="#0004e8"/>
<rect x="542" y="476" width="7" height="9" fill="#0000ec"/>
<rect x="549" y="476" width="7" height="9" fill="#0000e0"/>
<rect x="556" y="476" width="7" height="9" fill="#0010ff"/>
<rect x="563" y="476" width="7" height="9" fill="#0010ff"/>
<rect x="570" y="476" width="7" height="9" fill="#0000ec"/>
<rect x="577" y="476" width="7" height="9" fill="#0000e0"/>
<rect x="584" y="476" width="7" height="9" fill="#0000e0"/>
<rect x="591" y="476" width="7" height="9" fill="#0000ec"/>
<rect x="598" y="476" width="7" height="9" fill="#0008f4"/>
<rect x="136" y="485" width="7" height="9" fill="#0004e8"/>
<rect x="143" y="485" width="7" height="9" fill="#0000ec"/>
<rect x="150" y="485" width="7" height="9" fill="#0000ec"/>
<rect x="157" y="485" width="7" height="9" fill="#0004e8"/>
<rect x="164" y="485" width="7" height="9" fill="#0000e0"/>
<rect x="171" y="485" width="7" height="9" fill="#0008f4"/>
<rect x="178" y="485" width="7" height="9" fill="#0004e8"/>
<rect x="185" y="485" width="7" height="9" fill="#0010ff"/>
<rect x="192" y="485" width="7" height="9" fill="#0000ec"/>
<rect x="199" y="485" width="7" height="9" fill="#0000e0"/>
<rect x="206" y="485" width="7" height="9" fill="#0000ec"/>
<rect x="213" y="485" width="7" height="9" fill="#0000e0"/>
<rect x="220" y="485" width="7" height="9" fill="#0000d4"/>
<rect x="227" y="485" width="7" height="9" fill="#0000d4"/>
<rect x="234" y="485" width="7" height="9" fill="#0008f4"/>
<rect x="241" y="485" width="7" height="9" fill="#0000e0"/>
<rect x="248" y="485" width="7" height="9" fill="#0000c8"/>
<rect x="255" y="485" width="7" height="9" fill="#0000e0"/>
<rect x="262" y="485" width="7" height="9" fill="#0008f4"/>
<rect x="269" y="485" width="7" height="9" fill="#0000c8"/>
<rect x="276" y="485" width="7" height="9" fill="#0000e0"/>
<rect x="283" y="485" width="7" height="9" fill="#0000d4"/>
<rect x="290" y="485" width="7" height="9" fill="#0000e0"/>
<rect x="297" y="485" width="7" height="9" fill="#0000ec"/>
<rect x="304" y="485" width="7" height="9" fill="#0010ff"/>
<rect x="311" y="485" width="7" height="9" fill="#0000ec"/>
<rect x="318" y="485" width="7" height="9" fill="#0000d4"/>
<rect x="325" y="485" width="7" height="9" fill="#0000d4"/>
<rect x="332" y="485" width="7" height="9" fill="#0010ff"/>
<rect x="339" y="485" width="7" height="9" fill="#0008f4"/>
<rect x="346" y="485" width="7" height="9" fill="#0000ec"/>
<rect x="353" y="485" width="7" height="9" fill="#0000d4"/>
<rect x="360" y="485" width="7" height="9" fill="#0008f4"/>
<rect x="367" y="485" width="7" height="9" fill="#0000d4"/>
<rect x="374" y="485" width="7" height="9" fill="#0000ec"/>
<rect x="381" y="485" width="7" height="9" fill="#0008f4"/>
<rect x="388" y="485" width="7" height="9" fill="#0000e0"/>
<rect x="395" y="485" width="7" height="9" fill="#0000e0"/>
<rect x="402" y="485" width="7" height="9" fill="#0008f4"/>
<rect x="409" y="485" width="7" height="9" fill="#0010ff"/>
<rect x="416" y="485" width="7" height="9" fill="#0000e0"/>
<rect x="423" y="485" width="7" height="9" fill="#0004e8"/>
<rect x="430" y="485" width="7" height="9" fill="#0000e0"/>
<rect x="437" y="485" width="7" height="9" fill="#0008f4"/>
<rect x="444" y="485" width="7" height="9" fill="#0000e0"/>
<rect x="451" y="485" width="7" height="9" fill="#0000c8"/>
<rect x="458" y="485" width="7" height="9" fill="#0010ff"/>
<rect x="465" y="485" width="7" height="9" fill="#0010ff"/>
<rect x="472" y="485" width="7" height="9" fill="#0000e0"/>
<rect x="479" y="485" width="7" height="9" fill="#0000c8"/>
<rect x="486" y="485" width="7" height="9" fill="#0004e8"/>
<rect x="493" y="485" width="7" height="9" fill="#0000ec"/>
<rect x="500" y="485" width="7" height="9" fill="#0000e0"/>
<rect x="507" y="485" width="7" height="9" fill="#0010ff"/>
<rect x="514" y="485" width="7" height="9" fill="#0000d4"/>
<rect x="521" y="485" width="7" height="9" fill="#0000e0"/>
<rect x="528" y="485" width="7" height="9" fill="#0008f4"/>
<rect x="535" y="485" width="7" height="9" fill="#0000d4"/>
<rect x="542" y="485" width="7" height="9" fill="#0008f4"/>
<rect x="549" y="485" width="7" height="9" fill="#0000ec"/>
<rect x="556" y="485" width="7" height="9" fill="#0000c8"/>
<rect x="563" y="485" width="7" height="9" fill="#0000e0"/>
<rect x="570" y="485" width="7" height="9" fill="#0000c8"/>
<rect x="577" y="485" width="7" height="9" fill="#0000e0"/>
<rect x="584" y="485" width="7" height="9" fill="#0000e0"/>
<rect x="591" y="485" width="7" height="9" fill="#0000ec"/>
<rect x="598" y="485" width="7" height="9" fill="#0008f4"/>
<rect x="136" y="494" width="7" height="9" fill="#0000e0"/>
<rect x="143" y="494" width="7" height="9" fill="#0000e0"/>
<rect x="150" y="494" width="7" height="9" fill="#0000c8"/>
<rect x="157" y="494" width="7" height="9" fill="#0008f4"/>
<rect x="164" y="494" width="7" height="9" fill="#0000e0"/>
<rect x="171" y="494" width="7" height="9" fill="#0000ec"/>
<rect x="178" y="494" width="7" height="9" fill="#0004e8"/>
<rect x="185" y="494" width="7" height="9" fill="#0008f4"/>
<rect x="192" y="494" width="7" height="9" fill="#0000e0"/>
<rect x="199" y="494" width="7" height="9" fill="#0010ff"/>
<rect x="206" y="494" width="7" height="9" fill="#0000c8"/>
<rect x="213" y="494" width="7" height="9" fill="#0000d4"/>
<rect x="220" y="494" width="7" height="9" fill="#0008f4"/>
<rect x="227" y="494" width="7" height="9" fill="#0000c8"/>
<rect x="234" y="494" width="7" height="9" fill="#0000c8"/>
<rect x="241" y="494" width="7" height="9" fill="#0000ec"/>
<rect x="248" y="494" width="7" height="9" fill="#0000d4"/>
<rect x="255" y="494" width="7" height="9" fill="#0000c8"/>
<rect x="262" y="494" width="7" height="9" fill="#0010ff"/>
<rect x="269" y="494" width="7" height="9" fill="#0000ec"/>
<rect x="276" y="494" width="7" height="9" fill="#0010ff"/>
<rect x="283" y="494" width="7" height="9" fill="#0000d4"/>
<rect x="290" y="494" width="7" height="9" fill="#0000e0"/>
<rect x="297" y="494" width="7" height="9" fill="#0000e0"/>
<rect x="304" y="494" width="7" height="9" fill="#0000ec"/>
<rect x="311" y="494" width="7" height="9" fill="#0008f4"/>
<rect x="318" y="494" width="7" height="9" fill="#0000d4"/>
<rect x="325" y="494" width="7" height="9" fill="#0010ff"/>
<rect x="332" y="494" width="7" height="9" fill="#0000e0"/>
<rect x="339" y="494" width="7" height="9" fill="#0004e8"/>
<rect x="346" y="494" width="7" height="9" fill="#0010ff"/>
<rect x="353" y="494" width="7" height="9" fill="#0004e8"/>
<rect x="360" y="494" width="7" height="9" fill="#0000c8"/>
<rect x="367" y="494" width="7" height="9" fill="#0000ec"/>
<rect x="374" y="494" width="7" height="9" fill="#0000e0"/>
<rect x="381" y="494" width="7" height="9" fill="#0000e0"/>
<rect x="388" y="494" width="7" height="9" fill="#0004e8"/>
<rect x="395" y="494" width="7" height="9" fill="#0000ec"/>
<rect x="402" y="494" width="7" height="9" fill="#0000c8"/>
<rect x="409" y="494" width="7" height="9" fill="#0008f4"/>
<rect x="416" y="494" width="7" height="9" fill="#0000e0"/>
<rect x="423" y="494" width="7" height="9" fill="#0000e0"/>
<rect x="430" y="494" width="7" height="9" fill="#0000ec"/>
<rect x="437" y="494" width="7" height="9" fill="#0008f4"/>
<rect x="444" y="494" width="7" height="9" fill="#0000ec"/>
<rect x="451" y="494" width="7" height="9" fill="#0000c8"/>
<rect x="458" y="494" width="7" height="9" fill="#0000e0"/>
<rect x="465" y="494" width="7" height="9" fill="#0010ff"/>
<rect x="472" y="494" width="7" height="9" fill="#0010ff"/>
<rect x="479" y="494" width="7" height="9" fill="#0000e0"/>
<rect x="486" y="494" width="7" height="9" fill="#0000d4"/>
<rect x="493" y="494" width="7" height="9" fill="#0000ec"/>
<rect x="500" y="494" width="7" height="9" fill="#0008f4"/>
<rect x="507" y="494" width="7" height="9" fill="#0000e0"/>
<rect x="514" y="494" width="7" height="9" fill="#0000e0"/>
<rect x="521" y="494" width="7" height="9" fill="#0004e8"/>
<rect x="528" y="494" width="7" height="9" fill="#0004e8"/>
<rect x="535" y="494" width="7" height="9" fill="#0000ec"/>
<rect x="542" y="494" width="7" height="9" fill="#0000ec"/>
<rect x="549" y="494" width="7" height="9" fill="#0000c8"/>
<rect x="556" y="494" width="7" height="9" fill="#0004e8"/>
<rect x="563" y="494" width="7" height="9" fill="#0000e0"/>
<rect x="570" y="494" width="7" height="9" fill="#0010ff"/>
<rect x="577" y="494" width="7" height="9" fill="#0008f4"/>
<rect x="584" y="494" width="7" height="9" fill="#0000e0"/>
<rect x="591" y="494" width="7" height="9" fill="#0000e0"/>
<rect x="598" y="494" width="7" height="9" fill="#0000ec"/>
<rect x="136" y="503" width="7" height="9" fill="#0010ff"/>
<rect x="143" y="503" width="7" height="9" fill="#0000d4"/>
<rect x="150" y="503" width="7" height="9" fill="#0000e0"/>
<rect x="157" y="503" width="7" height="9" fill="#0000e0"/>
<rect x="164" y="503" width="7" height="9" fill="#0000e0"/>
<rect x="171" y="503" width="7" height="9" fill="#0004e8"/>
<rect x="178" y="503" width="7" height="9" fill="#0000e0"/>
<rect x="185" y="503" width="7" height="9" fill="#0000ec"/>
<rect x="192" y="503" width="7" height="9" fill="#0000d4"/>
<rect x="199" y="503" width="7" height="9" fill="#0008f4"/>
<rect x="206" y="503" width="7" height="9" fill="#0000c8"/>
<rect x="213" y="503" width="7" height="9" fill="#0010ff"/>
<rect x="220" y="503" width="7" height="9" fill="#0004e8"/>
<rect x="227" y="503" width="7" height="9" fill="#0000ec"/>
<rect x="234" y="503" width="7" height="9" fill="#0000c8"/>
<rect x="241" y="503" width="7" height="9" fill="#0000c8"/>
<rect x="248" y="503" width="7" height="9" fill="#0008f4"/>
<rect x="255" y="503" width="7" height="9" fill="#0008f4"/>
<rect x="262" y="503" width="7" height="9" fill="#0000ec"/>
<rect x="269" y="503" width="7" height="9" fill="#0000d4"/>
<rect x="276" y="503" width="7" height="9" fill="#0008f4"/>
<rect x="283" y="503" width="7" height="9" fill="#0004e8"/>
<rect x="290" y="503" width="7" height="9" fill="#0000d4"/>
<rect x="297" y="503" width="7" height="9" fill="#0000e0"/>
<rect x="304" y="503" width="7" height="9" fill="#0010ff"/>
<rect x="311" y="503" width="7" height="9" fill="#0004e8"/>
<rect x="318" y="503" width="7" height="9" fill="#0004e8"/>
<rect x="325" y="503" width="7" height="9" fill="#0010ff"/>
<rect x="332" y="503" width="7" height="9" fill="#0008f4"/>
<rect x="339" y="503" width="7" height="9" fill="#0000e0"/>
<rect x="346" y="503" width="7" height="9" fill="#0000d4"/>
<rect x="353" y="503" width="7" height="9" fill="#0000c8"/>
<rect x="360" y="503" width="7" height="9" fill="#0000c8"/>
<rect x="367" y="503" width="7" height="9" fill="#0004e8"/>
<rect x="374" y="503" width="7" height="9" fill="#0004e8"/>
<rect x="381" y="503" width="7" height="9" fill="#0000d4"/>
<rect x="388" y="503" width="7" height="9" fill="#0010ff"/>
<rect x="395" y="503" width="7" height="9" fill="#0008f4"/>
<rect x="402" y="503" width="7" height="9" fill="#0000d4"/>
<rect x="409" y="503" width="7" height="9" fill="#0004e8"/>
<rect x="416" y="503" width="7" height="9" fill="#0000e0"/>
<rect x="423" y="503" width="7" height="9" fill="#0004e8"/>
<rect x="430" y="503" width="7" height="9" fill="#0000ec"/>
<rect x="437" y="503" width="7" height="9" fill="#0010ff"/>
<rect x="444" y="503" width="7" height="9" fill="#0000c8"/>
<rect x="451" y="503" width="7" height="9" fill="#0010ff"/>
<rect x="458" y="503" width="7" height="9" fill="#0000d4"/>
<rect x="465" y="503" width="7" height="9" fill="#0008f4"/>
<rect x="472" y="503" width="7" height="9" fill="#0008f4"/>
<rect x="479" y="503" width="7" height="9" fill="#0000ec"/>
<rect x="486" y="503" width="7" height="9" fill="#0000d4"/>
<rect x="493" y="503" width="7" height="9" fill="#0000e0"/>
<rect x="500" y="503" width="7" height="9" fill="#0000c8"/>
<rect x="507" y="503" width="7" height="9" fill="#0000c8"/>
<rect x="514" y="503" width="7" height="9" fill="#0000e0"/>
<rect x="521" y="503" width="7" height="9" fill="#0000e0"/>
<rect x="528" y="503" width="7" height="9" fill="#0008f4"/>
<rect x="535" y="503" width="7" height="9" fill="#0010ff"/>
<rect x="542" y="503" width="7" height="9" fill="#0000e0"/>
<rect x="549" y="503" width="7" height="9" fill="#0000e0"/>
<rect x="556" y="503" width="7" height="9" fill="#0000d4"/>
<rect x="563" y="503" width="7" height="9" fill="#0008f4"/>
<rect x="570" y="503" width="7" height="9" fill="#0010ff"/>
<rect x="577" y="503" width="7" height="9" fill="#0000e0"/>
<rect x="584" y="503" width="7" height="9" fill="#0000e0"/>
<rect x="591" y="503" width="7" height="9" fill="#0010ff"/>
<rect x="598" y="503" width="7" height="9" fill="#0010ff"/>
</g>
<g>
<rect x="506" y="306" width="13" height="20" fill="#0000c8"/>
<rect x="546" y="312" width="13" height="21" fill="#0000b8"/>
<rect x="568" y="320" width="13" height="20" fill="#0000b8"/>
<rect x="584" y="330" width="13" height="20" fill="#0000b0"/>
<rect x="568" y="346" width="13" height="24" fill="#0000b8"/>
<rect x="583" y="413" width="14" height="21" fill="#0000c8"/>
<rect x="497" y="399" width="13" height="20" fill="#0000a8"/>
<rect x="548" y="363" width="13" height="20" fill="#0000c0"/>
<rect x="535" y="382" width="13" height="18" fill="#0000c0"/>
<rect x="530" y="373" width="13" height="16" fill="#0000d0"/>
<rect x="533" y="353" width="13" height="20" fill="#0000c0"/>
<rect x="474" y="283" width="20" height="29" fill="#0000b8"/>
<rect x="475" y="312" width="13" height="22" fill="#0000c0"/>
<rect x="524" y="323" width="14" height="37" fill="#0000b8"/>
<rect x="285" y="203" width="13" height="20" fill="#0000b8"/>
<rect x="274" y="253" width="13" height="19" fill="#0000b8"/>
<rect x="437" y="199" width="13" height="20" fill="#0000b0"/>
<rect x="158" y="176" width="32" height="21" fill="#0000d0"/>
<rect x="140" y="196" width="19" height="38" fill="#0000d0"/>
<rect x="179" y="239" width="24" height="22" fill="#0000c0"/>
<rect x="387" y="233" width="48" height="37" fill="#0000c8"/>
<rect x="440" y="280" width="14" height="33" fill="#0000c0"/>
<rect x="468" y="246" width="13" height="20" fill="#0000b8"/>
<rect x="459" y="253" width="13" height="20" fill="#0000d8"/>
<rect x="455" y="276" width="13" height="14" fill="#0000c8"/>
<rect x="445" y="229" width="9" height="23" fill="#0000c0"/>
<rect x="425" y="236" width="11" height="17" fill="#0000c8"/>
</g><g filter="url(#bl)">
<rect x="167" y="296" width="13" height="20" fill="#c8ff30"/>
<rect x="167" y="289" width="13" height="8" fill="#40f0ff"/>
<rect x="265" y="270" width="13" height="10" fill="#80ff70"/>
<rect x="265" y="280" width="13" height="6" fill="#20a0ff"/>
<rect x="254" y="239" width="13" height="21" fill="#00a8ff"/>
<rect x="147" y="237" width="14" height="19" fill="#0060ff"/>
<rect x="361" y="203" width="13" height="29" fill="#0040ff"/>
<rect x="361" y="215" width="13" height="9" fill="#00a8ff"/>
<rect x="164" y="254" width="16" height="21" fill="#0060ff"/>
<rect x="166" y="258" width="12" height="15" fill="#0070ff"/>
<rect x="168" y="261" width="7" height="8" fill="#30d0ff"/>
<rect x="215" y="216" width="11" height="20" fill="#0060ff"/>
<rect x="218" y="221" width="5" height="7" fill="#00a0ff"/>
<rect x="238" y="286" width="18" height="18" fill="#0070ff"/>
<rect x="243" y="289" width="7" height="10" fill="#30e0ff"/>
<rect x="183" y="299" width="9" height="14" fill="#0060ff"/>
<rect x="330" y="293" width="22" height="17" fill="#0040ff"/>
<rect x="359" y="299" width="17" height="20" fill="#0040ff"/>
<rect x="319" y="381" width="11" height="15" fill="#0040ff"/>
<rect x="261" y="419" width="12" height="17" fill="#0040ff"/>
<rect x="359" y="427" width="17" height="23" fill="#0060ff"/>
<rect x="361" y="429" width="9" height="9" fill="#30d0e0"/>
<rect x="236" y="376" width="5" height="11" fill="#0040ff"/>
<rect x="396" y="269" width="11" height="18" fill="#0070ff"/>
<rect x="454" y="290" width="14" height="16" fill="#0040ff"/>
<rect x="236" y="336" width="37" height="25" fill="#0020f8"/>
<rect x="253" y="336" width="6" height="11" fill="#00a0ff"/>
<rect x="296" y="236" width="6" height="14" fill="#0060ff"/>
<rect x="510" y="347" width="13" height="16" fill="#0018ff"/>
<rect x="190" y="188" width="31" height="28" fill="#0010f4"/>
<rect x="174" y="216" width="16" height="9" fill="#0020ff"/>
<rect x="214" y="212" width="18" height="24" fill="#0050ff"/>
<rect x="218" y="220" width="8" height="10" fill="#0080ff"/>
<rect x="291" y="233" width="24" height="19" fill="#0028ff"/>
<rect x="292" y="233" width="5" height="10" fill="#0060ff"/>
<rect x="280" y="280" width="10" height="12" fill="#0040ff"/>
<rect x="332" y="289" width="16" height="23" fill="#0040ff"/>
<rect x="342" y="302" width="5" height="5" fill="#0080ff"/>
<rect x="361" y="301" width="10" height="13" fill="#0060ff"/>
<rect x="394" y="270" width="14" height="19" fill="#0060ff"/>
</g>
</g>
<g fill="none" stroke="#1a80c4" stroke-width="1.15" stroke-linejoin="round">
<path d="M156.6 49.1 L162.3 51.9 L161.1 57.6 L162.3 62.1 L165.7 64.4 L168.0 72.4 L169.8 86.1 L168.0 95.3 L166.9 101.0 L171.4 104.9 L176.0 106.0 L178.3 104.4 L182.9 99.9 L189.7 94.1 L190.9 90.3 L194.3 91.9 L197.7 99.9 L200.0 113.6 L202.3 129.6 L206.9 145.6 L205.7 157.0 L207.5 166.1 L205.3 175.3 L204.6 185.0 L203.0 196.4 L204.6 205.6 L213.7 213.6 L218.3 225.0 L221.7 239.9 L225.1 253.6 L229.7 266.1 L235.4 276.4 L244.6 286.7 L252.6 292.4 L255.5 297.0 L254.9 285.6 L251.4 271.9 L249.1 258.1 L246.9 245.6 L240.0 234.1 L234.3 228.4 L227.4 225.0 L222.9 214.7 L219.4 205.6 L213.7 195.3 L210.3 185.0 L210.7 179.9 L213.7 166.1 L217.1 154.7 L217.8 141.0 L219.4 136.9 L222.9 136.4 L226.3 138.7 L226.7 145.6 L233.1 146.7 L241.1 154.7 L246.9 168.4 L252.6 174.1 L257.1 176.4 L262.9 182.1 L261.5 188.0 L262.5 199.5 L266.3 195.0 L268.6 191.3 L277.7 185.6 L277.7 177.1 L283.4 176.4 L298.3 163.9 L300.6 147.9 L300.6 127.3 L297.1 111.3 L288.0 97.6 L274.3 79.3 L268.6 66.7 L267.9 61.0 L271.5 49.1"/>
<path d="M307.4 49.1 L315.4 48.4 L316.6 53.0 L312.0 63.3 L308.6 69.0 L302.9 72.4 L297.1 69.7 L295.3 61.0 L298.3 55.3 L307.4 49.1"/>
<path d="M402.5 68.3 L406.0 67.6 L408.7 69.7 L412.8 72.2 L417.3 69.4 L415.6 75.9 L416.0 83.4 L418.7 88.2 L417.6 94.4 L414.2 101.2 L410.1 106.0 L409.4 113.6 L411.4 124.6 L414.2 129.4 L418.3 127.3 L421.7 126.6 L431.3 132.5 L433.1 144.2 L429.0 143.5 L424.9 137.3 L420.0 133.2 L419.4 140.1 L417.3 133.2 L412.5 130.5 L407.0 134.6 L402.2 130.5 L402.9 125.0 L401.2 123.2 L397.0 119.1 L396.4 108.1 L395.0 99.2 L399.8 100.6 L401.2 87.5 L399.8 81.4 L400.5 75.2 L402.5 68.3"/>
<path d="M400.9 137.3 L405.7 136.0 L410.5 140.1 L410.5 149.0 L407.0 153.1 L402.9 144.2 L400.9 137.3"/>
<path d="M435.8 149.7 L444.1 149.0 L446.8 167.5 L441.3 168.9 L442.7 178.5 L439.3 180.6 L437.9 168.9 L435.8 164.8 L440.6 159.3 L435.8 149.7"/>
<path d="M413.9 158.6 L418.0 157.9 L420.1 162.0 L424.2 162.0 L427.6 173.0 L431.7 168.9 L433.1 179.9 L437.2 182.6 L436.5 188.1 L430.4 184.0 L426.2 188.1 L424.9 195.6 L420.8 192.2 L418.7 185.4 L421.4 177.8 L414.6 175.8 L413.9 158.6"/>
<path d="M391.9 166.2 L394.0 175.8 L386.5 185.4 L378.2 199.1 L372.7 203.2 L372.0 200.3 L382.3 186.7 L387.8 178.5 L391.9 166.2"/>
<path d="M414.6 223.9 L414.0 215.4 L415.9 209.3 L421.3 205.0 L426.8 200.1 L431.1 202.6 L431.7 207.4 L435.4 203.2 L439.6 196.5 L443.9 195.9 L445.1 186.1 L450.0 191.0 L453.7 199.5 L453.7 210.5 L455.5 216.0 L452.4 228.8 L450.0 220.2 L446.3 220.2 L444.5 226.3 L447.0 236.1 L445.1 241.0 L440.2 237.3 L435.4 234.9 L432.9 228.8 L432.3 220.2 L429.3 212.9 L424.4 215.4 L422.0 212.9 L418.3 215.4 L415.9 220.2 L414.6 223.9"/>
<path d="M367.9 221.9 L361.7 230.1 L355.5 244.5 L349.4 251.7 L344.4 255.0 L339.5 262.9 L335.5 271.8 L329.6 276.3 L321.6 278.3 L319.6 283.7 L317.2 295.1 L312.7 294.6 L306.8 292.7 L303.8 290.2 L299.8 292.7 L297.8 300.6 L298.3 310.5 L300.8 320.0 L306.7 326.5 L308.8 340.9 L310.9 354.2 L323.2 355.3 L324.2 362.5 L335.5 358.3 L341.7 361.4 L349.9 370.7 L358.2 365.5 L364.3 357.3 L364.3 340.9 L370.5 328.5 L374.6 314.1 L376.1 311.4 L386.4 303.1 L382.3 297.0 L377.1 288.7 L379.2 285.7 L376.1 280.5 L375.1 266.1 L377.1 258.9 L381.3 257.9 L382.3 251.7 L388.5 247.6 L377.1 236.3 L376.1 230.1 L367.9 221.9"/>
<path d="M403.8 298.7 L395.6 307.0 L394.6 321.6 L391.0 330.8 L386.4 353.6 L388.2 358.2 L393.7 363.7 L391.9 386.6 L392.8 391.2 L400.1 389.3 L399.2 357.3 L402.0 352.7 L405.6 353.6 L406.5 361.9 L410.2 369.2 L412.0 378.4 L416.6 380.2 L418.4 390.3 L422.1 391.2 L424.9 384.8 L422.1 372.9 L415.7 363.7 L418.4 361.0 L416.6 356.4 L411.1 349.1 L410.2 341.8 L414.8 338.1 L420.3 332.6 L427.6 327.1 L423.9 324.4 L416.6 328.9 L407.5 331.7 L402.9 333.5 L402.9 329.9 L398.3 323.4 L397.4 312.5 L400.1 307.0 L411.1 306.1 L420.3 308.8 L429.4 311.5 L438.6 305.1 L443.2 296.0 L442.2 293.2 L436.8 300.6 L428.5 305.1 L416.6 302.4 L403.8 298.7"/>
<path d="M450.5 360.1 L453.2 358.2 L457.8 359.1 L460.0 361.9 L458.7 366.5 L454.1 365.5 L451.4 363.7 L450.5 360.1"/>
<path d="M177.1 239.9 L182.9 241.0 L188.6 245.6 L196.6 247.9 L203.4 255.9 L211.4 265.0 L219.4 274.1 L226.3 283.3 L233.1 290.1 L242.3 298.1 L250.4 314.6 L252.2 327.4 L258.6 336.6 L266.8 338.4 L271.4 336.6 L276.0 347.6 L277.8 354.9 L273.2 354.9 L272.3 362.2 L270.5 373.2 L270.5 386.0 L269.6 392.4 L270.5 393.3 L266.8 390.5 L259.5 391.5 L252.2 382.3 L243.0 371.3 L233.9 356.7 L228.4 345.7 L223.8 331.1 L219.3 318.3 L212.9 312.8 L208.3 300.0 L206.9 292.4 L201.1 281.0 L194.3 269.6 L185.1 260.4 L178.7 250.1 L177.1 239.9"/>
<path d="M268.7 395.1 L280.0 394.3 L288.2 398.5 L295.4 405.7 L312.9 407.7 L316.0 401.5 L329.4 408.7 L331.4 413.9 L343.8 418.0 L346.9 425.2 L346.9 431.4 L329.4 429.3 L312.9 422.1 L296.5 418.0 L280.0 414.9 L267.7 404.3 L268.7 395.1"/>
<path d="M332.5 410.8 L341.7 408.7 L339.7 411.8 L332.5 410.8"/>
<path d="M349.5 427.0 L355.0 426.0 L358.0 430.0 L352.0 432.0 L349.5 427.0"/>
<path d="M361.0 428.0 L366.0 427.0 L367.0 432.0 L362.0 433.0 L361.0 428.0"/>
<path d="M374.6 426.0 L381.0 424.0 L389.0 427.0 L384.0 431.0 L378.0 433.0 L374.6 426.0"/>
<path d="M397.0 428.0 L404.0 425.0 L414.0 429.0 L424.0 425.0 L420.0 431.0 L408.0 433.0 L398.0 433.0 L397.0 428.0"/>
<path d="M428.9 452.6 L433.7 442.8 L445.1 433.0 L459.8 428.1 L458.2 433.0 L441.9 442.8 L428.9 452.6"/>
<path d="M465.8 288.1 L468.2 292.9 L473.1 296.5 L470.7 306.1 L465.8 309.7 L465.8 318.2 L470.7 327.8 L467.0 326.6 L463.4 313.4 L462.2 301.3 L464.6 294.1 L465.8 288.1"/>
<path d="M468.2 354.3 L476.7 353.1 L486.3 354.3 L491.1 359.1 L492.3 366.3 L486.3 362.7 L479.1 360.3 L469.5 360.3 L468.2 354.3"/>
<path d="M493.5 333.8 L497.1 326.6 L505.6 321.8 L512.8 325.4 L520.0 326.6 L521.2 331.4 L518.8 337.4 L523.6 342.3 L527.3 354.3 L532.1 361.5 L538.1 354.3 L541.7 347.1 L546.5 342.3 L551.3 337.4 L556.2 336.2 L568.2 342.3 L582.7 349.5 L590.0 354.3 L604.9 362.3 L612.9 366.9 L624.3 379.4 L626.6 388.6 L631.1 392.0 L638.0 395.4 L643.7 398.9 L644.9 405.7 L638.0 408.0 L639.1 413.7 L647.1 426.3 L651.7 436.6 L656.3 437.7 L658.6 444.6 L664.3 445.7"/>
<path d="M504.4 353.1 L512.8 354.3 L510.4 365.1 L514.0 368.7 L517.6 363.9 L524.8 368.7 L534.5 373.6 L551.3 383.2 L558.6 390.4 L561.0 404.9 L563.4 416.9 L554.3 426.5 L565.7 424.9 L575.4 423.3 L575.4 433.0 L590.0 437.7 L599.1 440.0 L603.7 435.4 L603.7 427.4 L612.9 417.1 L626.6 422.9 L635.7 436.6 L642.6 450.3 L654.0 453.7 L664.3 457.1"/>
<path d="M493.5 333.8 L500.0 345.0 L504.4 353.1"/>
<path d="M524.8 390.4 L527.3 395.2 L524.8 404.9 L522.0 407.3 L522.4 397.6 L524.8 390.4"/>
<path d="M664.3 389.7 L658.6 389.7 L648.3 390.9 L650.6 394.3 L656.3 397.7 L664.3 400.0"/>
<path d="M389.8 584.5 L402.8 579.6 L412.6 566.6 L417.5 558.4 L415.8 550.3 L424.0 537.3 L428.2 548.7 L432.1 540.5 L430.5 534.0 L437.0 532.4 L440.3 521.0 L443.5 512.8 L450.0 511.2 L458.2 503.1 L464.7 506.3 L469.6 517.7 L474.5 516.1 L482.6 519.3 L481.0 512.8 L485.9 499.8 L487.5 494.9 L494.0 481.9 L505.4 480.3 L507.0 470.5 L516.8 475.4 L533.1 480.3 L539.6 481.9 L542.9 479.3 L547.7 481.9 L544.5 494.9 L539.6 495.6 L538.0 514.5 L536.4 517.7 L542.9 527.5 L549.4 532.4 L562.4 542.1 L568.9 548.7 L575.4 553.6 L583.6 550.3 L588.5 532.4 L590.1 511.2 L590.5 490.0 L590.5 478.7 L593.5 474.6 L593.5 466.4 L596.5 461.4 L600.1 465.0 L600.3 473.3 L602.4 480.6 L605.6 488.3 L608.0 507.9 L614.5 509.6 L621.0 516.1 L622.7 530.7 L627.6 550.3 L630.8 566.6 L640.6 576.4 L645.5 582.9"/>
<path d="M487.5 470.5 L497.3 468.9 L498.9 473.7 L490.7 475.4 L487.5 470.5"/>
<path d="M194.3 297.0 L197.0 296.0 L200.0 304.0 L198.0 306.0 L194.3 297.0"/>
<path d="M180.6 278.0 L184.0 279.0 L185.0 283.0 L182.0 283.0 L180.6 278.0"/>
<path d="M206.5 329.0 L209.0 328.4 L212.9 338.0 L211.0 339.3 L206.5 329.0"/>
<path d="M154.3 141.0 L155.0 136.5 L156.6 136.0 L156.2 140.0 L154.3 141.0"/>
<path d="M151.5 161.6 L152.5 150.0 L154.5 145.6 L155.9 147.0 L154.0 157.0 L151.5 161.6"/>
<ellipse cx="488.7" cy="318.2" rx="3.5" ry="2" />
<ellipse cx="439.5" cy="341" rx="3.7" ry="1.8" />
<ellipse cx="636.8" cy="343.5" rx="3.5" ry="1.8" />
<path d="M462.2 338.6 L465.8 335 L469.5 338.6 Z"/>
<path d="M499.6 412.1 L497.1 421.7"/>
</g>
<path d="M128.0 214.4 L236.0 214.6 L250.0 217.0 L270.0 217.3 L282.0 219.0 L300.0 218.9 L315.0 219.2 L320.0 219.9 L395.0 219.9 L410.0 218.7 L425.0 218.7 L432.0 217.3 L456.0 217.3 L470.0 216.0 L486.0 215.3 L503.0 214.7 L519.0 213.2 L600.0 213.2 L607.0 213.8 L615.0 214.5 L631.0 214.8 L647.0 215.8 L664.0 217.3" fill="none" stroke="#000" stroke-width="2.3" stroke-dasharray="8.5 7.5"/>
<path d="M618 49.5 L622.6 80 L656.5 300 L664.3 341" fill="none" stroke="#ff0000" stroke-width="1.2"/>
<g stroke="#262626" stroke-width="1" fill="none">
<rect x="128.5" y="49.5" width="536" height="533"/>
<path d="M218.5 582V578M307.5 582V578M396.5 582V578M485.5 582V578M574.5 582V578"/>
<path d="M218.5 50V54M307.5 50V54M396.5 50V54M485.5 50V54M574.5 50V54"/>
<path d="M129 115.5H134M129 182.5H134M129 249.5H134M129 316.5H134M129 383.5H134M129 450.5H134M129 517.5H134"/>
<path d="M664 115.5H659M664 182.5H659M664 249.5H659M664 316.5H659M664 383.5H659M664 450.5H659M664 517.5H659"/>
</g>
<text transform="translate(129 613.3) scale(1 1.03)" font-size="21.5" text-anchor="middle">90</text>
<text transform="translate(218.5 613.3) scale(1 1.03)" font-size="21.5" text-anchor="middle">100</text>
<text transform="translate(307.5 613.3) scale(1 1.03)" font-size="21.5" text-anchor="middle">110</text>
<text transform="translate(396.5 613.3) scale(1 1.03)" font-size="21.5" text-anchor="middle">120</text>
<text transform="translate(485.5 613.3) scale(1 1.03)" font-size="21.5" text-anchor="middle">130</text>
<text transform="translate(574.5 613.3) scale(1 1.03)" font-size="21.5" text-anchor="middle">140</text>
<text transform="translate(664.5 613.3) scale(1 1.03)" font-size="21.5" text-anchor="middle">150</text>
<text transform="translate(120.5 56.6) scale(1 1.03)" font-size="21.5" text-anchor="end">20</text>
<text transform="translate(120.5 123.374) scale(1 1.03)" font-size="21.5" text-anchor="end">15</text>
<text transform="translate(120.5 190.651) scale(1 1.03)" font-size="21.5" text-anchor="end">10</text>
<text transform="translate(120.5 257.928) scale(1 1.03)" font-size="21.5" text-anchor="end">5</text>
<text transform="translate(120.5 325.204) scale(1 1.03)" font-size="21.5" text-anchor="end">0</text>
<text transform="translate(120.5 392.481) scale(1 1.03)" font-size="21.5" text-anchor="end">-5</text>
<text transform="translate(120.5 459.757) scale(1 1.03)" font-size="21.5" text-anchor="end">-10</text>
<text transform="translate(120.5 527.034) scale(1 1.03)" font-size="21.5" text-anchor="end">-15</text>
<text transform="translate(120.5 591.8) scale(1 1.03)" font-size="21.5" text-anchor="end">-20</text>
<text x="297" y="644" font-size="23">Geographic Lon.</text>
<text x="472" y="644" font-size="23">(</text><circle cx="485" cy="632.2" r="3.3" fill="none" stroke="#262626" stroke-width="1.1"/><text x="491" y="644" font-size="23">)</text>
<g transform="translate(78 414.5) rotate(-90)"><text x="0" y="0" font-size="23">Geographic Lat.</text>
<text x="170" y="0" font-size="23">(</text><circle cx="182.5" cy="-11.4" r="3.3" fill="none" stroke="#262626" stroke-width="1.1"/><text x="188" y="0" font-size="23">)</text></g>
<text x="396.5" y="40.5" font-size="23" font-weight="bold" text-anchor="middle" style="fill:#000">09:00 UT</text>
<g shape-rendering="crispEdges">
<rect x="698.5" y="574.17" width="32" height="8.63" fill="#00008f"/>
<rect x="698.5" y="565.84" width="32" height="8.63" fill="#00009f"/>
<rect x="698.5" y="557.52" width="32" height="8.63" fill="#0000af"/>
<rect x="698.5" y="549.19" width="32" height="8.63" fill="#0000bf"/>
<rect x="698.5" y="540.86" width="32" height="8.63" fill="#0000cf"/>
<rect x="698.5" y="532.53" width="32" height="8.63" fill="#0000df"/>
<rect x="698.5" y="524.20" width="32" height="8.63" fill="#0000ef"/>
<rect x="698.5" y="515.88" width="32" height="8.63" fill="#0000ff"/>
<rect x="698.5" y="507.55" width="32" height="8.63" fill="#0010ff"/>
<rect x="698.5" y="499.22" width="32" height="8.63" fill="#0020ff"/>
<rect x="698.5" y="490.89" width="32" height="8.63" fill="#0030ff"/>
<rect x="698.5" y="482.56" width="32" height="8.63" fill="#0040ff"/>
<rect x="698.5" y="474.23" width="32" height="8.63" fill="#0050ff"/>
<rect x="698.5" y="465.91" width="32" height="8.63" fill="#0060ff"/>
<rect x="698.5" y="457.58" width="32" height="8.63" fill="#0070ff"/>
<rect x="698.5" y="449.25" width="32" height="8.63" fill="#0080ff"/>
<rect x="698.5" y="440.92" width="32" height="8.63" fill="#008fff"/>
<rect x="698.5" y="432.59" width="32" height="8.63" fill="#009fff"/>
<rect x="698.5" y="424.27" width="32" height="8.63" fill="#00afff"/>
<rect x="698.5" y="415.94" width="32" height="8.63" fill="#00bfff"/>
<rect x="698.5" y="407.61" width="32" height="8.63" fill="#00cfff"/>
<rect x="698.5" y="399.28" width="32" height="8.63" fill="#00dfff"/>
<rect x="698.5" y="390.95" width="32" height="8.63" fill="#00efff"/>
<rect x="698.5" y="382.62" width="32" height="8.63" fill="#00ffff"/>
<rect x="698.5" y="374.30" width="32" height="8.63" fill="#10ffef"/>
<rect x="698.5" y="365.97" width="32" height="8.63" fill="#20ffdf"/>
<rect x="698.5" y="357.64" width="32" height="8.63" fill="#30ffcf"/>
<rect x="698.5" y="349.31" width="32" height="8.63" fill="#40ffbf"/>
<rect x="698.5" y="340.98" width="32" height="8.63" fill="#50ffaf"/>
<rect x="698.5" y="332.66" width="32" height="8.63" fill="#60ff9f"/>
<rect x="698.5" y="324.33" width="32" height="8.63" fill="#70ff8f"/>
<rect x="698.5" y="316.00" width="32" height="8.63" fill="#80ff80"/>
<rect x="698.5" y="307.67" width="32" height="8.63" fill="#8fff70"/>
<rect x="698.5" y="299.34" width="32" height="8.63" fill="#9fff60"/>
<rect x="698.5" y="291.02" width="32" height="8.63" fill="#afff50"/>
<rect x="698.5" y="282.69" width="32" height="8.63" fill="#bfff40"/>
<rect x="698.5" y="274.36" width="32" height="8.63" fill="#cfff30"/>
<rect x="698.5" y="266.03" width="32" height="8.63" fill="#dfff20"/>
<rect x="698.5" y="257.70" width="32" height="8.63" fill="#efff10"/>
<rect x="698.5" y="249.38" width="32" height="8.63" fill="#ffff00"/>
<rect x="698.5" y="241.05" width="32" height="8.63" fill="#ffef00"/>
<rect x="698.5" y="232.72" width="32" height="8.63" fill="#ffdf00"/>
<rect x="698.5" y="224.39" width="32" height="8.63" fill="#ffcf00"/>
<rect x="698.5" y="216.06" width="32" height="8.63" fill="#ffbf00"/>
<rect x="698.5" y="207.73" width="32" height="8.63" fill="#ffaf00"/>
<rect x="698.5" y="199.41" width="32" height="8.63" fill="#ff9f00"/>
<rect x="698.5" y="191.08" width="32" height="8.63" fill="#ff8f00"/>
<rect x="698.5" y="182.75" width="32" height="8.63" fill="#ff8000"/>
<rect x="698.5" y="174.42" width="32" height="8.63" fill="#ff7000"/>
<rect x="698.5" y="166.09" width="32" height="8.63" fill="#ff6000"/>
<rect x="698.5" y="157.77" width="32" height="8.63" fill="#ff5000"/>
<rect x="698.5" y="149.44" width="32" height="8.63" fill="#ff4000"/>
<rect x="698.5" y="141.11" width="32" height="8.63" fill="#ff3000"/>
<rect x="698.5" y="132.78" width="32" height="8.63" fill="#ff2000"/>
<rect x="698.5" y="124.45" width="32" height="8.63" fill="#ff1000"/>
<rect x="698.5" y="116.12" width="32" height="8.63" fill="#ff0000"/>
<rect x="698.5" y="107.80" width="32" height="8.63" fill="#ef0000"/>
<rect x="698.5" y="99.47" width="32" height="8.63" fill="#df0000"/>
<rect x="698.5" y="91.14" width="32" height="8.63" fill="#cf0000"/>
<rect x="698.5" y="82.81" width="32" height="8.63" fill="#bf0000"/>
<rect x="698.5" y="74.48" width="32" height="8.63" fill="#af0000"/>
<rect x="698.5" y="66.16" width="32" height="8.63" fill="#9f0000"/>
<rect x="698.5" y="57.83" width="32" height="8.63" fill="#8f0000"/>
<rect x="698.5" y="49.50" width="32" height="8.63" fill="#800000"/>
</g>
<rect x="698.5" y="49.5" width="32" height="533" fill="none" stroke="#262626"/>
<path d="M730 115.5H725M730 182.5H725M730 249.5H725M730 316.5H725M730 383.5H725M730 450.5H725M730 517.5H725" stroke="#262626" stroke-width="1"/>
<text transform="translate(739.3 55.5) scale(1 1.05)" font-size="19" text-anchor="start">0.8</text>
<text transform="translate(739.3 122.425) scale(1 1.05)" font-size="19" text-anchor="start">0.7</text>
<text transform="translate(739.3 189.35) scale(1 1.05)" font-size="19" text-anchor="start">0.6</text>
<text transform="translate(739.3 256.375) scale(1 1.05)" font-size="19" text-anchor="start">0.5</text>
<text transform="translate(739.3 323.3) scale(1 1.05)" font-size="19" text-anchor="start">0.4</text>
<text transform="translate(739.3 390.225) scale(1 1.05)" font-size="19" text-anchor="start">0.3</text>
<text transform="translate(739.3 457.25) scale(1 1.05)" font-size="19" text-anchor="start">0.2</text>
<text transform="translate(739.3 524.175) scale(1 1.05)" font-size="19" text-anchor="start">0.1</text>
<text transform="translate(739.3 591.1) scale(1 1.05)" font-size="19" text-anchor="start">0</text>
<text transform="translate(789.8 316.2) rotate(-90)" font-size="18.8" text-anchor="middle">ROTI (TECU/min)</text>
</svg></body></html>
